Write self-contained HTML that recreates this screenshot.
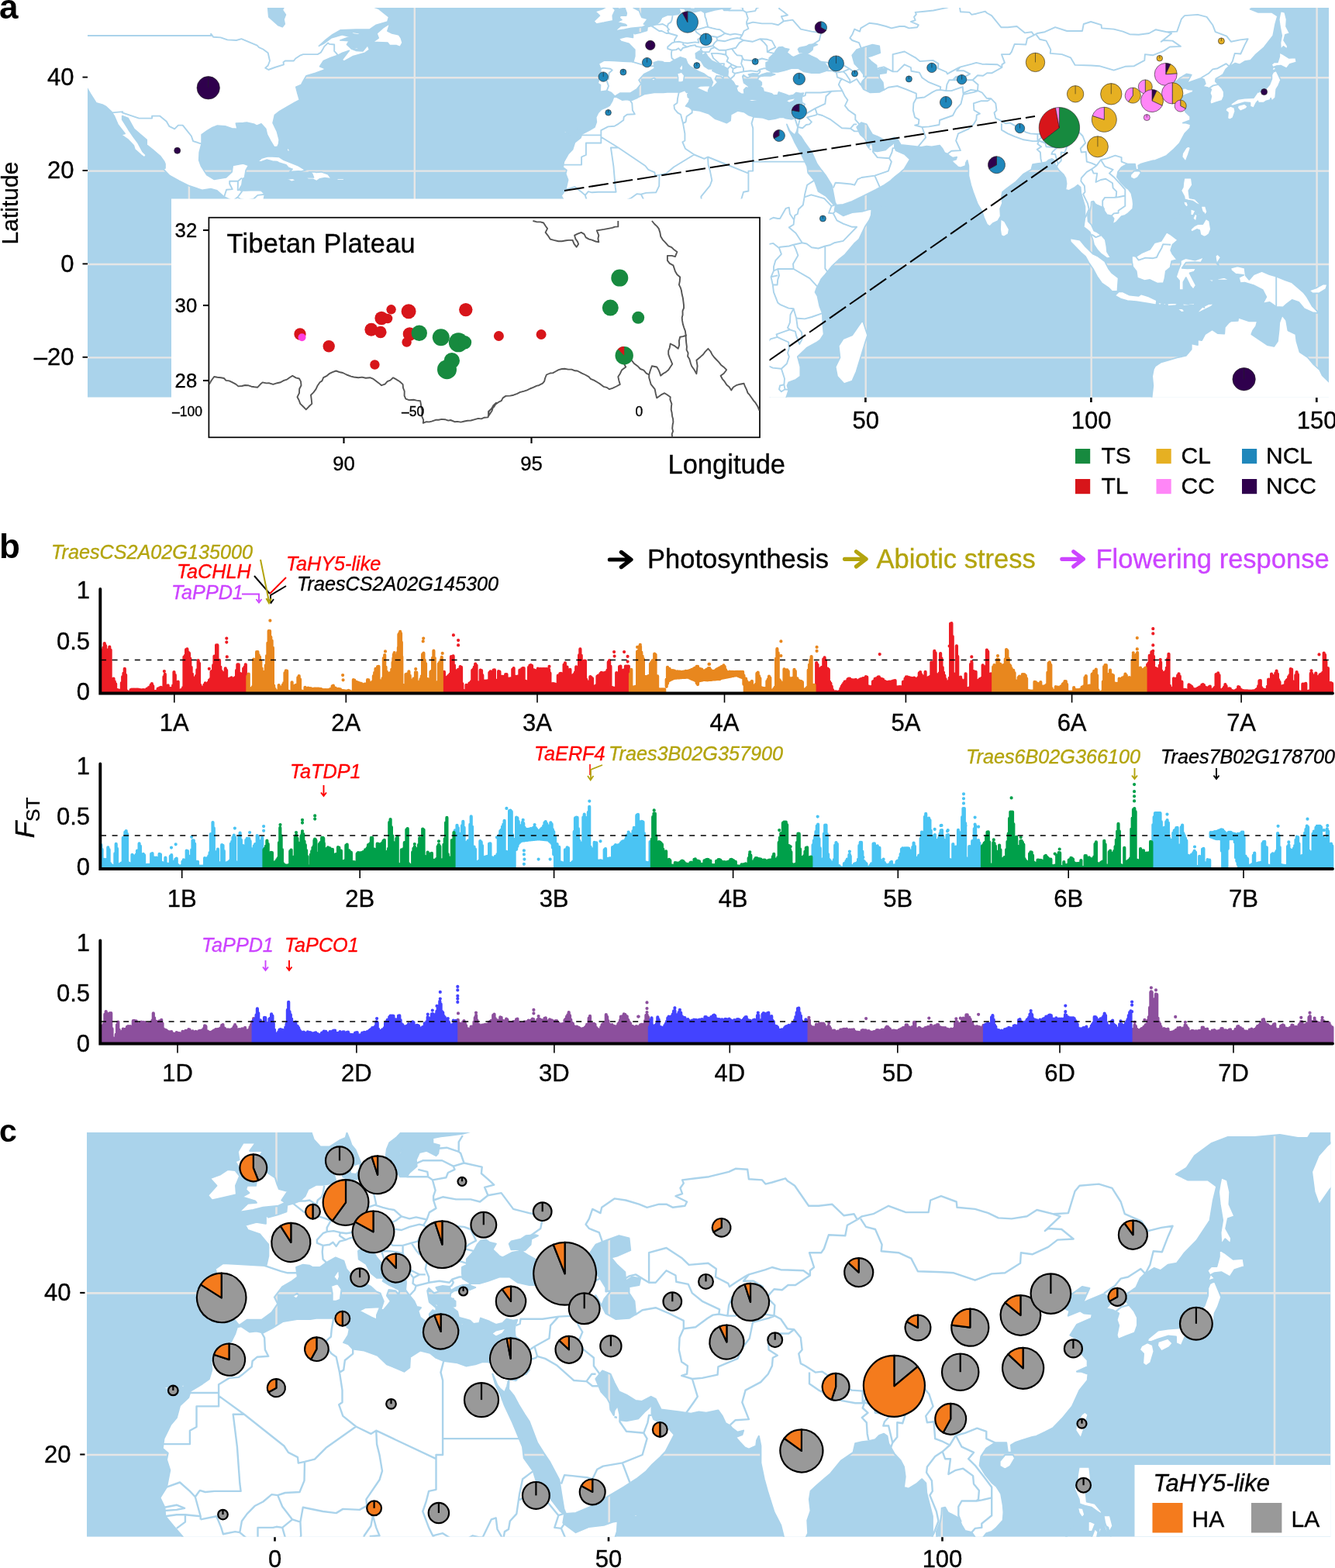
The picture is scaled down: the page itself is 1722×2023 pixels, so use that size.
<!DOCTYPE html>
<html lang="en"><head><meta charset="utf-8"><title>Figure</title>
<style>html,body{margin:0;padding:0;background:#fff}svg{display:block}</style></head>
<body>
<svg width="1722" height="2023" viewBox="0 0 1722 2023" font-family="'Liberation Sans', sans-serif">
<rect width="1722" height="2023" fill="#fff"/>
<clipPath id="ca"><rect x="113.0" y="10.0" width="1601.0" height="502.70000000000005"/></clipPath>
<g clip-path="url(#ca)">
<rect x="113.0" y="10.0" width="1601.0" height="502.70000000000005" fill="#aad3eb"/>
<path d="M113.0,100.2H1714.0M113.0,220.6H1714.0M113.0,341H1714.0M113.0,461.4H1714.0M243.9,10.0V512.7M534.8,10.0V512.7M825.8,10.0V512.7M1116.7,10.0V512.7M1407.7,10.0V512.7M1698.6,10.0V512.7" stroke="#e6e6e6" stroke-width="2.4" fill="none"/>
<path d="M854.8,-50.3 854.8,-32.2 854.8,-26.2 856,-20.2 858.3,-14.2 864.2,-8.8 872.3,-8.8 881,-13.6 886.3,-15.4 887.4,-19 889.8,-14.2 891.5,-10 895,-6.4 899.1,2.1 900.8,6.3 901.4,7.5 908.4,7.5 909.5,4.5 918.3,3.3 921.2,0.3 922.3,-7 924.7,-11.8 931.1,-16 935.7,-20.2 926.4,-24.4 925.8,-32.2 949.7,-32.2 950.3,-26.2 949.7,-23.8 956.7,-20.2 959.6,-19.6 971.2,-21.4 982.9,-23.2 991.6,-23.2 995.7,-20.2 988.7,-18.5 977,-17.2 969.5,-16.6 962.5,-15.4 962.5,-11.2 968.3,-10 967.2,-3.9 965.4,-2.1 957.3,-5.8 950.9,-4.5 947.9,0.9 948.5,5.7 942.1,10.5 939.8,13.5 934,13.5 932.2,11.1 921.8,12.9 909,16.5 904.3,13.5 896.2,15.3 889.8,15.9 883.9,13.5 883.4,11.1 881.6,6.9 885.1,2.7 889.2,1.5 885.7,-2.1 887.4,-6.4 881,-2.7 873.5,-0.9 872.9,6.9 875.8,10.5 877.5,15.9 875.2,18.3 866.5,19.5 860.7,19.5 853.7,22.5 850.8,28 846.1,31.6 840.3,33.4 835.1,34.6 834.5,39.4 826.9,41.8 818.8,43.6 816.4,41.8 816.4,48.4 808.3,47.2 798.4,49.6 800.7,53.2 811.2,56.3 814.1,59.3 818.8,64.1 818.8,72.5 817,79.1 815.3,79.7 803.6,79.1 792,78.5 779.2,77.9 772.2,82.1 774.5,88.2 775.1,94.2 771.1,107.4 774.5,109.8 774,118.3 782.7,117.1 788.5,119.5 793.2,124.3 800.1,120.1 812.9,120.1 821.7,114.6 826.9,108 824,103.2 831,95.4 838.6,91.8 844.4,88.2 843.8,85.2 843.2,80.9 849,79.1 854.8,79.7 857.2,80.9 864.2,80.9 868.8,77.9 877.5,73.7 884.5,76.1 886.8,82.1 890.3,85.8 897.3,90 901.4,92.4 908.4,95.4 913,99 916.5,100.2 919.4,106.2 917.1,112.2 919.4,112.8 922.3,109.8 925.8,106.2 922.3,102 924.1,97.8 929.9,98.4 932.8,101.4 933.4,97.8 924.7,94.2 918.9,91.2 920,88.8 913.6,88.8 908.4,85.2 904.3,78.5 897.9,74.9 897.3,68.9 902,65.9 906.1,66.5 904.9,70.1 907.2,70.7 910.1,68.3 913,73.1 918.3,78.5 927.6,82.7 933.4,85.8 938.6,88.8 939.2,92.4 938.6,97.8 942.1,102 946.2,106.2 948.5,110.4 952,111 949.7,113.4 951.4,118.3 956.1,121.3 960.2,121.3 959.6,115.9 962.5,112.8 965.4,114 965.4,111 959.6,106.8 959,104.4 957.8,98.4 959,96.6 963.7,100.2 967.7,99 965.4,96 971.2,94.8 977,95.4 978.2,98.4 982.9,96 988.7,94.2 994.5,93.9 995.1,92.7 988.7,89.4 988.1,85.2 988.1,80.9 992.2,79.1 992.2,74.9 998.6,68.9 1001.5,64.1 1004.4,61.1 1009,60.5 1012,62.3 1017.8,63.5 1014.9,67.7 1020.7,72.5 1023.6,73.7 1031.7,70.1 1038.7,68.9 1038.1,67.4 1031.2,67.7 1029.4,63.5 1031.2,61.7 1039.9,59.9 1044,57.5 1052.1,56.9 1054.4,57.5 1048.6,59.9 1048,64.1 1043.4,68 1039.9,68.9 1045.7,71.9 1053.3,75.5 1056.8,78.5 1064.3,82.1 1068.4,87.6 1067.8,90.6 1056.8,94.2 1046.9,94.2 1037,92.4 1030,88.2 1020.7,88.2 1010.8,91.2 1003.2,93 995.7,93 994.8,94.5 999.7,96 994.5,97.8 985.8,97.8 981.1,98.4 978.2,100.2 977.6,103.2 982.3,106.2 982.3,109.8 978.8,110.4 984,114 985.2,118.3 990.4,119.5 995.1,120.7 998,123.1 1003.2,122.5 1004.4,118.9 1012,121.3 1017.8,123.7 1023.6,122.5 1027.1,119.5 1032.9,120.7 1036.4,120.1 1034.7,124.3 1034.1,127.3 1034.7,133.3 1032.3,136.9 1030,141.7 1028.3,147.8 1025.3,152.6 1021.3,153.8 1013.7,152.6 1010.8,151.4 1005.6,151.4 999.7,153.2 991.6,154.4 984,152 972.4,150.8 965.4,148.4 960.2,144.7 951.4,142.9 942.7,147.8 942.1,155.6 937.5,158.6 927.6,155 922.3,153.2 914.2,146.6 902.6,142.9 892.7,141.7 888.6,138.1 884.5,136.9 888.6,131.5 889.8,126.7 887.4,125.5 886.8,121.9 890.3,118.3 885.7,119.5 883.4,116.5 877,118.9 871.1,118.9 860.7,118.9 855.4,119.5 843.8,119.5 831.6,121.3 822.3,126.1 814.1,129.7 808.3,128.5 802.5,129.1 794.9,124.9 791.4,125.5 789.7,130.3 786.2,136.3 781.5,138.7 775.7,141.1 771.6,145.4 768.7,151.4 769.3,157.4 767,164 761.2,167.6 750.7,173 748.9,177.9 741.4,183.9 738.5,192.9 733.2,198.3 727.4,208.6 726.2,215.8 730.9,219.4 729.7,224.2 732.6,232 729.7,244.7 723.9,252.5 728,259.7 728.6,266.4 735.6,273.6 746,283.8 748.9,289.8 762.9,303.1 780.9,314.5 802.5,309.1 813.5,312.7 824.6,307.9 832.7,304.3 845.5,302.5 860.7,315.1 866.5,314.5 875.2,313.9 882.2,317.5 882.8,327.2 880.4,338.6 876.4,345.2 881,353 894.4,369.9 897.3,377.1 902.6,394 904.3,415 896.2,432.5 894.4,445.1 898.5,455.4 910.1,478.9 913.6,501.1 921.8,513.2 926.4,524.6 932.8,545.1 942.1,550.5 974.7,545.7 988.1,539.7 1006.1,521 1014.3,512.6 1017.2,503.5 1015.4,497.5 1017.2,493.3 1026.5,489.7 1032.3,485.5 1032.3,473.4 1028.8,460.2 1040.5,448.8 1052.7,442.1 1057.9,438.5 1062.6,431.3 1061.4,419.3 1060.8,404.2 1057.3,395.2 1054.4,381.9 1051.5,377.1 1053.3,371.7 1056.8,365.1 1059.1,360.3 1064.3,354.2 1073.1,343.4 1081.8,335 1089.4,329 1102.2,313.9 1108,308.5 1115.5,292.8 1121.4,283.8 1123.7,277.8 1124.3,270 1119.6,270.6 1112,273 1099.2,274.2 1087.6,278.4 1078.9,273 1076.5,271.2 1077.7,265.1 1074.2,262.7 1065.5,253.1 1055.6,247.1 1050.4,232.6 1042.2,223 1041.1,214.6 1035.2,202.5 1032.3,196.5 1025.3,183.9 1022.4,177.3 1017.2,167.6 1014.9,160.4 1016,162.8 1018.9,168.8 1021.3,171.2 1025.3,174.2 1027.7,169.4 1029.1,163.4 1028.8,171.8 1033.5,176.7 1037.6,183.3 1042.8,190.5 1046.9,195.9 1053.9,211.6 1059.7,219.4 1064.9,226 1073.1,239.3 1075.4,251.9 1077.1,260.9 1078.9,264.5 1087.6,263.9 1099.2,259.7 1111.5,253.7 1129.5,244.7 1140.6,238.7 1148.7,233.2 1154.5,227.8 1161.5,222.4 1166.2,218.2 1173.7,205.6 1166.7,198.9 1155.7,194.1 1153.9,189.9 1153.9,182.7 1151.6,185.7 1147.5,188.7 1142.3,193.5 1131.8,195.3 1126,194.7 1126,190.5 1124.3,183.9 1121.4,187.5 1120.8,191.1 1117.9,186.9 1117.3,182.1 1115,178.5 1109.7,173.6 1105.1,164 1108.6,160.4 1110.9,158 1117.9,160.4 1121.4,167 1125.4,173.6 1131.8,176.1 1140,180.3 1145.2,180.9 1153.4,177.3 1157.4,179.1 1162.1,186.9 1178.4,188.7 1188.3,189.9 1195.3,188.7 1201.7,189.3 1212.1,187.5 1215.6,191.7 1218.5,197.1 1222.6,198.9 1224.4,200.7 1229,203.7 1234.2,202.5 1233.1,205.6 1227.3,207.4 1230.8,211 1235.4,215.2 1238.9,216.4 1245.3,214 1245.9,209.8 1247.6,206.8 1249.4,214 1249.4,226.6 1252.3,238.7 1255.2,247.7 1261,263.3 1266.8,273 1269.2,280.8 1273.2,289.8 1276.7,292.2 1280.8,288 1287.2,285 1290.7,279 1290.1,269.4 1293,262.1 1291.9,253.7 1293,247.7 1298.3,243.5 1304.7,238.7 1310.5,234.4 1319.8,224.8 1325,221.8 1330.3,218.8 1332,212.2 1337.8,211 1343.6,210.4 1349.5,209.2 1353,206.2 1357,204.9 1359.9,206.8 1361.1,212.2 1366.3,220 1371.6,224.8 1374.5,229.6 1375.6,236.9 1374.5,244.7 1378.6,245.9 1385.5,242.3 1390.2,238.7 1393.7,241.7 1394.3,248.9 1396.6,256.7 1399.5,266.4 1399.5,280.8 1397.8,292.8 1401.8,295.9 1405.9,299.5 1409.4,308.5 1411.1,315.7 1415.8,322.9 1420.5,327.8 1428,333.2 1432.7,332.6 1428,324.7 1427.4,318.1 1425.7,309.1 1421,303.7 1415.2,299.5 1411.1,297.7 1407.7,289.8 1403.6,285.6 1403,277.8 1406.5,270 1407.4,265.1 1407.7,260.3 1410.6,259.7 1412.9,263.3 1415.2,264.5 1422.2,267.6 1425.1,273 1428,277.2 1433.8,278.4 1436.7,282 1435,289.2 1439.7,286.8 1446.6,279 1451.3,277.8 1454.8,275.4 1461.2,269.4 1461.8,263.3 1461.2,257.9 1459.4,249.5 1455.4,244.1 1451.9,241.7 1446.1,235.7 1440.8,228.4 1442,221.8 1446.6,215.8 1454.2,211.6 1460.6,211.6 1464.1,211.6 1465.3,218.8 1468.7,218.8 1468.2,213.4 1471.7,211.6 1477.5,209.8 1486.8,207.4 1490.3,206.8 1497.8,203.7 1504.8,200.7 1513,193.5 1521.7,184.5 1528.1,172.4 1535.1,165.2 1535.7,160.4 1529.8,158.6 1525.8,158.6 1535.1,155 1535.1,150.2 1529.3,144.7 1525.8,134.5 1520,131.5 1525.8,123.7 1538.6,118.9 1539.2,115.9 1532.2,115.3 1528.7,113.4 1518.2,117.1 1519.4,113.4 1512.4,110.4 1511.2,106.2 1518.2,104.4 1521.7,100.8 1530.4,95.4 1536.8,96.6 1531,107.4 1535.7,105.6 1549.1,100.8 1553.1,102.6 1554.9,108 1551.4,111.6 1557.2,112.8 1562.4,115.3 1560.7,120.1 1562.4,124.3 1560.7,131.5 1561.9,134.5 1568.8,132.1 1576.4,129.7 1578.7,124.3 1578.7,118.3 1575.8,113.4 1567.7,105 1568.3,101.4 1573.5,98.4 1577.6,96 1581.1,89.4 1584.5,86.4 1593.3,81.5 1599.1,83.3 1605.5,79.1 1613.1,77.9 1620,70.1 1630.5,61.1 1642.2,46 1645.1,31 1648,20.7 1640.4,15.9 1625.9,15.9 1623,15.9 1612.5,11.7 1621.8,6.9 1628.8,-2.1 1643.3,-11.2 1657.9,-16 1681.1,-16 1703.3,-17.8 1719,-15.4 1727.7,-15.4 1737.6,-29.2 1756.8,-30.4 1777.2,-35.2 1780.1,-26.2 1765.5,-23.2 1745.2,-10 1737,-2.1 1731.2,9.9 1733.5,25 1737.6,34.6 1746.9,23.1 1756.8,12.9 1767.3,8.7 1769.6,2.7 1776,-7 1785.9,-20.2 1815,-50.3ZM792.6,40 805.4,38.2 814.1,36.4 827.5,35.2 833.9,32.8 830.4,31 835.6,24.3 828.1,22.5 826.3,18.9 824.6,14.1 817,9.9 814.1,4.5 807.1,3.9 814.1,-5.8 802.5,-5.8 807.7,-11.8 796.7,-11.8 792,-5.1 793.2,0.9 789.7,2.1 793.7,8.1 797.8,6.3 796.7,11.7 806,10.5 808.3,17.1 807.7,20.1 800.1,20.1 799,23.1 801.9,25.6 795.5,28.6 807.1,31.6 808.3,32.8 800.7,33.4 792.6,40ZM790.8,26.8 790.3,20.1 793.7,12.9 789.7,8.7 783.3,8.1 776.9,11.7 767.6,14.7 773.4,20.1 765.8,27.4 769.3,31 779.2,29.2 790.8,26.8ZM890.3,5.7 899.1,3.3 898.5,8.1 895.6,11.7 890.3,11.1 890.3,8.7 883.9,9.9 882.8,6.9 888,6.3ZM931.1,-2.1 936.3,-7.6 935.1,-3.9ZM875.8,88.2 880.4,82.1 881,88.2 879.3,91.8 875.8,88.2ZM873.5,94.8 879.3,93 882.8,97.2 881.6,105 878.1,106.2 874.6,106.2 874.6,100.2ZM897.9,113.4 903.1,111 916.5,110.4 913.6,116.5 913.6,120.1 909,118.3 897.9,113.4ZM962.5,128.5 968.3,127.9 978.8,129.1 978.2,130.3 969.5,130.9 962.5,128.5ZM1013.7,130.3 1017.8,127.9 1027.1,126.1 1023.6,130.3 1017.8,132.7 1013.7,130.3ZM839.7,102.6 843.8,100.5 845.5,102 843.2,104.4 839.7,102.6ZM960.8,106.8 968.9,112.2 966.6,108.6ZM986.9,123.1 989.8,121.9 988.7,124.9ZM976.5,105 980.5,104.4 979.4,106.2ZM1290.7,282.6 1295.9,285.6 1301.7,295.9 1300.6,301.9 1294.8,305.5 1291.3,303.7 1290.1,295.9 1290.7,282.6ZM1112.6,413.2 1119,432.5 1115.5,443.3 1110.9,458.4 1104.5,479.5 1099.2,491.5 1088.8,495.1 1080,485.5 1077.7,473.4 1083.5,461.4 1081.8,446.4 1087.6,437.3 1099.2,432.5 1105.1,424.1 1112.6,413.2ZM1136.5,265.1 1142.9,265.1 1140,267ZM1458.3,225.4 1462.9,220.6 1469.9,220.6 1471.7,223 1467.6,229 1462.9,231.4 1458.3,229ZM1532.8,188.7 1535.7,190.5 1532.8,199.5 1529.3,208.6 1524.6,202.5 1525.2,197.7 1529.8,190.5ZM1587.5,136.9 1592.1,138.7 1593.3,143.5 1590.4,152 1586.3,154.4 1583.4,152.6 1584,145.4 1580.5,142.3 1582.2,139.3ZM1596.8,136.3 1605.5,133.9 1609.6,137.5 1606.7,140.5 1599.7,143.5 1596.2,139.3ZM1587.5,136.3 1588,133.9 1596.8,127.9 1605.5,126.7 1617.1,126.1 1621.2,120.1 1624.7,115.3 1623,118.9 1631.7,115.9 1637.5,109.2 1640.4,102 1640.4,96.6 1642.2,93 1646.2,91.2 1649.1,97.2 1652,103.2 1649.1,110.4 1646.2,115.3 1645.6,121.3 1645.1,126.1 1640.4,130.3 1639.2,126.7 1638.1,129.1 1633.4,130.3 1629.9,132.7 1623,132.7 1622.4,130.3 1620,133.3 1617.1,139.3 1612.5,137.5 1612.5,132.7 1605.5,132.1 1596.8,134.5 1590.9,136.3 1587.5,136.3ZM1640.4,91.2 1642.2,87 1639.8,83.3 1643.3,80.3 1648,80.3 1650.3,73.1 1650.3,67.7 1655,70.1 1662.5,74.9 1671.3,74.3 1672.4,80.3 1663.7,82.7 1659.6,88.2 1652,84.5 1646.2,85.2 1643.3,86.4 1646.8,89.4 1640.4,91.2ZM1652,14.1 1657.3,15.9 1659.6,25 1659,34 1663.7,43 1657.9,44.8 1656.1,52 1660.8,59.3 1660.2,63.5 1655.5,59.9 1652,64.1 1651.5,55.1 1653.2,46 1650.9,34 1649.7,25 1650.9,18.9 1652,14.1ZM1527.5,229.6 1536.8,229.6 1538,238.7 1533.3,245.9 1534.5,255.5 1541.5,256.7 1547.3,262.7 1547.9,265.1 1543.2,262.7 1538.6,259.7 1532.8,258.5 1528.1,257.3 1527.5,253.7 1523.4,245.9 1525.8,241.7 1526.4,235.7ZM1526.4,259.7 1531,260.3 1532.8,265.1 1530.4,267.6 1527.5,263.9ZM1507.7,290.4 1515.3,283.2 1521.1,276 1522.3,272.4 1519.4,277.8 1512.4,286.8ZM1535.7,269.4 1542.1,271.8 1539.2,277.8 1535.7,277.8ZM1541.5,275.4 1544.4,277.8 1542.7,285.6 1538.6,282ZM1545.6,273.6 1547.3,276 1543.8,283.8ZM1549.1,265.8 1554.9,265.8 1557.2,273.6 1553.1,279.6 1552,275.4 1550.2,271.2ZM1549.1,272.4 1553.1,274.8 1554.3,280.2 1552,280.2ZM1555.5,282 1560.1,285 1561.9,295.9 1559.5,301.9 1555.5,304.9 1553.1,305.5 1548.5,303.1 1547.3,297.1 1543.8,295.9 1536.8,299.5 1535.7,295.9 1540.3,291.6 1545,289.2 1551.4,289.2 1555.5,282ZM1460,330.2 1465.8,330.8 1473.4,325.9 1483.3,321.7 1489.1,313.3 1497.8,310.9 1504.8,299.5 1510.6,303.1 1519.4,309.7 1512.4,315.7 1510.1,322.9 1512.4,327.8 1518.2,335 1511.2,336.8 1509.5,345.2 1503.7,350 1502.5,359.1 1500.8,365.1 1493.2,365.7 1483.3,360.9 1476.3,362.1 1467,358.5 1465.8,350 1461.2,344 1460,336.2ZM1380.3,307.3 1393.1,309.7 1400.1,318.1 1410,327.8 1416.4,330.8 1425.1,337.4 1429.8,346.4 1433.8,351.8 1442.6,358.5 1442,366.9 1441.4,375.9 1434.4,375.9 1429.8,371.1 1421,365.1 1415.2,356.7 1410,347 1404.7,339.2 1400.1,330.8 1394.3,325.9 1387.3,318.7 1380.9,312.1ZM1437.9,381.3 1443.1,376.5 1448.4,376.5 1457.1,380.7 1468.7,381.9 1471.7,379.5 1481.6,382.5 1492,387.4 1491.4,393.4 1481.6,391.6 1465.8,389.2 1454.2,388 1445.5,385.5 1437.9,381.3ZM1492,389.8 1499,391 1496.1,394ZM1500.2,391 1504.8,391.6 1501.9,394.6ZM1505.4,391.6 1513.6,391 1518.8,391.6 1517,394 1506.6,395.2ZM1523.4,391.6 1532.8,392.2 1541.5,391 1540.3,393.4 1526.9,394.6ZM1518.2,398.2 1525.2,398.2 1528.7,401.8 1524,403ZM1544.4,403 1550.2,396.4 1558.9,392.2 1566.5,391.6 1561.9,395.8 1553.1,400 1547.3,403ZM1522.9,336.2 1529.3,333.2 1541.5,335.6 1553.1,331.4 1549.1,338.6 1541.5,338 1529.8,338.6 1524.6,345.8 1531.6,346.4 1543.2,345.8 1540.3,350.6 1534.5,352.4 1538.6,360.3 1542.7,368.1 1539.2,373.5 1535.1,368.7 1529.8,357.9 1526.4,363.9 1526.4,374.1 1521.1,374.1 1521.1,362.1 1517,357.3 1520,348.2 1522.9,341ZM1567.7,330.2 1570.6,327.8 1574.7,332 1570.6,338.6 1572.9,344.6 1569.4,339.8 1568.3,335ZM1570.6,359.7 1579.3,357.9 1586.9,361.5 1579.3,361.5 1570.6,361.5ZM1559.5,360.3 1565.9,360.9 1563.6,363.9 1559.5,362.1ZM1587.5,345.8 1596.2,343.4 1605.5,345.8 1606.7,355.4 1611.3,360.9 1617.1,354.2 1627.6,350 1637.5,354.2 1646.2,356.7 1657.9,361.5 1666.6,364.5 1674.2,371.1 1681.1,377.1 1685.8,383.1 1692.8,395.2 1701.5,404.2 1692.8,403 1682.3,398.2 1675.3,389.8 1666.6,386.8 1659.6,392.2 1655,396.4 1646.2,395.8 1637.5,389.8 1628.8,391.6 1633.4,383.1 1628.8,374.1 1617.1,368.1 1605.5,364.5 1599.7,365.1 1597.9,357.9 1604.3,354.8 1593.9,353.6 1588,348.8ZM1688.7,374.7 1698.6,371.1 1707.3,366.3 1712,366.9 1710.2,372.9 1701.5,378.3 1692.8,378.3ZM1487.4,497.5 1486.2,485.5 1488,476.4 1490.3,472.2 1497.8,467.4 1506.6,465 1518.2,461.4 1529.8,459 1536.8,450.6 1536.8,443.3 1545,445.1 1545,438.5 1550.2,439.1 1554.3,431.3 1563.6,425.3 1570.6,430.1 1579.3,430.7 1579.9,422.3 1585.1,416.2 1588,414.4 1596.8,413.8 1597.3,409.6 1611.3,414.4 1621.8,414.4 1620,421.1 1616,426.5 1614.2,431.3 1623,437.3 1634.6,445.1 1643.3,447 1648,440.3 1649.7,425.3 1650.3,416.2 1653.8,406.6 1659,413.2 1661.4,426.5 1671.3,431.3 1672.4,440.3 1676.5,454.2 1687,461.4 1694.5,470.4 1702.1,477.1 1705.6,484.3 1716.1,494.5 1717.8,506.5 1719.5,515.6 1719.5,533.6 1483.3,533.6ZM11.1,-20.2 51.8,3.9 69.3,12.9 80.9,34 98.4,46 100.1,49.6 104.2,62.9 101.9,82.1 103,97.8 110,110.4 112.9,114.6 116.4,120.7 124,132.7 132.1,135.1 136.8,137.5 143.8,144.1 147.3,149.6 151.9,160.4 161.2,172.4 156,173.6 165.3,180.3 172.3,187.5 174,192.9 182.2,200.1 186.2,203.1 188.6,200.1 183.9,195.3 178.1,184.5 172.3,176.7 165.3,166.4 157.7,154.4 157.7,149.6 165.3,152.6 172.9,166.4 180.4,173 189.2,180.3 189.2,186.9 197.3,193.5 206.6,201.3 211.8,208.6 213,211.6 213,217 210.7,218.2 218.8,226.6 231,233.2 244.4,239.9 260.7,245.3 271.8,243.5 279.9,245.9 288.7,253.7 296.2,257.3 307.9,260.9 315.4,262.7 319.5,268.8 325.3,274.8 338.1,274.8 339.9,265.8 340.4,256.7 341.6,250.7 337,245.9 331.1,245.3 316.6,245.9 310.8,245.9 308.4,244.7 311.9,238.7 313.1,230.2 315.4,229.6 317.2,219.4 320.7,213.4 313.7,211 300.3,213.4 299.1,221.8 291.6,229 276.4,231.4 266.5,225.4 259.6,214.6 256.7,206.8 257.2,196.5 260.1,185.1 260.1,173.6 267.1,168.8 274.1,164.6 279.9,162.2 290.4,162.8 299.1,165.8 306.1,166.4 304.4,159.2 313.7,158.6 318.3,158 328.2,160.4 331.1,162.2 337,159.8 342.8,166.4 344.5,173.6 348.6,181.5 353.8,189.9 357.9,189.3 359.6,185.7 360.2,180.3 357.3,169.4 352.1,158.6 354.4,148.4 360.8,143.5 371.9,136.9 380.6,132.1 386.4,129.1 383.5,118.9 381.8,112.2 388.7,109.2 389.9,106.8 395.1,97.8 406.8,94.2 418.4,90 418.4,88.2 412.6,85.8 417.3,78.5 427.1,74.3 435.9,71.3 441.7,68.3 450.4,65.3 441.1,77.3 444,79.1 455.7,72.5 470.8,68.3 476.6,64.1 474.3,58.1 467.9,65.9 459.2,65.3 453.3,62.9 447.5,57.5 450.4,52.6 438.8,52 451.6,47.2 441.7,44.8 427.1,49 417.3,56.3 411.4,59.3 416.1,55.1 420.2,51.4 428.9,44.8 439.4,38.8 459.2,38.2 476.6,38.2 485.3,32.2 499.9,28 501.6,21.9 494.1,15.9 488.2,11.1 479.5,8.1 473.7,3.9 470.8,-20.2ZM480.7,54.4 488.2,49 485.9,43 494.1,35.8 502.8,30.4 499.9,40 505.7,43 514.4,44.8 517.3,49 519.1,55.1 516.2,60.5 511.5,58.7 502.8,58.7 499.9,55.1 480.7,54.4ZM450.4,40.6 462.1,42.4 466.7,45.4 456.2,44.2ZM451,59.9 459.2,61.7 465,61.7 460.3,64.1 453.3,61.7ZM331.7,209.2 337,204.3 342.8,202.5 346.3,201.6 351.5,201.9 360.2,202.5 366,206.2 374.8,209.8 385.3,214 392.2,218.2 394.6,219.4 388.2,221.2 384.7,220.9 373.6,221.5 377.1,218.2 371.9,216.4 369,212.8 360.8,210.4 357.3,208.6 351.5,208 343.9,206.2 337.5,208.6 331.7,209.2ZM392.8,229 398.1,231.4 403.9,231.4 408.5,233.8 412.6,230.8 419,229.6 427.7,230.8 423.1,224.8 414.3,221.8 407.9,222.4 405.6,221.8 398.6,221.8 402.7,224.2 404.5,229 392.8,229ZM370.1,230.8 377.7,230.2 382.3,232.6 376.5,234.4 370.1,231.4ZM434.7,230.2 444,230.2 443.4,232.6 434.7,232.6ZM370.7,189.9 373.6,193.5 372.4,197.1 370.1,193.5ZM727.4,170 732.1,169.4 729.7,172.4ZM733.8,171.8 736.1,171.8 735.6,173.6ZM742.5,168.8 745.4,168.2 744.3,171.8ZM745.4,165.2 747.8,165.2 747.2,167ZM1113.8,61.1 1105.1,64.1 1099.2,71.3 1102.2,82.1 1108,88.2 1113.8,96 1113.8,99 1118.4,98.4 1112.6,104.4 1110.3,109.2 1113.8,115.3 1122.5,119.5 1134.2,118.9 1140,115.9 1138.8,106.2 1134.2,100.2 1134.2,95.4 1142.9,94.2 1144,89.4 1137.1,88.2 1131.2,91.2 1130.7,84.5 1123.7,79.1 1118.4,73.7 1123.7,72.5 1135.3,68.3 1134.2,59.3 1125.4,57.5ZM345.1,3.9 346.8,21.9 354.4,28.6 359.1,32.8 364.3,34.6 367.2,31 366,25 368.4,18.9 364.3,12.9 369,3.9Z" fill="#fff" stroke="#aad3eb" stroke-width="1.7" stroke-linejoin="round" fill-rule="evenodd"/>
<path d="M108.3,46 272.1,46 272.1,43.6 275.3,47.8 284.6,48.4 293.3,51.4 304.9,52 311.4,50.2 331.7,58.7 334,61.1 339.3,63.5 345.7,68.3 348,78.5 345.7,84.5 342.2,87.6 346.3,90 354.4,87 366,83.3 365.5,80.3 367.8,78.5 378.9,78.5 381.2,75.5 387.6,71.3 391.1,70.1 409.7,70.1 413.8,67.7 416.7,62.9 418.4,59.9 423.1,55.4 424.8,56.9 431.2,57.5 431.2,65.9 433.5,68.3 435.9,71.3M144.3,145.4 158.3,144.1 157.7,145.4 179.3,152.6 196.1,152.6 196.1,149.6 206,149.6 214.8,156.8 218.2,162.8 225.2,166.4 229.9,161.6 235.7,161.6 240.9,168.2 246.8,175.5 249.1,182.1 258.4,185.1 260.1,185.1M289.2,253.7 292.1,244.7 299.7,244.1 296.2,237.2 296.2,233.8 307,233.8 311.9,229.6M307,233.8 306.7,245.3 308.4,245.3M312.5,246.5 306.7,254.3 301.5,258.2M306.1,254.3 310.8,257.3 315.4,257.9 314.8,260.9M317.8,262.7 321.2,257.9 327.1,256.7 332.3,251.9 341.6,250.7M812.9,129.7 815.3,133.3 815.9,142.3 818.8,147.2 808.9,147.8 804.8,150.8 804.2,155 796.7,160.4 792.6,162.8 784.4,163.4 775.3,168.2 775.3,176.7 775.3,184.5 755.9,184.5 755.9,199.8 750.1,202.5 750.1,212.6 727.1,212.6M775.3,174.4 748.9,174.4M775.3,176.7 797.6,190.5 832.4,214 836.2,218.8 844.4,222.4 845,226.7 850.5,225.7 859.2,223.9 869.1,215.5 895.4,199.5M797.6,190.5 787.9,190.5 791.4,214.6 793.7,241.7 794.6,247.7 771.6,247.7 763.5,248.3 758.8,247.1 754.8,251.9M729.7,244.7 741.4,241.1 750.1,247.7 754.8,251.9 759.4,266.4 759.4,268.8M728.6,266.4 738.5,265.1 746,265.1 759.4,266.4M728,259.7 738.5,257.9 745.4,260.3 738.5,261.5 728,262.1M738.5,275.4 746,270.6 746,265.1M759.4,268.8 773.4,266.4 777.5,274.8 779.2,279.6 789.7,277.8 793.7,278.4 795.5,270 800.1,264.5 807.1,258.5 814.1,255.5 821.7,250.1 826.9,250.7 833.3,248.9 846.1,248.3 850.2,239.9 850.5,225.7M793.7,278.4 799.6,282.6 809.5,283.2 809.5,274.8 822.8,274.8 825.8,274.2 831,274.8 839.7,268.8 831,259.1 826.9,250.7M831,274.8 835.1,286.8M839.7,268.8 846.7,270.6 849,259.7 866.5,262.7 878.1,263.9 883.9,260.9 898.5,261.5 904.9,258.5 907.8,262.1 910.1,265.8 908.4,273.6 902.6,280.8 900.2,288.6M846.7,270.6 847.3,280.8 841.5,292.8M910.1,265.8 913,274.8 915.9,280.8 907.2,281.4M904.9,258.5 904.3,253.7 915.9,239.3 918.3,232.6 915.9,220.6 913.6,212.8 913,202.5M895.4,199.5 908.4,204.9 913,202.5 965.4,223.6 965.4,246.5 959,247.7 956.7,255.5 953.8,262.7 959,274.8 962.5,280.8M965.4,223.6 965.4,220.6 971.2,220.6 971.2,208.6 971.2,165.2 969.5,159.2 972.1,150.5M971.2,208.6 1008.5,208.6 1040.5,208.6M892.7,141.7 892.7,145.4 885.7,150.2 884.5,157.4 881,159.2 883.4,172.4 883.4,181.5 880.4,183.3 883.9,191.7 895.4,199.5M875.8,118.9 874,127.3 873.5,132.7 869.4,135.7 870,140.5 874,145.4 878.1,147.8 881,159.2M1050.4,232.6 1041.1,238.7 1038.1,250.7 1037.6,254.3 1035.8,264.5 1030,270 1028.8,276 1025.3,277.8 1024.2,283.8 1023.6,289.8 1017.8,293.4 1026.5,300.7 1034.7,313.3 1023.6,315.7 1017.8,317.5 1006.1,318.7 1005,319.9 1007.9,327.8 1000.3,336.2 998,344 998,349.4 994.5,357.3 996.8,367.5 998,377.1 1003.2,390.4 1006.1,392.8 1017.2,397.6 1023.6,398.2 1019.5,406 1018.9,416.2 1016,422.9 1018.9,425.3 1001.5,431.3 1002.6,434.9 993.9,437.3 982.9,448.8 973,448.2M1037.6,254.3 1046.3,251.3 1052.7,253.1 1063.2,256.1 1072.5,265.8 1076.5,264.5M1072.5,265.8 1069,274.8 1074.8,275.4 1077.7,271.8M1074.8,275.4 1079.5,284.4 1087.6,288.6 1099.2,292.8 1105.1,292.8 1087.6,310.9 1076,313.3 1070.1,316.3 1064.3,317.5 1055.6,320.5 1046.9,319.3 1040.5,314.5 1034.7,313.3M1064.3,317.5 1064.3,341 1064.3,346.4 1067.8,351.2M1053.9,369.3 1044.5,359.1 1023.6,347 1023,340.4 1026.5,334.4 1029.4,329.6 1026.5,321.7 1023.6,315.7M1023.6,347 1003.2,347 998,349.4M1003.2,347 1005,355.4 1003.2,360.9 1002.6,367.5 996.8,367.5M994.5,357.3 1003.2,355.4M1060.8,404.2 1046.9,409 1038.1,411.4 1029.4,410.8 1027.1,410.2 1028.8,422.3 1034.1,428.9 1034.7,437.3 1031.2,443.9 1027.1,433.1 1025.9,427.7 1018.9,425.3M1023.6,398.2 1027.1,410.2M1002.6,434.9 1007.9,437.3 1017.2,441.5 1017.8,449.4 1016,455.4 1017.8,460.2 1014.9,469.2 1007.9,475.8 1012,488.5 1011.4,496.3 1012.5,502.3 1017.2,502.9M1007.9,475.8 996.8,474.6 988.7,471 986.9,464.4 978.2,459.6 973,448.2M1011.4,496.3 1006.1,497.5 1005,502.3 1007.9,505.3 1012.5,502.3M992.8,513.2 996.8,518 991,522.8 982.9,519.2 992.8,513.2M962.5,280.8 968.3,288 972.4,295.9 980,304.9 985.2,310.9 991,315.1 997.4,313.9 1005,319.9M962.5,280.8 971.2,279 980,283.8 988.7,285 997.4,280.8 1003.2,282 1006.1,282 1013.7,268.8 1017.8,267.6 1018.9,276 1024.2,283.8M774.5,88.8 778,87.6 787.3,88.8 789.7,90.6 785.6,94.2 785,102 782.1,102.6 785,111 782.7,117.1M815.3,79.7 829.8,83.9 835.6,85.2 843.8,85.2M869.4,77.3 866.5,74.9 865.9,69.5 866.5,64.7 861.2,62.9 861.2,60.5 866.5,55.7 870,54.4 870,51.4 873.5,46 863,43 859.5,43 853.7,40 850.2,40 840.3,33.4M845.5,31.6 850.8,31.6 854.8,31 860.1,34 860.7,35.2 861.8,31 865.3,28.6 866.5,26.2 867.6,20.1M860.7,35.2 863,38.2 861.2,39.4 863,43M875.8,10.5 883.4,11.1M909,16.5 909.5,21.9 910.7,24.3 911.3,27.4 913,34 911.9,34.6 901.4,37.6 896.2,38.2 898.5,41.8 906.1,47.2 900.2,50.8 901.4,55.1 896.7,54.4 886.8,55.7 881.6,55.1 875.8,53.8 870,54.4M866.5,64.7 872.3,64.1 875.2,62.3 878.1,65.3 881,61.7 886.3,60.5 889.8,59.3 896.7,58.1 897.9,59.9 905.5,61.1 903.7,64.1 906.1,66.5M881.6,55.1 881,57.5 886.3,60.5M905.5,61.1 913,60.5 918.9,59.3 919.4,58.7 921.8,55.1 925.3,52 924.1,47.8 913,46 906.1,47.2M911.9,34.6 918.9,36.4 924.1,37.6 928.7,38.2 935.1,43 942.1,44.8 947.9,43.6 957.3,45.4 959.6,40 965.4,37 963.1,31 963.1,28 964.8,23.7 962.5,16.5 962.5,15.9M935.1,43 930.5,46 924.7,48.4 924.1,47.8M925.3,52 935.1,53.2 942.1,50.8 950.9,49 954.3,49.6 957.3,45.4M939.8,13.5 958.4,13.5 962.5,15.9 974.1,14.1 975.9,10.5 981.7,8.1 980.5,5.7 989.8,3.3 1005.6,6.3 1005,11.1 1010.8,15.3 1016,19.5 1007.9,21.3 1010.8,27.4M958.4,13.5 957.8,9.9 949.7,8.1M948.2,3.5 953.8,1.5 970.6,1.5 980.5,5.7M989.8,3.3 986.9,-3.9 985.2,-5.1 985.2,-12.4 988.7,-17.2M967.2,-7.6 974.7,-8.2 985.2,-5.1M963.1,31 971.2,28.6 982.9,30.4 995.7,30.4 1003.8,32.2 1010.8,27.4 1022.4,25.6 1032.9,37.6 1046.9,40.6 1059.1,42.4 1056.8,52 1048,57.5M954.3,49.6 959,52 970.6,53.8 980.5,50.2 989.8,50.8 995.7,52.6 1000.3,61.1 993.9,64.1 989.8,67.1 998.6,68.9M980.5,50.2 985.8,55.1 989.3,59.3 989.8,67.1M959,52 953.8,55.1 949.1,61.7 943.9,62.9 936.3,64.7 935.1,64.7 927.6,64.7 921.8,61.1 919.4,58.7M943.9,62.9 947.9,68.3 950.9,71.3 956.7,71.9 957.8,74.9 959.6,77.3 974.1,78.5 982.9,75.5 992.2,77.9M957.8,74.9 956.1,82.1 959,88.2 959,92.4 968.3,91.2 977,92.4 979.4,90 985.8,88.2 988.7,88.2M979.4,90 980.5,92.4 978.8,94.8 977,95.4M942.1,102 946.8,97.8 947.9,94.8 959,92.4M938.6,88.8 942.1,85.2 945.6,88.8 945,93 947.9,94.8M942.1,85.2 943.9,83.3 937.5,79.1 939.2,74.9 936.3,70.7 936.3,64.7M933.4,85.8 934,82.1 928.2,82.1 920,74.9 917.7,68.9 924.7,68.9 930.5,69.5 936.3,70.7M904.9,67.1 914.8,67.1 917.1,62.9 921.8,61.1M945.6,88.8 950.9,86.4 956.1,86.4M943.9,83.3 950.9,86.4M1035.2,124.3 1038.7,123.1 1039.3,119.5 1046.9,119.5 1058.5,119.5 1072.5,117.7 1086.4,117.1 1081.8,109.2 1084.1,103.8 1086.4,102 1080,99.6 1078.9,93.6 1073.1,91.2 1067.2,91.2M1058.5,79.7 1070.1,80.9 1080.6,84.5 1087.6,83.9 1095.8,88.8 1101,92.4 1108.6,89.4M1078.9,93.6 1087.6,92.4 1095.8,88.8M1087.6,92.4 1091.1,95.4 1093.4,99 1096.3,103.2 1096.3,106.8M1086.4,102 1096.3,106.8 1105.1,102 1110.3,109.8M1139.4,116.5 1145.8,112.8 1157.4,111 1169.1,115.3 1181.9,120.7 1181.9,126.7 1178.4,133.3 1177.8,142.3 1180.1,151.4 1185.4,154.4 1184.8,160.4 1180.1,161.6 1189.4,164 1194.1,177.3 1191.2,180.9 1184.2,189.3M1086.4,117.1 1089.9,124.3 1093.4,129.1 1089.9,136.3 1094.6,142.3 1103.3,148.4 1103.3,154.4 1108.6,160.4M1072.5,117.7 1065.5,124.3 1064.3,133.9 1051.5,139.9 1053.9,147.2 1060.8,149 1070.7,153.8 1085.9,165.2 1095.8,165.8 1096.9,165.8 1101.6,160.4 1105.1,160.4M1096.9,165.8 1102.2,169.4 1107.4,169.4M1051.5,139.9 1039.9,146.6 1033.5,144.1 1032.9,141.1 1035.2,139.3 1038.1,134.5 1034.7,132.7M1032.9,141.1 1030,141.7M1033.5,144.1 1032.3,151.4 1029.4,163.4M1025.3,152.6 1028.8,163.4M1029.4,164 1035.2,165.2 1039.9,161 1044,160.4 1046.9,157.4 1041.1,151.4 1052.7,148.4 1053.9,147.2M1074.8,242.3 1077.7,235.7 1084.7,236.3 1097.5,237.5 1102.2,238.7 1106.2,231.4 1111.5,229 1128.3,226.6 1145.8,220.6 1149.9,208.6 1147,204.3 1131.8,203.1 1126,195.9 1126,194.7M1128.3,226.6 1134.7,241.1M1147,204.3 1150.5,196.5 1151.6,191.1 1153.9,191.1M1121.4,192.3 1123.7,192.9M1110.9,62.3 1108,55.1 1099.2,52 1096.3,49 1099.2,44.8 1102.2,37.6 1109.1,40.6 1110.3,36.4 1121.4,29.8 1131.2,31 1142.9,34 1149.9,36.4 1160.3,34 1166.7,34 1172.6,36.4 1183,35.2 1184.8,32.2 1174.9,28 1180.7,26.2 1179,21.9 1181.9,18.3 1180.7,15.9 1192.3,14.7 1204,13.5 1221.4,9.9 1227.3,7.5 1237.7,8.1 1238.9,15.3 1250.5,15.9 1253.4,18.9 1259.3,17.7 1270.9,14.7 1272.6,16.5 1279.1,20.1 1291.3,35.2 1300,35.2 1311.6,34 1322.1,42.4 1330.8,41.2 1333.7,45.4M1333.7,45.4 1325,49.6 1323.3,57.5 1308.7,56.9 1304.7,67.1 1302.3,70.1 1291.9,70.1 1295.9,80.9 1292.4,83.3 1292.4,87 1279.6,94.2 1273.2,94.2 1268,97.8 1261,97.2 1254.6,103.2 1261.6,109.2 1261,116.5 1261.6,117.1 1266.8,119.5 1272.6,126.7 1278.5,127.3 1284.3,133.3 1285.5,142.3 1282.5,145.4 1284.3,152.6 1288.4,154.4 1297.1,159.2 1302.9,158.6 1314.5,165.2 1323.3,170.6 1329.1,172.4 1338.4,173 1342.5,172.4 1348.3,171.2 1355.3,172.4 1361.1,174.2 1369.8,169.4 1378.6,165.2 1385.5,164.6 1391.9,170.6 1396.6,175.5 1400.1,184.5 1393.7,191.7 1394.8,196.5 1400.7,195.9 1401.8,208.6 1407.7,210.4 1414.6,213.4 1419.9,206.2 1428,204.3 1438.5,200.7 1446.6,203.1 1446.6,208.6 1454.2,211.6M1261.6,117.1 1256.4,118.9 1242.4,121.9 1239.5,133.9 1233.1,141.1 1229,149 1212.1,155 1211.5,161 1198.2,163.4 1189.4,164M1261.6,117.1 1252.3,115.9 1242.4,120.1 1241.8,112.2 1234.2,114.6 1227.3,117.1 1220.3,117.1 1212.7,115.9 1207.5,116.5 1202.8,118.9 1192.3,125.5 1181.9,126.7M1212.7,115.9 1213.3,112.2 1198.2,106.2 1189.4,100.2 1185.9,93.6 1175.5,91.8 1174.9,87 1166.7,83.3 1157.4,92.4 1151.6,92.4 1151.6,70.1 1166.7,66.5 1180.7,74.3 1186.5,79.1 1203.4,77.9 1210.4,82.1 1209.8,88.2 1220.9,93 1222,95.4 1227.3,92.4 1236,87.6 1238.9,86.4 1253.4,82.7 1259.3,80.9 1266.8,82.7 1286.6,83.3 1292.4,87M1151.6,92.4 1140,86.4 1134.2,87.6 1130.7,89.4M1238.9,86.4 1234.2,91.2 1243,91.2 1251.1,95.4 1244.7,99 1236,98.4 1229,103.2 1236,103.2 1254.6,103.2M1220.3,117.1 1221.4,109.2 1224.4,103.2 1229,103.2 1233.1,99 1236,98.4M1333.7,45.4 1337.8,43 1347.7,41.2 1361.1,35.2 1376.2,40 1396,40 1397.8,31 1407.1,28 1420.5,32.2 1421,36.4 1436.7,37.6 1448.4,40.6 1457.1,44.2 1468.7,44.8 1482.1,43 1490.9,38.2 1504.8,41.2M1336.7,44.8 1341.3,50.8 1349.5,52.6 1355.3,64.1 1354.7,68.9 1369.8,70.1 1380.9,74.3 1386.7,83.9 1407.7,84.5 1418.1,85.2 1436.7,90.6 1451.3,85.8 1462.9,85.2 1476.3,77.9 1476.9,70.1 1486.8,71.3 1500.8,65.9 1508.9,60.5 1522.9,59.9 1512.4,52.6 1500.8,52 1497.8,53.8 1511.2,43 1504.8,41.2 1518.2,40.6 1524,24.3 1528.1,20.1 1545,18.9 1556.6,21.9 1564.2,32.2 1567.7,41.2 1582.2,46.6 1588,53.8 1599.7,51.4 1609.6,50.2 1605.5,58.1 1600.3,69.5 1592.7,68.9 1589.8,79.1 1585.7,85.8 1581.6,82.1 1570.6,88.2 1564.2,89.4 1558.9,94.8 1549.6,100.2M1559.5,114 1564.8,110.4 1572.9,108.6M1291.9,159.2 1291.9,167.6 1300,172.4 1308.7,176.1 1320.4,180.3 1332,182.1 1338.4,182.1 1338.4,173M1343.1,177.3 1348.3,180.3 1355.3,179.7 1361.1,179.1 1361.1,174.2M1342.5,172.4 1343.1,177.3 1338.4,182.1M1391.9,170.6 1384.4,176.7 1379.7,180.9 1376.2,189.3 1373.3,197.1 1368.7,196.5 1368.7,207.4 1364.6,211.6 1362.8,215.8M1364.6,211.6 1361.1,198.9 1356.4,198.9 1357.6,195.9 1363.4,190.5 1349.5,189.3 1348.3,184.5 1340.1,181.5 1338.4,185.7 1343.1,189.3 1337.8,192.9 1341.9,196.5 1342.5,204.9 1343.6,209.8M1222.6,198.3 1227.3,194.7 1238.9,194.1 1233.1,181.5 1236,172.4 1249.4,166.4 1255.8,160.4 1259.3,154.4 1259.8,148.4 1263.9,146.6 1256.4,142.3 1255.8,133.3 1265.1,130.3 1273.8,130.3 1278.5,127.3M1414.6,213.4 1408.2,218.2 1401.8,221.8 1394.8,229.6 1394.3,233.8 1398.9,239.9 1399.5,247.7 1397.2,250.7 1403,262.7 1404.7,270 1400.7,279 1399.5,280.8M1408.2,218.2 1410.6,223.6 1415.2,223.6 1413.5,235 1419.9,232 1426.3,230.8 1435,236.3 1435.6,242.3 1440.2,247.1 1439.7,253.7 1437.9,254.9 1425.1,254.9 1422.2,259.1 1422.2,265.8 1424.5,270.6M1437.9,254.9 1442.6,254.3 1451.3,252.5 1451.3,244.7 1446.1,238.7 1436.7,228.4 1430.9,223.6 1435.6,218.8 1425.1,214.6 1419.9,206.2M1451.3,252.5 1451.3,265.8 1442.6,271.8 1442.6,274.8 1436.7,275.4 1433.8,278.4M1408.2,302.5 1413.5,306.1 1419.9,303.7M1463.5,329 1468.7,335.6 1477.5,332.6 1487.4,333.2 1492,332 1494.9,325.9 1498.4,319.9 1500.2,315.1 1510.1,315.7M1646.2,356.7 1646.2,395.8M1547.3,397.6 1552.5,395.2 1553.7,397.6" fill="none" stroke="#aad3eb" stroke-width="1.9" stroke-linejoin="round"/>
</g>
<path d="M728,246L1335,150M992,465L1378,196" stroke="#000" stroke-width="2" stroke-dasharray="25.7,6" fill="none"/>
<path d="M886.8,28.5L886.80,14.80A13.7,13.7 0 1 1 880.20,16.49Z" fill="#1f87bb" stroke="#222" stroke-width="0.6" stroke-linejoin="round"/><path d="M886.8,28.5L880.20,16.49A13.7,13.7 0 0 1 886.80,14.80Z" fill="#2f004d" stroke="#222" stroke-width="0.6" stroke-linejoin="round"/>
<circle cx="910.5" cy="50.7" r="7.7" fill="#1f87bb" stroke="#222" stroke-width="0.6"/><path d="M910.5,50.7v-7.7" stroke="#222" stroke-width="0.6" fill="none"/>
<circle cx="838.8" cy="58.4" r="6.2" fill="#2f004d" stroke="#222" stroke-width="0.6"/><path d="M838.8,58.4v-6.2" stroke="#222" stroke-width="0.6" fill="none"/>
<circle cx="834.6" cy="80.6" r="6.2" fill="#1f87bb" stroke="#222" stroke-width="0.6"/><path d="M834.6,80.6v-6.2" stroke="#222" stroke-width="0.6" fill="none"/>
<circle cx="803.9" cy="93.1" r="4" fill="#1f87bb" stroke="#222" stroke-width="0.6"/><path d="M803.9,93.1v-4" stroke="#222" stroke-width="0.6" fill="none"/>
<circle cx="778.2" cy="99.1" r="6.2" fill="#1f87bb" stroke="#222" stroke-width="0.6"/><path d="M778.2,99.1v-6.2" stroke="#222" stroke-width="0.6" fill="none"/>
<circle cx="898.8" cy="84.6" r="4" fill="#1f87bb" stroke="#222" stroke-width="0.6"/><path d="M898.8,84.6v-4" stroke="#222" stroke-width="0.6" fill="none"/>
<circle cx="974.2" cy="79.4" r="4" fill="#1f87bb" stroke="#222" stroke-width="0.6"/><path d="M974.2,79.4v-4" stroke="#222" stroke-width="0.6" fill="none"/>
<circle cx="784.6" cy="145.3" r="3.8" fill="#1f87bb" stroke="#222" stroke-width="0.6"/><path d="M784.6,145.3v-3.8" stroke="#222" stroke-width="0.6" fill="none"/>
<path d="M1058.8,35.5L1058.80,27.80A7.7,7.7 0 0 1 1065.55,39.21Z" fill="#1f87bb" stroke="#222" stroke-width="0.6" stroke-linejoin="round"/><path d="M1058.8,35.5L1065.55,39.21A7.7,7.7 0 1 1 1058.80,27.80Z" fill="#2f004d" stroke="#222" stroke-width="0.6" stroke-linejoin="round"/>
<circle cx="1078.5" cy="81.9" r="10" fill="#1f87bb" stroke="#222" stroke-width="0.6"/><path d="M1078.5,81.9v-10" stroke="#222" stroke-width="0.6" fill="none"/>
<circle cx="1030.8" cy="101.9" r="7.7" fill="#1f87bb" stroke="#222" stroke-width="0.6"/><path d="M1030.8,101.9v-7.7" stroke="#222" stroke-width="0.6" fill="none"/>
<circle cx="1102.5" cy="94.9" r="4" fill="#1f87bb" stroke="#222" stroke-width="0.6"/><path d="M1102.5,94.9v-4" stroke="#222" stroke-width="0.6" fill="none"/>
<path d="M1030.8,144L1030.80,134.30A9.7,9.7 0 1 1 1021.27,142.18Z" fill="#1f87bb" stroke="#222" stroke-width="0.6" stroke-linejoin="round"/><path d="M1030.8,144L1021.27,142.18A9.7,9.7 0 0 1 1030.80,134.30Z" fill="#2f004d" stroke="#222" stroke-width="0.6" stroke-linejoin="round"/>
<path d="M1004.9,175L1004.90,167.50A7.5,7.5 0 1 1 998.33,178.61Z" fill="#1f87bb" stroke="#222" stroke-width="0.6" stroke-linejoin="round"/><path d="M1004.9,175L998.33,178.61A7.5,7.5 0 0 1 1004.90,167.50Z" fill="#2f004d" stroke="#222" stroke-width="0.6" stroke-linejoin="round"/>
<circle cx="1172.4" cy="101.9" r="4" fill="#1f87bb" stroke="#222" stroke-width="0.6"/><path d="M1172.4,101.9v-4" stroke="#222" stroke-width="0.6" fill="none"/>
<circle cx="1201.9" cy="87.4" r="6.2" fill="#1f87bb" stroke="#222" stroke-width="0.6"/><path d="M1201.9,87.4v-6.2" stroke="#222" stroke-width="0.6" fill="none"/>
<circle cx="1240.6" cy="102.6" r="6.2" fill="#1f87bb" stroke="#222" stroke-width="0.6"/><path d="M1240.6,102.6v-6.2" stroke="#222" stroke-width="0.6" fill="none"/>
<circle cx="1220.1" cy="132.1" r="7.7" fill="#1f87bb" stroke="#222" stroke-width="0.6"/><path d="M1220.1,132.1v-7.7" stroke="#222" stroke-width="0.6" fill="none"/>
<circle cx="1315.5" cy="165.5" r="6.2" fill="#1f87bb" stroke="#222" stroke-width="0.6"/><path d="M1315.5,165.5v-6.2" stroke="#222" stroke-width="0.6" fill="none"/>
<path d="M1285.5,212.7L1285.50,201.70A11,11 0 1 1 1275.86,218.00Z" fill="#1f87bb" stroke="#222" stroke-width="0.6" stroke-linejoin="round"/><path d="M1285.5,212.7L1275.86,218.00A11,11 0 0 1 1285.50,201.70Z" fill="#2f004d" stroke="#222" stroke-width="0.6" stroke-linejoin="round"/>
<circle cx="1335.5" cy="80.4" r="12.2" fill="#e6b022" stroke="#222" stroke-width="0.6"/><path d="M1335.5,80.4v-12.2" stroke="#222" stroke-width="0.6" fill="none"/>
<circle cx="1387.1" cy="121.3" r="10.7" fill="#e6b022" stroke="#222" stroke-width="0.6"/><path d="M1387.1,121.3v-10.7" stroke="#222" stroke-width="0.6" fill="none"/>
<circle cx="1433.3" cy="121.3" r="13.7" fill="#e6b022" stroke="#222" stroke-width="0.6"/><path d="M1433.3,121.3v-13.7" stroke="#222" stroke-width="0.6" fill="none"/>
<path d="M1424.3,154.3L1424.30,138.30A16,16 0 1 1 1409.08,149.36Z" fill="#e6b022" stroke="#222" stroke-width="0.6" stroke-linejoin="round"/><path d="M1424.3,154.3L1409.08,149.36A16,16 0 0 1 1424.30,138.30Z" fill="#ff86f7" stroke="#222" stroke-width="0.6" stroke-linejoin="round"/>
<circle cx="1415.9" cy="189.3" r="13.5" fill="#e6b022" stroke="#222" stroke-width="0.6"/><path d="M1415.9,189.3v-13.5" stroke="#222" stroke-width="0.6" fill="none"/>
<circle cx="1495.8" cy="75.2" r="3.8" fill="#e6b022" stroke="#222" stroke-width="0.6"/><path d="M1495.8,75.2v-3.8" stroke="#222" stroke-width="0.6" fill="none"/>
<path d="M1477.3,111.9L1477.30,102.90A9,9 0 0 1 1477.30,120.90Z" fill="#e6b022" stroke="#222" stroke-width="0.6" stroke-linejoin="round"/><path d="M1477.3,111.9L1477.30,120.90A9,9 0 0 1 1477.30,102.90Z" fill="#ff86f7" stroke="#222" stroke-width="0.6" stroke-linejoin="round"/>
<path d="M1461.3,123.1L1461.30,113.10A10,10 0 1 1 1455.42,131.19Z" fill="#e6b022" stroke="#222" stroke-width="0.6" stroke-linejoin="round"/><path d="M1461.3,123.1L1455.42,131.19A10,10 0 0 1 1461.30,113.10Z" fill="#ff86f7" stroke="#222" stroke-width="0.6" stroke-linejoin="round"/>
<path d="M1503.7,95.9L1503.70,81.40A14.5,14.5 0 0 1 1509.87,82.78Z" fill="#2f004d" stroke="#222" stroke-width="0.6" stroke-linejoin="round"/><path d="M1503.7,95.9L1509.87,82.78A14.5,14.5 0 0 1 1518.17,94.99Z" fill="#e6b022" stroke="#222" stroke-width="0.6" stroke-linejoin="round"/><path d="M1503.7,95.9L1518.17,94.99A14.5,14.5 0 1 1 1503.70,81.40Z" fill="#ff86f7" stroke="#222" stroke-width="0.6" stroke-linejoin="round"/>
<path d="M1512.2,120.3L1512.20,106.60A13.7,13.7 0 0 1 1512.20,134.00Z" fill="#e6b022" stroke="#222" stroke-width="0.6" stroke-linejoin="round"/><path d="M1512.2,120.3L1512.20,134.00A13.7,13.7 0 0 1 1512.20,106.60Z" fill="#ff86f7" stroke="#222" stroke-width="0.6" stroke-linejoin="round"/>
<path d="M1486,130.1L1486.00,115.60A14.5,14.5 0 0 1 1492.17,116.98Z" fill="#2f004d" stroke="#222" stroke-width="0.6" stroke-linejoin="round"/><path d="M1486,130.1L1492.17,116.98A14.5,14.5 0 0 1 1499.12,136.27Z" fill="#e6b022" stroke="#222" stroke-width="0.6" stroke-linejoin="round"/><path d="M1486,130.1L1499.12,136.27A14.5,14.5 0 1 1 1486.00,115.60Z" fill="#ff86f7" stroke="#222" stroke-width="0.6" stroke-linejoin="round"/>
<path d="M1522.7,136.6L1522.70,129.10A7.5,7.5 0 0 1 1529.27,140.21Z" fill="#e6b022" stroke="#222" stroke-width="0.6" stroke-linejoin="round"/><path d="M1522.7,136.6L1529.27,140.21A7.5,7.5 0 1 1 1522.70,129.10Z" fill="#ff86f7" stroke="#222" stroke-width="0.6" stroke-linejoin="round"/>
<circle cx="1479.3" cy="151.6" r="4" fill="#ff86f7" stroke="#222" stroke-width="0.6"/><path d="M1479.3,151.6v-4" stroke="#222" stroke-width="0.6" fill="none"/>
<path d="M1366.4,164.8L1366.40,138.60A26.2,26.2 0 1 1 1345.70,180.86Z" fill="#178a3f" stroke="#222" stroke-width="0.6" stroke-linejoin="round"/><path d="M1366.4,164.8L1345.70,180.86A26.2,26.2 0 0 1 1361.49,139.06Z" fill="#d7151a" stroke="#222" stroke-width="0.6" stroke-linejoin="round"/><path d="M1366.4,164.8L1361.49,139.06A26.2,26.2 0 0 1 1366.40,138.60Z" fill="#ff86f7" stroke="#222" stroke-width="0.6" stroke-linejoin="round"/>
<circle cx="1575.4" cy="52.9" r="4" fill="#e6b022" stroke="#222" stroke-width="0.6"/><path d="M1575.4,52.9v-4" stroke="#222" stroke-width="0.6" fill="none"/>
<circle cx="1630.6" cy="118.6" r="4" fill="#2f004d" stroke="#222" stroke-width="0.6"/><path d="M1630.6,118.6v-4" stroke="#222" stroke-width="0.6" fill="none"/>
<circle cx="268.7" cy="113.3" r="14.7" fill="#2f004d" stroke="#222" stroke-width="0.6"/><path d="M268.7,113.3v-14.7" stroke="#222" stroke-width="0.6" fill="none"/>
<circle cx="228.7" cy="194.3" r="4" fill="#2f004d" stroke="#222" stroke-width="0.6"/><path d="M228.7,194.3v-4" stroke="#222" stroke-width="0.6" fill="none"/>
<circle cx="1061.4" cy="282" r="4" fill="#1f87bb" stroke="#222" stroke-width="0.6"/><path d="M1061.4,282v-4" stroke="#222" stroke-width="0.6" fill="none"/>
<circle cx="1604.6" cy="489.2" r="14.7" fill="#2f004d" stroke="#222" stroke-width="0.6"/><path d="M1604.6,489.2v-14.7" stroke="#222" stroke-width="0.6" fill="none"/>
<path d="M106.5,99.6h6.5" stroke="#000" stroke-width="1.9"/>
<text x="95.5" y="109.7" font-size="31" text-anchor="end" fill="#000" stroke="#000" stroke-width="0.35">40</text>
<path d="M106.5,220h6.5" stroke="#000" stroke-width="1.9"/>
<text x="95.5" y="230.1" font-size="31" text-anchor="end" fill="#000" stroke="#000" stroke-width="0.35">20</text>
<path d="M106.5,340.4h6.5" stroke="#000" stroke-width="1.9"/>
<text x="95.5" y="350.5" font-size="31" text-anchor="end" fill="#000" stroke="#000" stroke-width="0.35">0</text>
<path d="M106.5,460.8h6.5" stroke="#000" stroke-width="1.9"/>
<text x="95.5" y="470.9" font-size="31" text-anchor="end" fill="#000" stroke="#000" stroke-width="0.35">–20</text>
<path d="M1116.4,513v6" stroke="#000" stroke-width="2.6"/>
<text x="1116.7" y="553" font-size="31" text-anchor="middle" fill="#000" stroke="#000" stroke-width="0.35">50</text>
<path d="M1407.4,513v6" stroke="#000" stroke-width="2.6"/>
<text x="1407.7" y="553" font-size="31" text-anchor="middle" fill="#000" stroke="#000" stroke-width="0.35">100</text>
<path d="M1698.3,513v6" stroke="#000" stroke-width="2.6"/>
<text x="1698.6" y="553" font-size="31" text-anchor="middle" fill="#000" stroke="#000" stroke-width="0.35">150</text>
<text transform="translate(23,262) rotate(-90)" font-size="30" text-anchor="middle" stroke="#000" stroke-width="0.35">Latitude</text>
<rect x="221" y="256.5" width="771.5" height="320" fill="#fff"/>
<rect x="269.4" y="280.7" width="710.6" height="283.6" fill="#fff" stroke="#000" stroke-width="1.7"/>
<clipPath id="ci"><rect x="269.4" y="280.7" width="710.6" height="283.6"/></clipPath>
<g clip-path="url(#ci)" fill="none" stroke="#555" stroke-width="1.9" stroke-linejoin="round">
<path d="M269.9,495.9 272.6,491.0 276.2,486.0 280.3,486.8 284.9,487.2 288.9,488.0 291.5,490.9 295.7,491.4 299.9,493.4 304.5,495.9 307.4,498.4 312.1,498.0 316.0,497.0 319.9,497.2 324.3,498.7 328.2,499.3 332.3,499.7 335.8,495.8 338.6,493.4 343.6,494.4 347.4,494.3 352.3,495.9 357.6,494.2 361.9,493.3 366.1,490.9 370.2,489.6 373.4,487.3 377.3,484.7 381.6,487.4 386.0,488.5 388.0,492.1 388.5,497.2 386.2,501.7 386.0,507.1 383.5,512.2 385.6,516.2 387.3,520.9 391.0,524.5 394.8,528.4 398.2,524.8 402.3,520.9 401.8,516.0 401.0,509.7 404.3,506.3 407.5,502.2 409.8,497.2 412.6,493.3 415.4,491.4 417.2,487.2 421.7,484.8 424.7,482.2 429.5,479.8 433.5,478.5 438.6,480.3 442.2,481.0 447.2,483.5 452.8,485.6 456.5,486.5 462.2,487.2 467.0,486.6 471.8,487.7 477.2,487.2 481.6,488.9 484.9,491.4 488.8,494.4 492.1,497.2 496.6,495.6 499.6,492.2 503.4,490.6 507.1,487.2 510.9,489.4 515.6,492.2 519.6,495.9 520.0,500.5 521.7,504.7 521.6,510.6 523.4,514.7 527.7,516.1 533.4,515.7 537.3,516.6 542.1,517.2 542.9,521.4 543.3,525.6 544.5,529.5 544.1,534.0 544.3,537.3 546.2,541.8 545.8,545.9 549.9,544.2 553.6,544.4 556.8,543.6 561.9,541.8 565.8,541.7 569.6,540.9 574.0,541.2 578.2,542.6 581.2,542.0 586.5,544.2 589.9,543.9 594.5,544.6 599.1,543.5 603.0,542.7 607.4,542.5 611.6,541.3 616.9,539.9 620.9,540.4 624.8,538.7 629.5,538.4 630.7,530.9 634.4,526.7 636.3,523.3 640.0,519.7 638.3,522.4 635.6,526.4 634.6,530.0 632.6,533.1 630.0,537.1 630.0,530.9 632.9,528.3 637.1,525.1 639.1,521.7 642.9,518.9 646.6,517.2 648.7,513.4 652.4,510.9 658.0,510.6 662.4,509.7 667.3,507.8 670.5,506.2 676.1,504.6 679.9,503.4 683.6,501.5 687.7,499.8 692.6,497.6 695.0,497.2 699.9,494.7 702.2,491.8 703.1,488.0 704.9,483.5 709.6,481.5 713.3,481.1 717.1,479.0 720.5,477.2 724.8,476.0 728.3,475.7 733.0,476.6 737.4,476.6 741.6,478.3 744.8,478.5 750.6,481.7 754.8,483.5 759.5,486.1 761.9,488.9 766.2,490.6 771.1,493.5 774.8,495.9 778.4,498.8 782.5,499.8 786.0,502.2 790.1,500.8 795.1,498.5 799.8,495.9 798.2,490.4 797.3,486.0 799.8,482.2 802.2,477.2 807.2,473.5 805.2,469.7M814.7,464.7 817.9,469.0 823.0,472.8 826.0,476.0 830.3,477.6 833.7,481.6 837.2,483.5 837.2,487.2 838.5,491.8 839.7,495.9 844.7,502.2 845.8,507.8 847.2,513.4 852.7,509.4 857.2,507.2 860.1,509.0 864.7,512.2 864.4,515.6 866.4,521.1 865.9,524.7 865.7,528.7 866.6,532.3 867.1,536.9 868.1,540.4 868.4,544.6 867.6,548.3 867.2,552.7 868.1,556.4 866.7,560.0 867.2,564.6M837.2,483.5 838.8,478.0 840.9,472.2 847.2,473.5 849.4,477.0 851.1,481.2 852.2,484.7 855.4,482.0 858.8,480.1 862.2,477.2 864.5,473.8 867.2,469.7 865.4,465.1 863.9,461.8 862.2,457.2 862.2,452.5 863.7,448.8 864.7,443.5 870.4,446.4 874.7,449.8 876.2,445.3 875.9,439.7 877.2,434.8 880.8,434.1 885.9,432.3M840.9,285.0 844.2,289.0 847.3,291.9 849.7,294.9 851.4,300.1 852.2,304.9 854.8,309.3 858.0,312.6 862.2,317.4 866.4,319.1 868.9,321.7 873.4,324.9 870.9,331.1 866.6,329.9 860.9,329.9 860.9,336.1 863.8,339.9 868.4,342.4 870.9,349.9 873.4,354.2 877.2,357.4 876.8,363.0 875.9,367.4 878.0,371.7 878.9,374.8 879.7,379.8 880.8,384.2 881.3,387.9 882.0,393.7 882.1,397.3 880.5,401.2 880.6,406.2 879.7,409.8 880.0,413.4 880.9,418.3 882.1,422.3 883.9,427.1 884.6,432.3 884.8,437.1 885.2,442.1 885.9,447.3 885.6,451.4 887.6,455.4 887.1,459.7 889.3,463.3 890.8,468.5 892.1,472.2 895.6,477.2 898.4,482.2 899.0,477.5 899.6,472.2 898.4,464.7 903.5,460.4 907.1,457.2 909.5,453.9 913.4,449.8 916.6,453.5 918.4,457.2 921.2,461.0 923.6,463.5 927.1,467.2 929.9,470.7 933.4,473.4 937.1,477.2 933.7,481.8 929.6,484.7 931.7,488.8 934.6,492.2 937.3,496.6 940.6,499.3 943.3,503.4 945.9,499.5 949.6,497.2 954.5,495.7 959.6,494.7 960.8,498.2 963.0,502.7 964.5,506.8 967.0,509.7 969.5,513.2 972.0,516.9 974.5,519.7 977.6,524.8 979.5,529.7M687.4,285.0 691.9,286.2 697.2,286.4 701.1,287.5 704.0,292.0 706.1,294.9 703.6,299.9 706.7,303.8 709.9,308.7 714.4,309.9 720.2,311.2 724.8,311.2 730.1,310.3 733.4,309.9 738.6,309.9 740.5,314.7 743.6,318.7 746.1,314.9 745.0,311.9 742.3,308.1 741.1,303.7 745.1,301.7 749.8,299.9 753.6,302.1 755.7,306.4 759.8,308.7 763.6,309.7 768.3,311.5 772.3,312.4 771.4,307.8 772.3,303.7 769.8,297.4 774.7,296.6 779.3,295.9 784.8,294.9 789.8,293.9 793.2,292.6 797.3,292.4 797.3,285.0"/>
</g>
<circle cx="387" cy="431" r="7.7" fill="#d7151a"/>
<circle cx="389.5" cy="435.3" r="5" fill="#ff3fe0"/>
<circle cx="424.2" cy="446.8" r="7.7" fill="#d7151a"/>
<circle cx="483.4" cy="470.5" r="6.2" fill="#d7151a"/>
<circle cx="478.9" cy="425.3" r="8.5" fill="#d7151a"/>
<circle cx="490.9" cy="428.5" r="7.7" fill="#d7151a"/>
<circle cx="492.1" cy="410.5" r="8.7" fill="#d7151a"/>
<circle cx="500.1" cy="411" r="6.2" fill="#d7151a"/>
<circle cx="504.6" cy="399.3" r="6.2" fill="#d7151a"/>
<circle cx="527.1" cy="401.8" r="9.5" fill="#d7151a"/>
<circle cx="528.4" cy="431" r="8.7" fill="#d7151a"/>
<circle cx="524.6" cy="441.5" r="6.2" fill="#d7151a"/>
<circle cx="540.8" cy="429.8" r="10.2" fill="#178a3f"/>
<circle cx="568.8" cy="435.3" r="11" fill="#178a3f"/>
<circle cx="591.3" cy="441.8" r="12.5" fill="#178a3f"/>
<circle cx="599.5" cy="441.8" r="8.7" fill="#178a3f"/>
<circle cx="582.8" cy="465.2" r="10.2" fill="#178a3f"/>
<circle cx="576.5" cy="476.7" r="12.5" fill="#178a3f"/>
<circle cx="600.8" cy="399.6" r="8.7" fill="#d7151a"/>
<circle cx="643.4" cy="433.5" r="6.5" fill="#d7151a"/>
<circle cx="698.1" cy="431.5" r="6.5" fill="#d7151a"/>
<circle cx="799.3" cy="358.6" r="11" fill="#178a3f"/>
<circle cx="787.3" cy="397.1" r="10.5" fill="#178a3f"/>
<circle cx="823.2" cy="409.8" r="8" fill="#178a3f"/>
<circle cx="805.2" cy="458.7" r="11.7" fill="#178a3f"/>
<path d="M805.2,458.7L796.9,450.4A11.7,11.7 0 0 1 805.2,447Z" fill="#d7151a"/>
<path d="M262,297h7" stroke="#000" stroke-width="2.1"/>
<text x="254.2" y="305.5" font-size="25.7" text-anchor="end" fill="#000" stroke="#000" stroke-width="0.35">32</text>
<path d="M262,394h7" stroke="#000" stroke-width="2.1"/>
<text x="254.2" y="402.5" font-size="25.7" text-anchor="end" fill="#000" stroke="#000" stroke-width="0.35">30</text>
<path d="M262,491h7" stroke="#000" stroke-width="2.1"/>
<text x="254.2" y="499.5" font-size="25.7" text-anchor="end" fill="#000" stroke="#000" stroke-width="0.35">28</text>
<path d="M443.5,565v7" stroke="#000" stroke-width="2.1"/>
<text x="443.5" y="606.5" font-size="25.7" text-anchor="middle" fill="#000" stroke="#000" stroke-width="0.35">90</text>
<path d="M685.5,565v7" stroke="#000" stroke-width="2.1"/>
<text x="685.5" y="606.5" font-size="25.7" text-anchor="middle" fill="#000" stroke="#000" stroke-width="0.35">95</text>
<text x="292.5" y="326" font-size="34.2" text-anchor="start" fill="#000" stroke="#000" stroke-width="0.35" letter-spacing="0.35">Tibetan Plateau</text>
<text x="222" y="537" font-size="17.5" text-anchor="start" fill="#000" stroke="#000" stroke-width="0.35">–100</text>
<text x="518" y="537" font-size="17.5" text-anchor="start" fill="#000" stroke="#000" stroke-width="0.35">–50</text>
<text x="819.5" y="537" font-size="17.5" text-anchor="start" fill="#000" stroke="#000" stroke-width="0.35">0</text>
<text x="861.5" y="611" font-size="34.5" text-anchor="start" fill="#000" stroke="#000" stroke-width="0.35">Longitude</text>
<rect x="1387" y="579" width="19.2" height="19.2" fill="#178a3f"/>
<text x="1420.5" y="598" font-size="30" text-anchor="start" fill="#000" stroke="#000" stroke-width="0.35">TS</text>
<rect x="1387" y="618" width="19.2" height="19.2" fill="#d7151a"/>
<text x="1420.5" y="637" font-size="30" text-anchor="start" fill="#000" stroke="#000" stroke-width="0.35">TL</text>
<rect x="1491.5" y="579" width="19.2" height="19.2" fill="#e6b022"/>
<text x="1523.5" y="598" font-size="30" text-anchor="start" fill="#000" stroke="#000" stroke-width="0.35">CL</text>
<rect x="1491.5" y="618" width="19.2" height="19.2" fill="#ff86f7"/>
<text x="1523.5" y="637" font-size="30" text-anchor="start" fill="#000" stroke="#000" stroke-width="0.35">CC</text>
<rect x="1602" y="579" width="19.2" height="19.2" fill="#1f87bb"/>
<text x="1633" y="598" font-size="30" text-anchor="start" fill="#000" stroke="#000" stroke-width="0.35">NCL</text>
<rect x="1602" y="618" width="19.2" height="19.2" fill="#2f004d"/>
<text x="1633" y="637" font-size="30" text-anchor="start" fill="#000" stroke="#000" stroke-width="0.35">NCC</text>
<text x="-1" y="23.5" font-size="44" text-anchor="start" fill="#000" stroke="#000" stroke-width="0" font-weight="bold">a</text>
<path d="M130.9,844.5V893M132.2,838.4V893M133.5,835.5V893M134.8,830V893M136.1,833.2V893M137.4,841.4V893M138.7,885.6V893M140,838.2V893M141.3,834.7V893M142.6,838.6V893M143.9,885.6V893M145.2,888.8V893M146.5,875.6V893M147.8,879.4V893M149.1,882.3V893M150.4,890.2V893M151.7,890.2V893M153,890.6V893M154.3,890.8V893M155.6,890.8V893M156.9,881V893M158.2,873V893M159.5,868.6V893M160.8,862.8V893M162.1,870.8V893M163.4,891.3V893M164.7,892.5V893M166,892.9V893M167.3,893V893M168.6,890V893M169.9,889.7V893M171.2,889.7V893M172.5,889.5V893M173.8,889.7V893M175.1,889.6V893M176.4,889.7V893M177.7,889.6V893M179,889.8V893M180.3,890V893M181.6,890.3V893M182.9,890.3V893M184.2,890.2V893M185.5,890.1V893M186.8,890.5V893M188.1,890V893M189.4,888.9V893M190.7,888.3V893M192,887.2V893M193.3,886.4V893M194.6,883.9V893M195.9,882.2V893M197.2,885V893M198.5,892.3V893M199.8,892.2V893M201.1,891.9V893M202.4,891.6V893M203.7,888.5V893M205,888.1V893M206.3,887.3V893M207.6,886.8V893M208.9,893V893M210.2,892.4V893M211.5,873.2V893M212.8,869.8V893M214.1,891.8V893M215.4,884.9V893M216.7,884.3V893M218,888.3V893M219.3,888.2V893M220.6,888V893M221.9,887.9V893M223.2,884.3V893M224.5,867.1V893M225.8,870.9V893M227.1,881.8V893M228.4,881.2V893M229.7,879.5V893M231,891.4V893M232.3,890.8V893M233.6,890V893M234.9,889.4V893M236.2,887V893M237.5,847.6V893M238.8,845.8V893M240.1,838.2V893M241.4,837.4V893M242.7,841.3V893M244,842.9V893M245.3,849.6V893M246.6,860.8V893M247.9,869.7V893M249.2,876.1V893M250.5,877.4V893M251.8,874.2V893M253.1,871.8V893M254.4,864V893M255.7,852.2V893M257,855.8V893M258.3,883.9V893M259.6,886.4V893M260.9,888.9V893M262.2,891.1V893M263.5,883.5V893M264.8,881.4V893M266.1,885.7V893M267.4,884.7V893M268.7,880.6V893M270,877.6V893M271.3,876.2V893M272.6,866.5V893M273.9,865.7V893M275.2,858.2V893M276.5,846.6V893M277.8,871.6V893M279.1,832.3V893M280.4,832.4V893M281.7,872.8V893M283,851.8V893M284.3,860.6V893M285.6,865.8V893M286.9,867.7V893M288.2,870.3V893M289.5,884.5V893M290.8,862.4V893M292.1,864.8V893M293.4,886V893M294.7,876.1V893M296,875.5V893M297.3,875.2V893M298.6,874.4V893M299.9,878.9V893M301.2,876.2V893M302.5,874.9V893M303.8,873.9V893M305.1,864.9V893M306.4,857.4V893M307.7,857.4V893M309,868.7V893M310.3,870.2V893M311.6,869.7V893M312.9,870.7V893M314.2,862.6V893M315.5,860.7V893M316.8,857.4V893M571.6,871.6V893M572.9,866.9V893M574.2,878.8V893M575.5,876.3V893M576.8,873.6V893M578.1,872.4V893M579.4,871.1V893M580.7,869.7V893M582,847.2V893M583.3,848.8V893M584.6,846.4V893M585.9,858.3V893M587.2,864.8V893M588.5,867.2V893M589.8,869.1V893M591.1,863.8V893M592.4,864.1V893M593.7,860.1V893M595,860.9V893M596.3,882.1V893M597.6,890.7V893M598.9,891.5V893M600.2,891.6V893M601.5,883.8V893M602.8,885.8V893M604.1,883.8V893M605.4,881.6V893M606.7,880.8V893M608,879.1V893M609.3,864.8V893M610.6,863.4V893M611.9,860.5V893M613.2,856.5V893M614.5,858.3V893M615.8,879.9V893M617.1,882V893M618.4,882V893M619.7,864.6V893M621,865V893M622.3,871.2V893M623.6,878.9V893M624.9,878.6V893M626.2,878.5V893M627.5,878.6V893M628.8,878.8V893M630.1,877.8V893M631.4,867.8V893M632.7,866.4V893M634,878.7V893M635.3,878.9V893M636.6,864.6V893M637.9,864.4V893M639.2,878.1V893M640.5,877.8V893M641.8,878.7V893M643.1,866.2V893M644.4,866.6V893M645.7,873.6V893M647,872.8V893M648.3,872.8V893M649.6,873V893M650.9,872.5V893M652.2,870V893M653.5,870V893M654.8,875.4V893M656.1,875.7V893M657.4,875.5V893M658.7,875.4V893M660,875.5V893M661.3,863.5V893M662.6,862.2V893M663.9,873.6V893M665.2,872.9V893M666.5,873.6V893M667.8,872.7V893M669.1,873.7V893M670.4,864.7V893M671.7,866.1V893M673,863.2V893M674.3,862.1V893M675.6,862V893M676.9,879.4V893M678.2,878.9V893M679.5,879.6V893M680.8,879.3V893M682.1,860.8V893M683.4,858.7V893M684.7,858.2V893M686,858.8V893M687.3,864.7V893M688.6,864.3V893M689.9,864.9V893M691.2,873.6V893M692.5,874.9V893M693.8,862.7V893M695.1,863.2V893M696.4,863.2V893M697.7,863.2V893M699,863.2V893M700.3,863.2V893M701.6,863.2V893M702.9,863.2V893M704.2,863.2V893M705.5,863.2V893M706.8,863.2V893M708.1,863.8V893M709.4,868.4V893M710.7,882V893M712,882.4V893M713.3,882.2V893M714.6,882.3V893M715.9,882.7V893M717.2,883.1V893M718.5,883.1V893M719.8,871.7V893M721.1,871.4V893M722.4,869V893M723.7,868.8V893M725,881.7V893M726.3,880V893M727.6,857.5V893M728.9,855.3V893M730.2,877.3V893M731.5,860.7V893M732.8,865.9V893M734.1,865.7V893M735.4,863.9V893M736.7,872.4V893M738,871.6V893M739.3,871V893M740.6,869.9V893M741.9,867.4V893M743.2,860.4V893M744.5,881.2V893M745.8,880.4V893M747.1,845.2V893M748.4,837.4V893M749.7,845.5V893M751,857.8V893M752.3,854.7V893M753.6,852.7V893M754.9,852.7V893M756.2,876.7V893M757.5,879V893M758.8,881.7V893M760.1,882.5V893M761.4,873.1V893M762.7,874.1V893M764,875.3V893M765.3,886V893M766.6,885.6V893M767.9,885.2V893M769.2,884.1V893M770.5,872.5V893M771.8,871.5V893M773.1,871.3V893M774.4,869.2V893M775.7,867.8V893M777,870.4V893M778.3,868.3V893M779.6,868.4V893M780.9,867.5V893M782.2,867V893M783.5,864.7V893M784.8,854.2V893M786.1,852.1V893M787.4,859.7V893M788.7,886.7V893M790,887V893M791.3,887.6V893M792.6,887.9V893M793.9,888.3V893M795.2,868.1V893M796.5,868.6V893M797.8,869.4V893M799.1,860V893M800.4,859.5V893M801.7,866.2V893M803,866.8V893M804.3,864.6V893M805.6,865.1V893M806.9,859.5V893M808.2,859.5V893M809.5,859.5V893M810.8,859.5V893M1053.2,855.1V893M1054.5,857.5V893M1055.8,864V893M1057.1,863.3V893M1058.4,862.4V893M1059.7,861.2V893M1061,873.2V893M1062.3,850.3V893M1063.6,848.4V893M1064.9,852.3V893M1066.2,876.3V893M1067.5,862.7V893M1068.8,863.9V893M1070.1,879.7V893M1071.4,881.5V893M1072.7,885.7V893M1074,890V893M1075.3,892.2V893M1076.6,893V893M1077.9,892.4V893M1079.2,892.6V893M1080.5,892.9V893M1081.8,893V893M1083.1,891.5V893M1084.4,888.4V893M1085.7,885.7V893M1087,883.6V893M1088.3,881.7V893M1089.6,879.7V893M1090.9,879.4V893M1092.2,878.9V893M1093.5,876.3V893M1094.8,875.7V893M1096.1,875.7V893M1097.4,877.1V893M1098.7,877V893M1100,877.6V893M1101.3,877.3V893M1102.6,877.3V893M1103.9,876.8V893M1105.2,880.2V893M1106.5,878.5V893M1107.8,877.7V893M1109.1,876.5V893M1110.4,876V893M1111.7,876.2V893M1113,875.2V893M1114.3,875.4V893M1115.6,874.6V893M1116.9,873.2V893M1118.2,873.7V893M1119.5,885.3V893M1120.8,885.5V893M1122.1,886.1V893M1123.4,886.1V893M1124.7,886.4V893M1126,879.3V893M1127.3,878.5V893M1128.6,875.9V893M1129.9,875.4V893M1131.2,875.6V893M1132.5,873.6V893M1133.8,873.3V893M1135.1,875V893M1136.4,876.5V893M1137.7,876.2V893M1139,876.5V893M1140.3,879.1V893M1141.6,879.1V893M1142.9,879.8V893M1144.2,880.2V893M1145.5,880V893M1146.8,879.7V893M1148.1,879.6V893M1149.4,879.9V893M1150.7,879V893M1152,878.6V893M1153.3,878.3V893M1154.6,878V893M1155.9,886.4V893M1157.2,886.3V893M1158.5,886.6V893M1159.8,886V893M1161.1,886V893M1162.4,886.3V893M1163.7,886.1V893M1165,879.5V893M1166.3,879.1V893M1167.6,875.3V893M1168.9,873.4V893M1170.2,873.3V893M1171.5,875V893M1172.8,874V893M1174.1,874.7V893M1175.4,874.8V893M1176.7,875.4V893M1178,874.8V893M1179.3,874.6V893M1180.6,877V893M1181.9,875.9V893M1183.2,875.4V893M1184.5,874.2V893M1185.8,868.3V893M1187.1,867V893M1188.4,870.3V893M1189.7,881.8V893M1191,883.3V893M1192.3,872.1V893M1193.6,866.9V893M1194.9,877.9V893M1196.2,875.4V893M1197.5,874V893M1198.8,873.5V893M1200.1,872.7V893M1201.4,854.6V893M1202.7,858.4V893M1204,854.2V893M1205.3,839.9V893M1206.6,842.4V893M1207.9,869.8V893M1209.2,873.2V893M1210.5,872.5V893M1211.8,868.4V893M1213.1,843.1V893M1214.4,849.3V893M1215.7,861.1V893M1217,867.7V893M1218.3,871.6V893M1219.6,876V893M1220.9,887.5V893M1222.2,885.8V893M1223.5,878.9V893M1224.8,874.7V893M1226.1,804.5V893M1227.4,804.2V893M1228.7,821.1V893M1230,869.2V893M1231.3,874.6V893M1232.6,876.2V893M1233.9,833.3V893M1235.2,846.9V893M1236.5,883V893M1237.8,884.9V893M1239.1,873.5V893M1240.4,877.2V893M1241.7,880.1V893M1243,883.2V893M1244.3,877.3V893M1245.6,869.3V893M1246.9,888V893M1248.2,888V893M1249.5,888V893M1250.8,887V893M1252.1,856.9V893M1253.4,854.8V893M1254.7,866.2V893M1256,866.2V893M1257.3,868.1V893M1258.6,866.8V893M1259.9,878.2V893M1261.2,878.2V893M1262.5,877.5V893M1263.8,876.1V893M1265.1,875.9V893M1266.4,874.5V893M1267.7,858.3V893M1269,862.7V893M1270.3,860.3V893M1271.6,872.6V893M1272.9,838.5V893M1274.2,840.7V893M1275.5,874.9V893M1276.8,877.1V893M1278.1,869.3V893M1279.4,884.8V893M1480.2,857.3V893M1481.5,855.6V893M1482.8,845.8V893M1484.1,871.1V893M1485.4,841.2V893M1486.7,840.8V893M1488,846.8V893M1489.3,875.3V893M1490.6,862V893M1491.9,862.8V893M1493.2,866.8V893M1494.5,867.6V893M1495.8,858.6V893M1497.1,854.4V893M1498.4,865.7V893M1499.7,869.3V893M1501,868V893M1502.3,868V893M1503.6,866.1V893M1504.9,861.5V893M1506.2,850V893M1507.5,843.8V893M1508.8,884.6V893M1510.1,887.3V893M1511.4,888.3V893M1512.7,889.3V893M1514,875.3V893M1515.3,877.2V893M1516.6,876V893M1517.9,875.1V893M1519.2,871.4V893M1520.5,869.4V893M1521.8,872.5V893M1523.1,888.7V893M1524.4,879.7V893M1525.7,889.8V893M1527,889.8V893M1528.3,889.9V893M1529.6,890.1V893M1530.9,890.7V893M1532.2,890.8V893M1533.5,883.4V893M1534.8,884.1V893M1536.1,885.2V893M1537.4,886.2V893M1538.7,888.4V893M1540,889.1V893M1541.3,889.7V893M1542.6,889.2V893M1543.9,888.6V893M1545.2,887.9V893M1546.5,887.1V893M1547.8,886.4V893M1549.1,885.9V893M1550.4,883.5V893M1551.7,883.2V893M1553,884.1V893M1554.3,886.5V893M1555.6,887.2V893M1556.9,888.1V893M1558.2,887.5V893M1559.5,886.4V893M1560.8,885.7V893M1562.1,891.2V893M1563.4,890.3V893M1564.7,889.4V893M1566,888.2V893M1567.3,886.5V893M1568.6,870.1V893M1569.9,870.8V893M1571.2,868.4V893M1572.5,871V893M1573.8,889.6V893M1575.1,891.1V893M1576.4,893V893M1577.7,888.5V893M1579,886.7V893M1580.3,884.6V893M1581.6,885.2V893M1582.9,892V893M1584.2,892.3V893M1585.5,888.3V893M1586.8,888.7V893M1588.1,891V893M1589.4,891.2V893M1590.7,891.6V893M1592,891.8V893M1593.3,891.2V893M1594.6,890.4V893M1595.9,889.7V893M1597.2,886.2V893M1598.5,886.5V893M1599.8,889.1V893M1601.1,890.2V893M1602.4,891.1V893M1603.7,891.1V893M1605,891.3V893M1606.3,891.3V893M1607.6,891.4V893M1608.9,891.4V893M1610.2,891.5V893M1611.5,891.5V893M1612.8,891.5V893M1614.1,891.5V893M1615.4,891.5V893M1616.7,891.4V893M1618,891.4V893M1619.3,890.7V893M1620.6,889.5V893M1621.9,888.5V893M1623.2,885.2V893M1624.5,878.3V893M1625.8,878.1V893M1627.1,887.1V893M1628.4,889.6V893M1629.7,889.4V893M1631,890.3V893M1632.3,890.2V893M1633.6,890.2V893M1634.9,885.6V893M1636.2,876.5V893M1637.5,876.8V893M1638.8,887.4V893M1640.1,869.6V893M1641.4,871.5V893M1642.7,888.8V893M1644,888V893M1645.3,868.7V893M1646.6,865.7V893M1647.9,869.6V893M1649.2,877.2V893M1650.5,879.9V893M1651.8,885V893M1653.1,885.6V893M1654.4,885V893M1655.7,884.6V893M1657,884V893M1658.3,879.5V893M1659.6,877.9V893M1660.9,876.6V893M1662.2,873.1V893M1663.5,871V893M1664.8,863V893M1666.1,863.5V893M1667.4,879V893M1668.7,880.4V893M1670,879.7V893M1671.3,871.2V893M1672.6,867.1V893M1673.9,870.2V893M1675.2,891.8V893M1676.5,892.5V893M1677.8,892.5V893M1679.1,892.5V893M1680.4,882.7V893M1681.7,883.2V893M1683,882.4V893M1684.3,881.9V893M1685.6,892.4V893M1686.9,892.1V893M1688.2,891.5V893M1689.5,891.2V893M1690.8,868.9V893M1692.1,868.8V893M1693.4,873.1V893M1694.7,871.8V893M1696,871.1V893M1697.3,868.5V893M1698.6,877.8V893M1699.9,875.8V893M1701.2,872.5V893M1702.5,870.6V893M1703.8,869.8V893M1705.1,869V893M1706.4,867.6V893M1707.7,842.6V893M1709,844.8V893M1710.3,853.2V893M1711.6,862.5V893M1712.9,862.2V893M1714.2,880.9V893M1715.5,881.2V893M1716.8,881V893M1718.1,881.9V893M292.3,823.6h0M292.3,828.6h0M292.8,847.4h0M269.8,862.8h0M211.9,866.1h0M211.9,874.8h0M584.9,819.4h0M591.1,826.1h0M591.1,832.4h0M708.5,859.9h0M792.1,841.1h0M792.6,846.6h0M805.1,841.1h0M809.6,846.9h0M809.6,853.6h0M1134.7,844.1h0M1224.6,833.6h0M1253.3,847.4h0M1253.3,853.6h0M1487.3,811.2h0M1487.3,817.4h0M1487.3,832.4h0M1487.3,839.9h0M1496.7,851.1h0M1497.2,859.9h0M1701.5,844.4h0M1691.5,865.3h0M1580.4,883.1h0" fill="none" stroke="#ed1c24" stroke-width="4.2" stroke-linecap="round"/>
<path d="M319.4,872.3V893M320.7,869.6V893M322,888.5V893M323.3,888.4V893M324.6,887.9V893M325.9,886.2V893M327.2,850.5V893M328.5,874V893M329.8,875.1V893M331.1,841.1V893M332.4,841.1V893M333.7,845.1V893M335,847.6V893M336.3,852.9V893M337.6,862.3V893M338.9,866.7V893M340.2,868.6V893M341.5,866.5V893M342.8,858.3V893M344.1,846V893M345.4,829.7V893M346.7,814.1V893M348,814.1V893M349.3,821.9V893M350.6,826.5V893M351.9,835.7V893M353.2,884.7V893M354.5,888.8V893M355.8,890.9V893M357.1,892.4V893M358.4,892.7V893M359.7,884.1V893M361,888.8V893M362.3,888.8V893M363.6,886.1V893M364.9,883.7V893M366.2,881.2V893M367.5,868.1V893M368.8,865.3V893M370.1,865.7V893M371.4,891.3V893M372.7,891.8V893M374,892.7V893M375.3,892.9V893M376.6,880.3V893M377.9,885.9V893M379.2,885.3V893M380.5,884.6V893M381.8,883.8V893M383.1,883.4V893M384.4,874V893M385.7,872.1V893M387,876.3V893M388.3,891.1V893M389.6,891.6V893M390.9,892V893M392.2,892.1V893M393.5,886.8V893M394.8,888.1V893M396.1,888.1V893M397.4,887.7V893M398.7,888.1V893M400,888V893M401.3,888.3V893M402.6,888.8V893M403.9,889.1V893M405.2,888.5V893M406.5,888.7V893M407.8,888.7V893M409.1,888.7V893M410.4,888.7V893M411.7,888.9V893M413,888.9V893M414.3,889V893M415.6,889.8V893M416.9,890V893M418.2,890V893M419.5,890V893M420.8,890V893M422.1,890.3V893M423.4,890.2V893M424.7,890.1V893M426,889.2V893M427.3,889.8V893M428.6,885.4V893M429.9,884.6V893M431.2,889.3V893M432.5,887.5V893M433.8,888.6V893M435.1,889.2V893M436.4,888.9V893M437.7,889.2V893M439,889.3V893M440.3,890.9V893M441.6,891.2V893M442.9,891.1V893M444.2,891.4V893M445.5,891.6V893M446.8,891.7V893M448.1,891.9V893M449.4,890.8V893M450.7,891.4V893M452,892V893M453.3,892.5V893M454.6,892.4V893M455.9,877V893M457.2,877.5V893M458.5,880.1V893M459.8,879.8V893M461.1,880.4V893M462.4,880.9V893M463.7,881.5V893M465,881.6V893M466.3,882.2V893M467.6,883.1V893M468.9,883V893M470.2,882.7V893M471.5,882.8V893M472.8,882V893M474.1,877.2V893M475.4,877.4V893M476.7,880.5V893M478,880.8V893M479.3,881.7V893M480.6,879.3V893M481.9,872.2V893M483.2,867.8V893M484.5,862.9V893M485.8,864.8V893M487.1,860.2V893M488.4,859.8V893M489.7,877.8V893M491,880.5V893M492.3,880.9V893M493.6,875V893M494.9,849V893M496.2,845.1V893M497.5,860.5V893M498.8,866.5V893M500.1,871.6V893M501.4,869.9V893M502.7,869.5V893M504,867.9V893M505.3,863.6V893M506.6,854.7V893M507.9,844.4V893M509.2,844.5V893M510.5,888.2V893M511.8,888.7V893M513.1,841.6V893M514.4,818.5V893M515.7,817V893M517,817V893M518.3,847.2V893M519.6,883.5V893M520.9,884.6V893M522.2,885.6V893M523.5,870.1V893M524.8,869.7V893M526.1,870.4V893M527.4,866.4V893M528.7,871.7V893M500.9,868.9V893M502.2,868.7V893M503.5,870.1V893M504.8,867.6V893M506.1,863.1V893M507.4,849.1V893M508.7,842.2V893M510,847.9V893M511.3,882.1V893M512.6,883.2V893M513.9,835.4V893M515.2,817V893M516.5,817V893M517.8,828.6V893M519.1,886.7V893M520.4,888.1V893M521.7,890V893M523,890.8V893M524.3,882.5V893M525.6,888.8V893M526.9,888.9V893M528.2,888.3V893M529.5,887.6V893M530.8,886.5V893M532.1,877.6V893M533.4,875.5V893M534.7,875V893M536,867.3V893M537.3,867.7V893M538.6,882.6V893M539.9,882.6V893M541.2,879.4V893M542.5,876.2V893M543.8,872.4V893M545.1,844.2V893M546.4,842.6V893M547.7,851.7V893M549,856.1V893M550.3,876.6V893M551.6,876V893M552.9,877.3V893M554.2,879.1V893M555.5,866.8V893M556.8,865.5V893M558.1,848.7V893M559.4,839.7V893M560.7,849V893M562,881V893M563.3,881V893M564.6,879.8V893M565.9,856.4V893M567.2,854.5V893M568.5,851.7V893M569.8,847.9V893M813,869.4V893M814.3,863.9V893M815.6,887.9V893M816.9,886.6V893M818.2,886.3V893M819.5,885.9V893M820.8,885.9V893M822.1,840.6V893M823.4,839.7V893M824.7,834.1V893M826,834V893M827.3,841.7V893M828.6,846.6V893M829.9,850.2V893M831.2,872.5V893M832.5,873.4V893M833.8,873.2V893M835.1,873.3V893M836.4,872.2V893M837.7,872.4V893M839,856.3V893M840.3,854.3V893M841.6,852.4V893M842.9,851.7V893M844.2,843.7V893M845.5,844.6V893M846.8,887.4V893M848.1,872.3V893M849.4,889.4V893M850.7,889.4V893M852,889.4V893M853.3,889.4V893M854.6,889.4V893M855.9,889.4V893M857.2,889.4V893M859.7,876.5V885.8M861,860.8V881.8M862.3,862.9V878.4M863.6,862.9V877.8M864.9,864.6V877.1M866.2,865V876.5M867.5,865V875.8M868.8,865.3V875.2M870.1,865.6V874.8M871.4,866.5V874.7M872.7,866.6V874.6M874,866.4V874.5M875.3,866.9V874.4M876.6,866.6V874.3M877.9,866.9V874.2M879.2,867V874.1M880.5,866.8V874M881.8,866.5V873.9M883.1,866.9V873.9M884.4,865.9V873.8M885.7,866.1V873.7M887,865.9V873.6M888.3,865.6V874.1M889.6,865.1V874.7M890.9,864.8V875.3M892.2,863.9V875.9M893.5,863.8V876.5M894.8,862.8V877M896.1,861.8V877.6M897.4,861.7V878.2M898.7,859.9V881.3M900,859.8V883.1M901.3,863.1V878.4M902.6,862.8V878.2M903.9,863.4V877.9M905.2,863.7V877.6M906.5,865.3V877.3M907.8,866V877M909.1,866.7V876.7M910.4,866.4V876.4M911.7,866.5V876.1M913,866.9V876.1M914.3,866.4V876.1M915.6,866.3V876.1M916.9,866.6V876.1M918.2,866.7V876.1M919.5,866.7V876.1M920.8,865.9V876.1M922.1,866.6V876.1M923.4,864.5V876.1M924.7,864.4V876.1M926,864.4V876.1M927.3,864.4V876.1M928.6,864.4V876.1M900.9,867V876.2M902.2,866.7V876.3M903.5,866.4V876.4M904.8,866.1V876.5M906.1,865.1V876.7M907.4,865.7V876.8M908.7,865.3V876.9M910,865.1V877.1M911.3,863.9V877.2M912.6,863.3V877.3M913.9,862.2V877.2M915.2,862.1V877M916.5,864.2V876.9M917.8,865.4V876.8M919.1,866.5V876.7M920.4,866.7V876.5M921.7,866.2V876.4M923,865.2V876.3M924.3,863.6V876.1M925.6,863V875.9M926.9,862.4V875.7M928.2,861.5V875.4M929.5,861.2V875.2M930.8,860.1V874.9M932.1,859.9V874.6M933.4,858.4V874.4M934.7,860.2V874.1M936,864V873.9M937.3,866.4V873.6M938.6,867.1V873.3M939.9,867V873.1M941.2,866.5V872.8M942.5,867.1V872.6M943.8,866.8V872.3M945.1,866.9V872M946.4,867.2V871.8M947.7,867.2V871.5M949,866.9V871.3M950.3,866.9V871.2M951.6,866.9V871.8M952.9,866.9V872.3M954.2,866.9V872.9M955.5,866.9V873.5M956.8,866.9V874M958.1,866.9V874.6M959.4,871.3V882.8M960.8,876.5V893M962.1,875.7V893M963.4,879.1V893M964.7,881.1V893M966,881.4V893M967.3,880.8V893M968.6,880.4V893M969.9,878.9V893M971.2,885V893M972.5,884.9V893M973.8,884V893M975.1,882.5V893M976.4,868.9V893M977.7,867.6V893M979,872V893M980.3,875V893M981.6,886.8V893M982.9,887.5V893M984.2,887.8V893M985.5,888.2V893M986.8,888V893M988.1,887.7V893M989.4,878.9V893M990.7,876.4V893M992,872.5V893M993.3,874.4V893M994.6,890.8V893M995.9,891.5V893M997.2,890.1V893M998.5,888.3V893M999.8,886.6V893M1001.1,849.5V893M1002.4,837.2V893M1003.7,842.4V893M1005,876.8V893M1006.3,878.3V893M1007.6,880.3V893M1008.9,882V893M1010.2,882.5V893M1011.5,863.3V893M1012.8,864.4V893M1014.1,864.4V893M1015.4,864.4V893M1016.7,866.1V893M1018,874.3V893M1019.3,878V893M1020.6,877.8V893M1021.9,874.8V893M1023.2,884.6V893M1024.5,863.9V893M1025.8,865.9V893M1027.1,885.5V893M1028.4,875.4V893M1029.7,877.5V893M1031,878.7V893M1032.3,878.9V893M1033.6,879V893M1034.9,880V893M1036.2,890V893M1037.5,889.8V893M1038.8,889.1V893M1040.1,888.2V893M1041.4,886.7V893M1042.7,864.7V893M1044,857.6V893M1045.3,851.7V893M1046.6,847V893M1047.9,883.8V893M1049.2,883.9V893M1050.5,883.8V893M1281.2,860.4V893M1282.5,858V893M1283.8,861.5V893M1285.1,858.4V893M1286.4,850.7V893M1287.7,850.8V893M1289,860.1V893M1290.3,856.9V893M1291.6,876.5V893M1292.9,877V893M1294.2,877V893M1295.5,873.7V893M1296.8,854.6V893M1298.1,838V893M1299.4,840.7V893M1300.7,853V893M1302,885.7V893M1303.3,886.4V893M1304.6,887.3V893M1305.9,888.3V893M1307.2,864.8V893M1308.5,868V893M1309.8,878.2V893M1311.1,883.8V893M1312.4,880.1V893M1313.7,876.8V893M1315,874.5V893M1316.3,888.6V893M1317.6,888.6V893M1318.9,870V893M1320.2,870.1V893M1321.5,888.4V893M1322.8,889V893M1324.1,875.9V893M1325.4,890.9V893M1326.7,891.2V893M1328,891.3V893M1329.3,891.5V893M1292.9,858.6V893M1294.2,858.4V893M1295.5,857.5V893M1296.8,850.4V893M1298.1,841.8V893M1299.4,839.4V893M1300.7,849.6V893M1302,857.6V893M1303.3,859V893M1304.6,862.3V893M1305.9,865.7V893M1307.2,866.1V893M1308.5,868.2V893M1309.8,879.1V893M1311.1,883.8V893M1312.4,881V893M1313.7,874V893M1315,872.6V893M1316.3,879.6V893M1317.6,881V893M1318.9,880.5V893M1320.2,879V893M1321.5,870.4V893M1322.8,871.7V893M1324.1,875.4V893M1325.4,891.7V893M1326.7,891.8V893M1328,891.7V893M1329.3,891.8V893M1330.6,891.7V893M1331.9,891.5V893M1333.2,891.6V893M1334.5,879.8V893M1335.8,880.1V893M1337.1,881.3V893M1338.4,882.1V893M1339.7,882.4V893M1341,882.4V893M1342.3,880V893M1343.6,885.8V893M1344.9,885.7V893M1346.2,885.7V893M1347.5,885.4V893M1348.8,884.5V893M1350.1,883.3V893M1351.4,867.7V893M1352.7,855.7V893M1354,855.7V893M1355.3,857.8V893M1356.6,888.1V893M1357.9,890.5V893M1359.2,890.9V893M1360.5,891.1V893M1361.8,886.1V893M1363.1,886.7V893M1364.4,886.7V893M1365.7,887.1V893M1367,887.3V893M1368.3,885.6V893M1369.6,884.9V893M1370.9,882.6V893M1372.2,881.3V893M1373.5,879.2V893M1374.8,879.1V893M1376.1,882.9V893M1377.4,892.1V893M1378.7,892.6V893M1380,892.6V893M1381.3,892.6V893M1382.6,892.7V893M1383.9,892.5V893M1385.2,887.1V893M1386.5,890V893M1387.8,890V893M1389.1,890.2V893M1390.4,890.1V893M1391.7,890.3V893M1393,889.7V893M1394.3,889.4V893M1395.6,886.6V893M1396.9,886.2V893M1398.2,885.2V893M1399.5,874V893M1400.8,872V893M1402.1,885.4V893M1403.4,885.3V893M1404.7,884.7V893M1406,884.7V893M1407.3,884.7V893M1408.6,869.9V893M1409.9,868.8V893M1411.2,865.9V893M1412.5,867V893M1413.8,863.6V893M1415.1,871.3V893M1416.4,890.3V893M1417.7,893V893M1419,893V893M1420.3,893V893M1421.6,892V893M1422.9,879.3V893M1424.2,860V893M1425.5,858.2V893M1426.8,858.2V893M1428.1,881.8V893M1429.4,884.1V893M1430.7,869.7V893M1432,864.5V893M1433.3,870.7V893M1434.6,870.5V893M1435.9,871.3V893M1437.2,881V893M1438.5,881.6V893M1439.8,882V893M1441.1,881.9V893M1442.4,882V893M1443.7,875.5V893M1445,876.1V893M1446.3,875.8V893M1447.6,874.6V893M1448.9,874.3V893M1450.2,873V893M1451.5,869.6V893M1452.8,871.4V893M1454.1,875.2V893M1455.4,877.2V893M1456.7,874V893M1458,883.2V893M1459.3,880.3V893M1460.6,852.8V893M1461.9,844.8V893M1463.2,875.2V893M1464.5,854.2V893M1465.8,844.4V893M1467.1,842V893M1468.4,870.4V893M1469.7,874.6V893M1471,861.6V893M1472.3,863.8V893M1473.6,864V893M1474.9,864.3V893M1476.2,862.8V893M1477.5,861.5V893M348.4,800.7h0M442.1,871.1h0M442.6,877.3h0M497,840.4h0M516.2,814.9h0M516.2,822.4h0M516.2,828.6h0M546.2,823.6h0M545.7,827.4h0M536.2,863.1h0M570.7,842.9h0M825.8,831.9h0M822.1,834.9h0M914.5,856.9h0M915,856.9h0M1007.4,827.4h0M1007.4,846.1h0M1053.6,834.9h0M1053.6,839.9h0M1287,846.1h0M1466.8,823.1h0M1466.8,837.4h0M1461.8,842.4h0M1353.9,854.4h0M1353.9,859.9h0M1354.4,867.3h0M1414.3,874.8h0M1414.8,881.1h0" fill="none" stroke="#e8871e" stroke-width="4.2" stroke-linecap="round"/>
<path d="M130,851.5H1720" stroke="#000" stroke-width="1.6" stroke-dasharray="7,7.6" fill="none"/>
<path d="M129.3,760V894.5H1719" stroke="#000" stroke-width="3.9" fill="none" stroke-linecap="round" stroke-linejoin="miter"/>
<path d="M130.2,1090V1119.5M131.5,1095.8V1119.5M132.8,1108.5V1119.5M134.1,1108.9V1119.5M135.4,1109.3V1119.5M136.7,1109.2V1119.5M138,1109.7V1119.5M139.3,1093.4V1119.5M140.6,1096.2V1119.5M141.9,1113.8V1119.5M143.2,1115.6V1119.5M144.5,1116.6V1119.5M145.8,1117.1V1119.5M147.1,1117.8V1119.5M148.4,1101.2V1119.5M149.7,1088.9V1119.5M151,1094.9V1119.5M152.3,1117.5V1119.5M153.6,1116.3V1119.5M154.9,1114.9V1119.5M156.2,1113.8V1119.5M157.5,1113.2V1119.5M158.8,1080.9V1119.5M160.1,1080.4V1119.5M161.4,1073.6V1119.5M162.7,1072V1119.5M164,1075.8V1119.5M165.3,1113.2V1119.5M166.6,1113.9V1119.5M167.9,1115.5V1119.5M169.2,1116.6V1119.5M170.5,1102.8V1119.5M171.8,1104.1V1119.5M173.1,1104.7V1119.5M174.4,1106.3V1119.5M175.7,1102.7V1119.5M177,1097.7V1119.5M178.3,1114.8V1119.5M179.6,1088.4V1119.5M180.9,1091.7V1119.5M182.2,1115.8V1119.5M183.5,1116.7V1119.5M184.8,1101.8V1119.5M186.1,1103.4V1119.5M187.4,1116.4V1119.5M188.7,1116.2V1119.5M190,1115.9V1119.5M191.3,1115.9V1119.5M192.6,1115.8V1119.5M193.9,1115.8V1119.5M195.2,1101.7V1119.5M196.5,1101V1119.5M197.8,1107.4V1119.5M199.1,1106.7V1119.5M200.4,1107V1119.5M201.7,1106.6V1119.5M203,1107.4V1119.5M204.3,1107V1119.5M205.6,1101.8V1119.5M206.9,1102.3V1119.5M208.2,1112.9V1119.5M209.5,1113.1V1119.5M210.8,1113.5V1119.5M212.1,1113.6V1119.5M213.4,1106.7V1119.5M214.7,1114V1119.5M216,1115.2V1119.5M217.3,1116V1119.5M218.6,1114.3V1119.5M219.9,1104.7V1119.5M221.2,1103.2V1119.5M222.5,1115.1V1119.5M223.8,1113.7V1119.5M225.1,1111.4V1119.5M226.4,1108.5V1119.5M227.7,1107.7V1119.5M229,1115.7V1119.5M230.3,1116.9V1119.5M231.6,1117.7V1119.5M232.9,1117.6V1119.5M234.2,1116.6V1119.5M235.5,1111.6V1119.5M236.8,1109.4V1119.5M238.1,1115.7V1119.5M239.4,1114.5V1119.5M240.7,1097.5V1119.5M242,1098V1119.5M243.3,1114.1V1119.5M244.6,1104.8V1119.5M245.9,1109.5V1119.5M247.2,1096.4V1119.5M248.5,1084.4V1119.5M249.8,1084.4V1119.5M251.1,1088.5V1119.5M252.4,1119.1V1119.5M253.7,1111.9V1119.5M255,1111.8V1119.5M256.3,1117.7V1119.5M257.6,1117.5V1119.5M258.9,1117.7V1119.5M260.2,1117.5V1119.5M261.5,1117.6V1119.5M262.8,1117.2V1119.5M264.1,1107.1V1119.5M265.4,1111V1119.5M266.7,1109.6V1119.5M268,1106.6V1119.5M269.3,1104.4V1119.5M270.6,1100V1119.5M271.9,1076V1119.5M273.2,1109.3V1119.5M274.5,1061.1V1119.5M275.8,1068.4V1119.5M277.1,1111.6V1119.5M278.4,1114.3V1119.5M279.7,1098.8V1119.5M281,1095.7V1119.5M282.3,1113.7V1119.5M283.6,1113.4V1119.5M284.9,1113.3V1119.5M286.2,1090V1119.5M287.5,1090.8V1119.5M288.8,1097.9V1119.5M290.1,1114.1V1119.5M291.4,1114.2V1119.5M292.7,1113.2V1119.5M294,1112.5V1119.5M295.3,1111.8V1119.5M296.6,1110.3V1119.5M297.9,1088.6V1119.5M299.2,1085.9V1119.5M300.5,1080.4V1119.5M301.8,1077.5V1119.5M303.1,1080.3V1119.5M304.4,1112.1V1119.5M305.7,1113.6V1119.5M307,1112.3V1119.5M308.3,1079.5V1119.5M309.6,1074.6V1119.5M310.9,1083.7V1119.5M312.2,1093V1119.5M313.5,1091.2V1119.5M314.8,1092.7V1119.5M316.1,1091.7V1119.5M317.4,1083.8V1119.5M318.7,1081.9V1119.5M320,1081.9V1119.5M321.3,1081.9V1119.5M322.6,1085.2V1119.5M323.9,1094.9V1119.5M325.2,1098.2V1119.5M326.5,1095.8V1119.5M327.8,1091.4V1119.5M329.1,1089V1119.5M330.4,1112.1V1119.5M331.7,1078.1V1119.5M333,1079.5V1119.5M334.3,1112.5V1119.5M335.6,1113.1V1119.5M336.9,1084.7V1119.5M338.2,1080.5V1119.5M586.9,1071.4V1119.5M588.2,1071.3V1119.5M589.5,1064.8V1119.5M590.8,1068V1119.5M592.1,1075.3V1119.5M593.4,1079V1119.5M594.7,1108.5V1119.5M596,1065.2V1119.5M597.3,1059.9V1119.5M598.6,1067.7V1119.5M599.9,1109V1119.5M601.2,1111.2V1119.5M602.5,1086.4V1119.5M603.8,1084.5V1119.5M605.1,1096.6V1119.5M606.4,1063.7V1119.5M607.7,1053.4V1119.5M609,1066.5V1119.5M610.3,1100.2V1119.5M611.6,1092.7V1119.5M612.9,1095.6V1119.5M614.2,1111.9V1119.5M615.5,1112.2V1119.5M616.8,1111.5V1119.5M618.1,1110.6V1119.5M619.4,1085.1V1119.5M620.7,1086.4V1119.5M622,1091.1V1119.5M623.3,1107.1V1119.5M624.6,1106.6V1119.5M625.9,1105.5V1119.5M627.2,1105.3V1119.5M628.5,1104.9V1119.5M629.8,1104.6V1119.5M631.1,1088.5V1119.5M632.4,1088.3V1119.5M633.7,1106.2V1119.5M635,1106.4V1119.5M636.3,1107.3V1119.5M637.6,1107.3V1119.5M638.9,1104.9V1119.5M640.2,1104.5V1119.5M641.5,1102.1V1119.5M642.8,1079.8V1119.5M644.1,1077.3V1119.5M645.4,1072.1V1119.5M646.7,1070.6V1119.5M648,1066.5V1119.5M649.3,1063.6V1119.5M650.6,1058.8V1119.5M651.9,1100.1V1119.5M653.2,1098.9V1119.5M654.5,1099.8V1119.5M655.8,1100V1119.5M657.1,1046.1V1119.5M658.4,1045.7V1119.5M659.7,1047V1119.5M661,1077V1119.5M662.3,1082.6V1119.5M663.6,1085.1V1119.5M666.1,1054.7V1095.8M667.4,1055.3V1091.8M668.7,1059.9V1088.3M670,1065.2V1087M671.3,1065.3V1085.7M672.6,1065V1084.8M673.9,1060.9V1084.6M675.2,1062V1084.4M676.5,1067.6V1084.3M677.8,1069.3V1084.1M679.1,1070.5V1084M680.4,1070V1083.8M681.7,1069.9V1083.6M683,1070.6V1083.5M684.3,1069V1083.4M685.6,1069V1083.2M686.9,1069V1083.1M688.2,1067.7V1083M689.5,1067V1082.8M690.8,1068.1V1082.7M692.1,1069.9V1082.6M693.4,1071.7V1082.4M694.7,1072.7V1082.3M696,1071.7V1082.5M697.3,1070.3V1082.6M698.6,1069V1082.7M699.9,1068V1082.8M701.2,1065.5V1083M702.5,1061.3V1083.1M703.8,1060V1083.2M705.1,1062.5V1083.4M706.4,1065V1083.5M707.7,1066V1084.1M709,1065.8V1085.4M710.3,1061.3V1086.7M711.6,1063.2V1088M712.9,1070.2V1093.6M714.2,1073V1102.3M716,1079.7V1119.5M717.3,1088.8V1119.5M718.6,1089.1V1119.5M719.9,1092.8V1119.5M721.2,1092.9V1119.5M722.5,1112.7V1119.5M723.8,1112.7V1119.5M725.1,1113.2V1119.5M726.4,1113.5V1119.5M727.7,1113.1V1119.5M729,1096.3V1119.5M730.3,1099.2V1119.5M731.6,1093.3V1119.5M732.9,1094V1119.5M734.2,1113.7V1119.5M735.5,1114.1V1119.5M736.8,1113.8V1119.5M738.1,1112.7V1119.5M739.4,1111.3V1119.5M740.7,1072.9V1119.5M742,1055.4V1119.5M743.3,1054.5V1119.5M744.6,1054.9V1119.5M745.9,1069.2V1119.5M747.2,1084.6V1119.5M748.5,1087.2V1119.5M749.8,1091.8V1119.5M751.1,1107.4V1119.5M752.4,1054.3V1119.5M753.7,1050.7V1119.5M755,1054.5V1119.5M756.3,1069.3V1119.5M757.6,1067.8V1119.5M758.9,1047.9V1119.5M760.2,1040.8V1119.5M761.5,1092.6V1119.5M762.8,1094.8V1119.5M764.1,1099.6V1119.5M765.4,1104V1119.5M766.7,1086.8V1119.5M768,1087.7V1119.5M769.3,1087.4V1119.5M770.6,1110V1119.5M771.9,1110.5V1119.5M773.2,1110.5V1119.5M774.5,1110.4V1119.5M775.8,1110.5V1119.5M777.1,1111.4V1119.5M778.4,1111.1V1119.5M779.7,1096.4V1119.5M781,1095.2V1119.5M782.3,1107.9V1119.5M783.6,1107.8V1119.5M784.9,1107.8V1119.5M786.2,1107.4V1119.5M787.5,1107.4V1119.5M788.8,1107.9V1119.5M790.1,1093.2V1119.5M791.4,1093.1V1119.5M792.7,1091.5V1119.5M794,1090.1V1119.5M795.3,1090.6V1119.5M796.6,1090.6V1119.5M797.9,1090.3V1119.5M799.2,1089.6V1119.5M800.5,1089V1119.5M801.8,1089.9V1119.5M803.1,1112.8V1119.5M804.4,1112V1119.5M805.7,1111.7V1119.5M807,1111.6V1119.5M808.3,1078.1V1119.5M809.6,1077.1V1119.5M810.9,1081.6V1119.5M812.2,1083.8V1119.5M813.5,1083.4V1119.5M814.8,1083.5V1119.5M816.1,1110.8V1119.5M817.4,1108.9V1119.5M818.7,1107.3V1119.5M820,1106.6V1119.5M821.3,1052.2V1119.5M822.6,1051.2V1119.5M823.9,1110.8V1119.5M825.2,1111.4V1119.5M826.5,1111.6V1119.5M827.8,1059.9V1119.5M829.1,1068.4V1119.5M800.9,1087.7V1119.5M802.2,1086.2V1119.5M803.5,1085.4V1119.5M804.8,1085.8V1119.5M806.1,1084.3V1119.5M807.4,1082.4V1119.5M808.7,1092.7V1119.5M810,1076.9V1119.5M811.3,1075.7V1119.5M812.6,1076.2V1119.5M813.9,1091.6V1119.5M815.2,1077.4V1119.5M816.5,1072.1V1119.5M817.8,1067.8V1119.5M819.1,1101.1V1119.5M820.4,1099.4V1119.5M821.7,1051.6V1119.5M823,1050.9V1119.5M824.3,1059.9V1119.5M825.6,1102.2V1119.5M826.9,1061.6V1119.5M828.2,1060.7V1119.5M829.5,1060.7V1119.5M830.8,1075V1119.5M832.1,1112.1V1119.5M833.4,1112.7V1119.5M834.7,1113.4V1119.5M836,1113V1119.5M837.3,1113V1119.5M838.6,1086V1119.5M1048.6,1090.1V1119.5M1049.9,1084.4V1119.5M1051.2,1079.7V1119.5M1052.5,1072.9V1119.5M1053.8,1065.5V1119.5M1055.1,1063.6V1119.5M1056.4,1082V1119.5M1057.7,1094.2V1119.5M1059,1111.7V1119.5M1060.3,1109.4V1119.5M1061.6,1108V1119.5M1062.9,1075.7V1119.5M1064.2,1064.5V1119.5M1065.5,1064.5V1119.5M1066.8,1076.2V1119.5M1068.1,1102.1V1119.5M1069.4,1108.9V1119.5M1070.7,1110.4V1119.5M1072,1116.8V1119.5M1073.3,1114.4V1119.5M1074.6,1112V1119.5M1075.9,1109V1119.5M1077.2,1090.6V1119.5M1078.5,1087V1119.5M1079.8,1088.8V1119.5M1081.1,1116.6V1119.5M1082.4,1117V1119.5M1083.7,1118.6V1119.5M1085,1119.5V1119.5M1086.3,1119.5V1119.5M1087.6,1119.5V1119.5M1088.9,1114.2V1119.5M1090.2,1113.4V1119.5M1091.5,1110.9V1119.5M1092.8,1108.7V1119.5M1094.1,1109.1V1119.5M1095.4,1102.9V1119.5M1096.7,1104.6V1119.5M1098,1116.7V1119.5M1099.3,1118.4V1119.5M1100.6,1118.6V1119.5M1101.9,1114.8V1119.5M1103.2,1114.2V1119.5M1104.5,1116.5V1119.5M1105.8,1112.9V1119.5M1107.1,1108.5V1119.5M1108.4,1090.9V1119.5M1109.7,1086.9V1119.5M1111,1086.9V1119.5M1112.3,1098.7V1119.5M1113.6,1110.3V1119.5M1114.9,1111.7V1119.5M1116.2,1113.4V1119.5M1117.5,1114.4V1119.5M1118.8,1119.3V1119.5M1120.1,1118.8V1119.5M1121.4,1118.4V1119.5M1122.7,1116.3V1119.5M1124,1114.4V1119.5M1125.3,1114.3V1119.5M1126.6,1088.5V1119.5M1127.9,1088.4V1119.5M1129.2,1092.2V1119.5M1130.5,1091.8V1119.5M1131.8,1091.4V1119.5M1133.1,1093.3V1119.5M1134.4,1093.8V1119.5M1135.7,1109.7V1119.5M1137,1111.9V1119.5M1138.3,1111.9V1119.5M1139.6,1111.9V1119.5M1140.9,1113.2V1119.5M1142.2,1115.2V1119.5M1143.5,1116.3V1119.5M1144.8,1117.3V1119.5M1146.1,1115.7V1119.5M1147.4,1115.6V1119.5M1148.7,1112.8V1119.5M1150,1111.9V1119.5M1151.3,1116.5V1119.5M1152.6,1116.5V1119.5M1153.9,1116.4V1119.5M1155.2,1116.5V1119.5M1156.5,1111.9V1119.5M1157.8,1110.6V1119.5M1159.1,1110.1V1119.5M1160.4,1106.5V1119.5M1161.7,1101.9V1119.5M1163,1095.6V1119.5M1164.3,1094.4V1119.5M1165.6,1107.4V1119.5M1166.9,1094.4V1119.5M1168.2,1094.4V1119.5M1169.5,1094.4V1119.5M1170.8,1094.4V1119.5M1172.1,1094.5V1119.5M1173.4,1097.1V1119.5M1174.7,1101.9V1119.5M1176,1102.8V1119.5M1177.3,1092.9V1119.5M1178.6,1087.6V1119.5M1179.9,1091.8V1119.5M1181.2,1107.9V1119.5M1182.5,1107.6V1119.5M1183.8,1106.4V1119.5M1185.1,1103.9V1119.5M1186.4,1103.2V1119.5M1187.7,1081.6V1119.5M1189,1073.6V1119.5M1190.3,1098.2V1119.5M1191.6,1097.2V1119.5M1192.9,1053.8V1119.5M1194.2,1049.9V1119.5M1195.5,1094.7V1119.5M1196.8,1095.2V1119.5M1198.1,1055.6V1119.5M1199.4,1058V1119.5M1200.7,1071.7V1119.5M1202,1084.7V1119.5M1203.3,1081.2V1119.5M1204.6,1078.5V1119.5M1205.9,1077.1V1119.5M1207.2,1104.3V1119.5M1208.5,1105.7V1119.5M1209.8,1083.5V1119.5M1211.1,1080.9V1119.5M1212.4,1078.2V1119.5M1213.7,1071.4V1119.5M1215,1071.1V1119.5M1216.3,1079.8V1119.5M1217.6,1083.6V1119.5M1218.9,1085.7V1119.5M1220.2,1107.2V1119.5M1221.5,1077.6V1119.5M1222.8,1079.4V1119.5M1224.1,1108.6V1119.5M1225.4,1109.2V1119.5M1226.7,1109.5V1119.5M1228,1109.2V1119.5M1229.3,1089V1119.5M1200.9,1085.9V1119.5M1202.2,1090.8V1119.5M1203.5,1102.2V1119.5M1204.8,1102.8V1119.5M1206.1,1103.1V1119.5M1207.4,1102.6V1119.5M1208.7,1084.5V1119.5M1210,1086.8V1119.5M1211.3,1085.2V1119.5M1212.6,1075.4V1119.5M1213.9,1074V1119.5M1215.2,1096.8V1119.5M1216.5,1098.9V1119.5M1217.8,1101.2V1119.5M1219.1,1101.4V1119.5M1220.4,1085.5V1119.5M1221.7,1078.4V1119.5M1223,1077.1V1119.5M1224.3,1109.3V1119.5M1225.6,1110.4V1119.5M1226.9,1111V1119.5M1228.2,1111.1V1119.5M1229.5,1093.3V1119.5M1230.8,1093.4V1119.5M1232.1,1092.8V1119.5M1233.4,1092.6V1119.5M1234.7,1097.3V1119.5M1236,1070.9V1119.5M1237.3,1073.9V1119.5M1238.6,1099.4V1119.5M1239.9,1097.7V1119.5M1241.2,1054.1V1119.5M1242.5,1043V1119.5M1243.8,1043V1119.5M1245.1,1062V1119.5M1246.4,1107V1119.5M1247.7,1110.2V1119.5M1249,1111.3V1119.5M1250.3,1092V1119.5M1251.6,1092.3V1119.5M1252.9,1092.5V1119.5M1254.2,1085.2V1119.5M1255.5,1106.3V1119.5M1256.8,1069V1119.5M1258.1,1065.3V1119.5M1259.4,1102V1119.5M1260.7,1104V1119.5M1262,1084V1119.5M1263.3,1087.5V1119.5M1264.6,1104.5V1119.5M1487.4,1064.1V1119.5M1488.7,1054.1V1119.5M1490,1049.1V1119.5M1491.3,1049.1V1119.5M1492.6,1049.1V1119.5M1493.9,1049.1V1119.5M1495.2,1049.1V1119.5M1496.5,1049.1V1119.5M1497.8,1060.2V1119.5M1499.1,1098.6V1119.5M1500.4,1095.9V1119.5M1501.7,1067.9V1119.5M1503,1075.3V1119.5M1504.3,1060.2V1119.5M1505.6,1058.2V1119.5M1506.9,1061.5V1119.5M1508.2,1081.2V1119.5M1509.5,1084V1119.5M1510.8,1084.4V1119.5M1512.1,1083.5V1119.5M1513.4,1074.6V1119.5M1514.7,1071.6V1119.5M1516,1070.6V1119.5M1517.3,1068V1119.5M1518.6,1067.8V1119.5M1519.9,1090.3V1119.5M1521.2,1090.5V1119.5M1522.5,1090.4V1119.5M1523.8,1067.2V1119.5M1525.1,1064.7V1119.5M1526.4,1075.2V1119.5M1527.7,1078.1V1119.5M1529,1081.6V1119.5M1530.3,1084.7V1119.5M1531.6,1103.5V1119.5M1532.9,1103.9V1119.5M1534.2,1106.2V1119.5M1535.5,1109V1119.5M1536.8,1102.8V1119.5M1538.1,1102.2V1119.5M1539.4,1100.1V1119.5M1540.7,1097.8V1119.5M1542,1099.5V1119.5M1543.3,1117.6V1119.5M1544.6,1118V1119.5M1545.9,1118.4V1119.5M1547.2,1104.8V1119.5M1548.5,1114.9V1119.5M1549.8,1113.9V1119.5M1551.1,1095.7V1119.5M1552.4,1094.9V1119.5M1553.7,1112.9V1119.5M1555,1113.9V1119.5M1556.3,1115.9V1119.5M1557.6,1109.1V1119.5M1558.9,1109.7V1119.5M1560.2,1109.7V1119.5M1561.6,1074.2V1079.4M1562.9,1074V1080M1564.2,1074.1V1080.5M1565.5,1073.8V1081M1566.8,1073V1081.5M1568.1,1073.1V1082M1569.4,1072.8V1082.1M1570.7,1072.5V1082.1M1572,1071.7V1082.1M1573.3,1071.8V1082.1M1574.6,1070.5V1082.1M1575.9,1070.3V1097.7M1577.2,1070.8V1118.5M1578.5,1072.6V1118.5M1579.8,1073.9V1118.5M1581.1,1076.5V1118.5M1582.4,1076.9V1118.5M1583.7,1075V1095M1585,1073.9V1082.1M1586.3,1073.8V1082.1M1587.6,1073.8V1082.1M1588.9,1075.1V1082.1M1590.2,1075.4V1082.1M1591.5,1076V1082.1M1592.8,1075.8V1086.5M1594.1,1077.8V1106.6M1595.4,1077.3V1110.9M1596.7,1075.8V1115.2M1598,1077V1118.5M1599.3,1075.7V1118.5M1600.6,1077.5V1118.5M1601.9,1073.6V1118.5M1603.2,1073.7V1118.5M1604.5,1080.2V1118.5M1606.5,1104.5V1119.5M1607.8,1106.8V1119.5M1609.1,1108V1119.5M1610.4,1116.4V1119.5M1611.7,1116.9V1119.5M1613,1116.6V1119.5M1614.3,1115.5V1119.5M1615.6,1114.8V1119.5M1616.9,1103.6V1119.5M1618.2,1100.6V1119.5M1619.5,1114.7V1119.5M1620.8,1114.3V1119.5M1622.1,1113.9V1119.5M1623.4,1113.4V1119.5M1624.7,1113.5V1119.5M1626,1112.8V1119.5M1627.3,1112.8V1119.5M1628.6,1088.1V1119.5M1629.9,1086V1119.5M1631.2,1085.8V1119.5M1632.5,1093.1V1119.5M1633.8,1093.3V1119.5M1635.1,1116.2V1119.5M1636.4,1116.5V1119.5M1637.7,1117.1V1119.5M1639,1117.8V1119.5M1640.3,1102.5V1119.5M1641.6,1101.4V1119.5M1642.9,1106.6V1119.5M1644.2,1103.7V1119.5M1645.5,1100V1119.5M1646.8,1097.8V1119.5M1648.1,1075V1119.5M1649.4,1077.9V1119.5M1650.7,1093V1119.5M1652,1116.3V1119.5M1653.3,1116.2V1119.5M1654.6,1116.7V1119.5M1655.9,1116.7V1119.5M1657.2,1117.1V1119.5M1658.5,1116.9V1119.5M1659.8,1116.7V1119.5M1661.1,1092V1119.5M1662.4,1090.2V1119.5M1663.7,1095.6V1119.5M1665,1097.8V1119.5M1666.3,1097.1V1119.5M1667.6,1097V1119.5M1668.9,1094.5V1119.5M1670.2,1091V1119.5M1671.5,1083.6V1119.5M1672.8,1079.7V1119.5M1674.1,1080.2V1119.5M1675.4,1088.4V1119.5M1676.7,1105.4V1119.5M1678,1105.6V1119.5M1679.3,1104.2V1119.5M1680.6,1103.5V1119.5M1681.9,1079.2V1119.5M1683.2,1074.6V1119.5M1684.5,1069.9V1119.5M1685.8,1065.7V1119.5M1687.1,1067.1V1119.5M1688.4,1097.5V1119.5M1689.7,1099.8V1119.5M1691,1099.6V1119.5M1692.3,1098.9V1119.5M1693.6,1075.5V1119.5M1694.9,1072.7V1119.5M1696.2,1077.9V1119.5M1697.5,1067.7V1119.5M1698.8,1065.8V1119.5M1700.1,1065.8V1119.5M1701.4,1065.8V1119.5M1702.7,1065.8V1119.5M1704,1067.1V1119.5M1705.3,1079.4V1119.5M1706.6,1079.8V1119.5M1707.9,1081.5V1119.5M1709.2,1095.6V1119.5M1710.5,1094.4V1119.5M1711.8,1069.3V1119.5M1713.1,1072.4V1119.5M1714.4,1099.1V1119.5M1715.7,1101.6V1119.5M1717,1088.7V1119.5M1718.3,1091.4V1119.5M221,1093.6h0M226.7,1089.3h0M247.2,1079.8h0M302.9,1068.6h0M322.1,1074.1h0M340.1,1066.1h0M340.1,1071.8h0M653.4,1042.9h0M674.7,1057.9h0M689.6,1064.1h0M760.3,1033.6h0M810.7,1073.6h0M640.9,1080.3h0M774.5,1085.3h0M675.9,1097.3h0M675.9,1102.3h0M676.4,1108.6h0M675.9,1114.8h0M694.6,1108.6h0M709.6,1108.6h0M1054.7,1053.6h0M1110.1,1102.3h0M1113.4,1106.1h0M1095.9,1098.6h0M1095.9,1102.3h0M1139.6,1108.6h0M1205.7,1069.9h0M1214.5,1064.9h0M1222,1072.3h0M1243,1024.3h0M1243,1030.3h0M1243,1036.4h0M1243,1053.1h0M1243,1063.7h0M1213.6,1065.2h0M1222.7,1071.2h0M1245.5,1065.2h0M1257.6,1054.6h0M1257.6,1063.7h0M1262.1,1066.7h0M1505.5,1050.6h0M1541,1092.5h0M1648.6,1065.8h0M1662.3,1086.4h0M1686.5,1056.7h0M1707.7,1071.2h0M1712.3,1065.2h0M1577.4,1113.7h0" fill="none" stroke="#4ac4f3" stroke-width="4.2" stroke-linecap="round"/>
<path d="M340.5,1096.2V1119.5M341.8,1094.6V1119.5M343.1,1091.6V1119.5M344.4,1084.7V1119.5M345.7,1088.9V1119.5M347,1106.6V1119.5M348.3,1109.4V1119.5M349.6,1099.8V1119.5M350.9,1100V1119.5M352.2,1113.2V1119.5M353.5,1112.7V1119.5M354.8,1112.2V1119.5M356.1,1111.2V1119.5M357.4,1109.1V1119.5M358.7,1107.1V1119.5M360,1087.1V1119.5M361.3,1067.9V1119.5M362.6,1078.2V1119.5M363.9,1096.1V1119.5M365.2,1114.2V1119.5M366.5,1115.6V1119.5M367.8,1116.3V1119.5M369.1,1116.6V1119.5M370.4,1116.5V1119.5M371.7,1116.8V1119.5M373,1115.5V1119.5M374.3,1098.2V1119.5M375.6,1096.7V1119.5M376.9,1107.4V1119.5M378.2,1106.2V1119.5M379.5,1105.4V1119.5M380.8,1080.3V1119.5M382.1,1077.1V1119.5M383.4,1081.5V1119.5M384.7,1087.4V1119.5M386,1115.1V1119.5M387.3,1114.4V1119.5M388.6,1078.2V1119.5M389.9,1074.4V1119.5M391.2,1076.1V1119.5M392.5,1085.4V1119.5M393.8,1090.1V1119.5M395.1,1097.2V1119.5M396.4,1105.1V1119.5M397.7,1117.2V1119.5M399,1118.2V1119.5M400.3,1117.8V1119.5M401.6,1116.7V1119.5M402.9,1105.6V1119.5M404.2,1111.4V1119.5M405.5,1084.1V1119.5M406.8,1083V1119.5M408.1,1107.4V1119.5M409.4,1108.1V1119.5M410.7,1108.2V1119.5M412,1088.9V1119.5M413.3,1087V1119.5M414.6,1086.4V1119.5M415.9,1082.1V1119.5M417.2,1081.6V1119.5M418.5,1113.7V1119.5M419.8,1114.4V1119.5M421.1,1115V1119.5M422.4,1114.7V1119.5M423.7,1094.5V1119.5M425,1095.2V1119.5M426.3,1096.8V1119.5M427.6,1096V1119.5M428.9,1095.9V1119.5M400.9,1102.7V1119.5M402.2,1098.2V1119.5M403.5,1093.5V1119.5M404.8,1091.5V1119.5M406.1,1082.5V1119.5M407.4,1084.3V1119.5M408.7,1102.3V1119.5M410,1101.8V1119.5M411.3,1100.3V1119.5M412.6,1100.7V1119.5M413.9,1099.1V1119.5M415.2,1080.8V1119.5M416.5,1080.8V1119.5M417.8,1087.9V1119.5M419.1,1097.3V1119.5M420.4,1096.9V1119.5M421.7,1094.8V1119.5M423,1093.4V1119.5M424.3,1095.2V1119.5M425.6,1094.4V1119.5M426.9,1102.8V1119.5M428.2,1102.8V1119.5M429.5,1103.4V1119.5M430.8,1102.5V1119.5M432.1,1102.9V1119.5M433.4,1102.1V1119.5M434.7,1102.2V1119.5M436,1093.2V1119.5M437.3,1093.6V1119.5M438.6,1097.4V1119.5M439.9,1097.7V1119.5M441.2,1110.8V1119.5M442.5,1111.5V1119.5M443.8,1110.8V1119.5M445.1,1110.1V1119.5M446.4,1090.7V1119.5M447.7,1089.7V1119.5M449,1097.2V1119.5M450.3,1097.4V1119.5M451.6,1099.1V1119.5M452.9,1099.9V1119.5M454.2,1112.1V1119.5M455.5,1112.1V1119.5M456.8,1112.2V1119.5M458.1,1112.7V1119.5M459.4,1112.5V1119.5M460.7,1101.4V1119.5M462,1100V1119.5M463.3,1101.1V1119.5M464.6,1100.4V1119.5M465.9,1100.8V1119.5M467.2,1099.8V1119.5M468.5,1099.1V1119.5M469.8,1098.6V1119.5M471.1,1096.4V1119.5M472.4,1095.8V1119.5M473.7,1094.1V1119.5M475,1090.1V1119.5M476.3,1089.3V1119.5M477.6,1088.2V1119.5M478.9,1080.9V1119.5M480.2,1080.9V1119.5M481.5,1095.7V1119.5M482.8,1095.6V1119.5M484.1,1096.6V1119.5M485.4,1096.4V1119.5M486.7,1088.5V1119.5M488,1088.8V1119.5M489.3,1089.5V1119.5M490.6,1090.2V1119.5M491.9,1088.6V1119.5M493.2,1087.4V1119.5M494.5,1084.9V1119.5M495.8,1083.9V1119.5M497.1,1102.3V1119.5M498.4,1101.4V1119.5M499.7,1098.7V1119.5M501,1094.9V1119.5M502.3,1060.9V1119.5M503.6,1057V1119.5M504.9,1067.2V1119.5M506.2,1078.3V1119.5M507.5,1086.8V1119.5M508.8,1116.2V1119.5M510.1,1115.5V1119.5M511.4,1081.7V1119.5M512.7,1079.4V1119.5M514,1114.7V1119.5M515.3,1115.7V1119.5M516.6,1116.2V1119.5M517.9,1096.4V1119.5M519.2,1097.2V1119.5M520.5,1095V1119.5M521.8,1087.2V1119.5M523.1,1113.2V1119.5M524.4,1070.4V1119.5M525.7,1069.1V1119.5M527,1114.1V1119.5M528.3,1115.6V1119.5M529.6,1116.7V1119.5M530.9,1117.3V1119.5M532.2,1099.4V1119.5M533.5,1094.6V1119.5M534.8,1092V1119.5M536.1,1094.5V1119.5M537.4,1114.5V1119.5M538.7,1114.8V1119.5M540,1089.9V1119.5M541.3,1081.1V1119.5M542.6,1103.5V1119.5M543.9,1102.6V1119.5M545.2,1069.5V1119.5M546.5,1070.6V1119.5M547.8,1104.7V1119.5M549.1,1107.8V1119.5M550.4,1109.5V1119.5M551.7,1099.6V1119.5M553,1102.3V1119.5M554.3,1102V1119.5M555.6,1101.4V1119.5M556.9,1100.9V1119.5M558.2,1110.7V1119.5M559.5,1109.9V1119.5M560.8,1109.8V1119.5M562.1,1109V1119.5M563.4,1107.8V1119.5M564.7,1092.1V1119.5M566,1089.5V1119.5M567.3,1091.9V1119.5M568.6,1111V1119.5M569.9,1111.6V1119.5M571.2,1108.8V1119.5M572.5,1089.7V1119.5M573.8,1082V1119.5M575.1,1061.3V1119.5M576.4,1054.9V1119.5M577.7,1102.1V1119.5M579,1106V1119.5M580.3,1108.7V1119.5M581.6,1109.3V1119.5M582.9,1084.1V1119.5M584.2,1108.5V1119.5M585.5,1074V1119.5M840.9,1082.6V1119.5M842.2,1053.9V1119.5M843.5,1049.5V1119.5M844.8,1049.5V1119.5M846.1,1078.2V1119.5M847.4,1108.7V1119.5M848.7,1108.3V1119.5M850,1086.1V1119.5M851.3,1086.5V1119.5M852.6,1087.9V1119.5M853.9,1089.4V1119.5M855.2,1095.7V1119.5M856.5,1102.7V1119.5M857.8,1099.6V1119.5M859.1,1098.4V1119.5M860.4,1114.6V1119.5M861.7,1115.4V1119.5M863,1108.9V1119.5M864.3,1110V1119.5M865.6,1116.4V1119.5M866.9,1116.7V1119.5M868.2,1116.8V1119.5M869.5,1117.2V1119.5M870.8,1113.1V1119.5M872.1,1113.4V1119.5M873.4,1113.5V1119.5M874.7,1114.1V1119.5M876,1113.4V1119.5M877.3,1112.7V1119.5M878.6,1111.3V1119.5M879.9,1110.7V1119.5M881.2,1111.1V1119.5M882.5,1112.7V1119.5M883.8,1114.2V1119.5M885.1,1114.7V1119.5M886.4,1114.9V1119.5M887.7,1115.3V1119.5M889,1115.1V1119.5M890.3,1113.1V1119.5M891.6,1112.6V1119.5M892.9,1118.2V1119.5M894.2,1117.7V1119.5M895.5,1108.8V1119.5M896.8,1108.3V1119.5M898.1,1117.1V1119.5M899.4,1110.7V1119.5M900.7,1110.9V1119.5M902,1111.4V1119.5M903.3,1114.8V1119.5M904.6,1114.8V1119.5M905.9,1114.8V1119.5M907.2,1114.5V1119.5M908.5,1110.4V1119.5M909.8,1110.1V1119.5M911.1,1109.2V1119.5M912.4,1108.9V1119.5M913.7,1109.2V1119.5M915,1114.7V1119.5M916.3,1110.5V1119.5M917.6,1115.9V1119.5M918.9,1116.2V1119.5M920.2,1116.2V1119.5M921.5,1116.2V1119.5M922.8,1115.9V1119.5M924.1,1110.9V1119.5M925.4,1110.4V1119.5M926.7,1109.1V1119.5M928,1109V1119.5M929.3,1109.8V1119.5M930.6,1111.3V1119.5M931.9,1112.1V1119.5M933.2,1112.3V1119.5M934.5,1112.1V1119.5M935.8,1112.5V1119.5M937.1,1112.3V1119.5M938.4,1112.2V1119.5M939.7,1111.6V1119.5M941,1111.9V1119.5M942.3,1109.2V1119.5M943.6,1108.9V1119.5M944.9,1109.5V1119.5M946.2,1110.4V1119.5M947.5,1111.6V1119.5M948.8,1111.9V1119.5M950.1,1117.4V1119.5M951.4,1117.4V1119.5M952.7,1117.6V1119.5M954,1117.6V1119.5M955.3,1118V1119.5M956.6,1115.4V1119.5M957.9,1115.4V1119.5M959.2,1115.9V1119.5M960.5,1114.8V1119.5M961.8,1114.3V1119.5M963.1,1115.7V1119.5M964.4,1115.3V1119.5M965.7,1107V1119.5M967,1101.9V1119.5M968.3,1103.4V1119.5M969.6,1112.8V1119.5M970.9,1113V1119.5M972.2,1111.1V1119.5M973.5,1108.9V1119.5M974.8,1107V1119.5M976.1,1107.1V1119.5M977.4,1108.1V1119.5M978.7,1108V1119.5M980,1108.3V1119.5M981.3,1108.5V1119.5M982.6,1109.9V1119.5M983.9,1109.8V1119.5M985.2,1109.6V1119.5M986.5,1109.6V1119.5M987.8,1111.1V1119.5M989.1,1110.5V1119.5M990.4,1110.8V1119.5M991.7,1109.8V1119.5M993,1109.7V1119.5M994.3,1109.9V1119.5M995.6,1109.2V1119.5M996.9,1105.2V1119.5M998.2,1101.8V1119.5M999.5,1112V1119.5M1000.8,1110V1119.5M1002.1,1108V1119.5M1003.4,1106V1119.5M1004.7,1086.9V1119.5M1006,1080.6V1119.5M1007.3,1075.1V1119.5M1008.6,1104V1119.5M1009.9,1061.9V1119.5M1011.2,1060.7V1119.5M1012.5,1060.7V1119.5M1013.8,1060.7V1119.5M1015.1,1064.1V1119.5M1016.4,1108.4V1119.5M1017.7,1091.1V1119.5M1019,1095.5V1119.5M1020.3,1099V1119.5M1021.6,1114.7V1119.5M1022.9,1115.5V1119.5M1024.2,1115.6V1119.5M1025.5,1115V1119.5M1026.8,1114.3V1119.5M1028.1,1086.8V1119.5M1029.4,1075.7V1119.5M1030.7,1075.7V1119.5M1032,1095.3V1119.5M1033.3,1105.6V1119.5M1034.6,1106.5V1119.5M1035.9,1107.1V1119.5M1037.2,1104V1119.5M1038.5,1098.5V1119.5M1039.8,1093.9V1119.5M1041.1,1093.4V1119.5M1042.4,1107.9V1119.5M1043.7,1107.8V1119.5M1045,1105.8V1119.5M1046.3,1105.6V1119.5M1267,1091.5V1119.5M1268.3,1090.2V1119.5M1269.6,1087.8V1119.5M1270.9,1086.7V1119.5M1272.2,1079V1119.5M1273.5,1073.5V1119.5M1274.8,1073.4V1119.5M1276.1,1086.3V1119.5M1277.4,1115.3V1119.5M1278.7,1115.6V1119.5M1280,1115.5V1119.5M1281.3,1087.2V1119.5M1282.6,1088.2V1119.5M1283.9,1091.5V1119.5M1285.2,1098.4V1119.5M1286.5,1099.8V1119.5M1287.8,1105.7V1119.5M1289.1,1090.5V1119.5M1290.4,1096.3V1119.5M1291.7,1112.1V1119.5M1293,1109.9V1119.5M1294.3,1107.5V1119.5M1295.6,1106.1V1119.5M1296.9,1106.6V1119.5M1298.2,1096.2V1119.5M1299.5,1085.8V1119.5M1300.8,1075.3V1119.5M1302.1,1055.9V1119.5M1303.4,1047.6V1119.5M1304.7,1047.6V1119.5M1306,1047.6V1119.5M1307.3,1063V1119.5M1308.6,1098.4V1119.5M1309.9,1099.6V1119.5M1311.2,1079.8V1119.5M1312.5,1091.5V1119.5M1313.8,1111.7V1119.5M1315.1,1110V1119.5M1316.4,1085.1V1119.5M1317.7,1084.9V1119.5M1319,1086.9V1119.5M1320.3,1089.6V1119.5M1321.6,1108.2V1119.5M1322.9,1110.3V1119.5M1324.2,1111.6V1119.5M1325.5,1112.9V1119.5M1326.8,1112.8V1119.5M1328.1,1101.4V1119.5M1329.4,1099.4V1119.5M1330.7,1099.5V1119.5M1332,1103.7V1119.5M1333.3,1112.4V1119.5M1334.6,1113.3V1119.5M1335.9,1114.1V1119.5M1337.2,1114.9V1119.5M1338.5,1109.7V1119.5M1339.8,1109.6V1119.5M1341.1,1110.4V1119.5M1342.4,1109.9V1119.5M1343.7,1110.3V1119.5M1345,1117.9V1119.5M1346.3,1117.4V1119.5M1347.6,1104.9V1119.5M1348.9,1103.9V1119.5M1350.2,1105.7V1119.5M1351.5,1106.8V1119.5M1352.8,1108.2V1119.5M1354.1,1109.1V1119.5M1355.4,1108.7V1119.5M1356.7,1117.4V1119.5M1358,1117V1119.5M1359.3,1117V1119.5M1360.6,1116.7V1119.5M1361.9,1116.5V1119.5M1363.2,1103.7V1119.5M1364.5,1104.1V1119.5M1365.8,1100.1V1119.5M1367.1,1100.4V1119.5M1368.4,1117.6V1119.5M1369.7,1118.6V1119.5M1371,1118.8V1119.5M1372.3,1112.2V1119.5M1373.6,1115.9V1119.5M1374.9,1116V1119.5M1376.2,1116.1V1119.5M1377.5,1115.4V1119.5M1378.8,1109.5V1119.5M1380.1,1108.9V1119.5M1381.4,1106.9V1119.5M1382.7,1107.3V1119.5M1384,1108.6V1119.5M1385.3,1112.9V1119.5M1386.6,1113.8V1119.5M1387.9,1114.5V1119.5M1389.2,1114.2V1119.5M1390.5,1114V1119.5M1391.8,1113.8V1119.5M1393.1,1113.8V1119.5M1394.4,1110.1V1119.5M1395.7,1119.3V1119.5M1397,1119V1119.5M1398.3,1118.6V1119.5M1399.6,1104.1V1119.5M1400.9,1104.1V1119.5M1402.2,1118.6V1119.5M1403.5,1118.8V1119.5M1404.8,1106.4V1119.5M1406.1,1107.6V1119.5M1407.4,1110.8V1119.5M1408.7,1109.2V1119.5M1410,1107.3V1119.5M1411.3,1105.4V1119.5M1412.6,1088.8V1119.5M1413.9,1086.4V1119.5M1415.2,1113.6V1119.5M1416.5,1115.3V1119.5M1417.8,1114.5V1119.5M1419.1,1113.9V1119.5M1420.4,1112.6V1119.5M1421.7,1111.8V1119.5M1423,1111.2V1119.5M1424.3,1084.8V1119.5M1425.6,1089.4V1119.5M1426.9,1116V1119.5M1428.2,1116.8V1119.5M1429.5,1116.5V1119.5M1430.8,1099.1V1119.5M1432.1,1097.7V1119.5M1433.4,1102.6V1119.5M1434.7,1100.8V1119.5M1436,1101.4V1119.5M1437.3,1097.9V1119.5M1438.6,1092.2V1119.5M1439.9,1083.5V1119.5M1441.2,1072.6V1119.5M1442.5,1062.9V1119.5M1443.8,1072.4V1119.5M1445.1,1115.7V1119.5M1446.4,1116.3V1119.5M1447.7,1116.8V1119.5M1449,1117.1V1119.5M1450.3,1093.8V1119.5M1451.6,1111.6V1119.5M1452.9,1111.8V1119.5M1454.2,1111.4V1119.5M1455.5,1110.4V1119.5M1456.8,1109.3V1119.5M1458.1,1107.4V1119.5M1459.4,1069.5V1119.5M1460.7,1055.5V1119.5M1462,1044.4V1119.5M1463.3,1043V1119.5M1464.6,1047.2V1119.5M1465.9,1109.7V1119.5M1467.2,1109.9V1119.5M1468.5,1112.5V1119.5M1469.8,1115.6V1119.5M1471.1,1095V1119.5M1472.4,1097.1V1119.5M1473.7,1097.6V1119.5M1475,1097.3V1119.5M1476.3,1101V1119.5M1477.6,1101.1V1119.5M1478.9,1100.5V1119.5M1480.2,1101.2V1119.5M1481.5,1100.4V1119.5M1482.8,1100.2V1119.5M1484.1,1085.9V1119.5M1485.4,1086.4V1119.5M382,1074.1h0M390,1057.9h0M390,1061.6h0M390,1072.3h0M406.2,1052.4h0M406.2,1056.6h0M361.5,1064.1h0M406.2,1052.4h0M406.2,1056.6h0M534.8,1089.1h0M566,1085.3h0M843.7,1045.4h0M843.7,1049.9h0M843.7,1054.9h0M843.7,1059.9h0M843.7,1066.1h0M843.7,1072.3h0M1005.2,1071.1h0M1019.7,1092.3h0M967.3,1099.3h0M1304.6,1029.4h0M1463.1,1012.1h0M1463.1,1021.2h0M1463.1,1027.3h0M1463.1,1033.4h0M1281.8,1083.4h0M1316.7,1080.3h0M1360.7,1101.6h0M1366.7,1095.5h0" fill="none" stroke="#00a04a" stroke-width="4.2" stroke-linecap="round"/>
<path d="M130,1078H1720" stroke="#000" stroke-width="1.6" stroke-dasharray="7,7.6" fill="none"/>
<path d="M129.3,985.5V1121H1719" stroke="#000" stroke-width="3.9" fill="none" stroke-linecap="round" stroke-linejoin="miter"/>
<path d="M130.2,1331.3V1345M131.5,1328V1345M132.8,1323.1V1345M134.1,1320.8V1345M135.4,1308.7V1345M136.7,1305V1345M138,1307.3V1345M139.3,1325.7V1345M140.6,1313.2V1345M141.9,1307V1345M143.2,1307V1345M144.5,1327.2V1345M145.8,1339V1345M147.1,1343.7V1345M148.4,1343.7V1345M149.7,1334.7V1345M151,1322V1345M152.3,1318.6V1345M153.6,1328.6V1345M154.9,1334.1V1345M156.2,1331.9V1345M157.5,1330.7V1345M158.8,1327.5V1345M160.1,1328V1345M161.4,1327.9V1345M162.7,1327.8V1345M164,1324.8V1345M165.3,1324.1V1345M166.6,1326.3V1345M167.9,1324.2V1345M169.2,1325.1V1345M170.5,1324.9V1345M171.8,1317.2V1345M173.1,1316.9V1345M174.4,1319V1345M175.7,1317.4V1345M177,1320.5V1345M178.3,1322.5V1345M179.6,1322V1345M180.9,1319.6V1345M182.2,1318.5V1345M183.5,1320.1V1345M184.8,1318.9V1345M186.1,1319.4V1345M187.4,1319.2V1345M188.7,1322.9V1345M190,1322.5V1345M191.3,1320.9V1345M192.6,1320.7V1345M193.9,1321.4V1345M195.2,1318.6V1345M196.5,1316.4V1345M197.8,1307.3V1345M199.1,1313.4V1345M200.4,1321.6V1345M201.7,1317.9V1345M203,1319.3V1345M204.3,1319V1345M205.6,1317.3V1345M206.9,1319V1345M208.2,1315.8V1345M209.5,1320.4V1345M210.8,1327.4V1345M212.1,1328.5V1345M213.4,1328.8V1345M214.7,1329.4V1345M216,1330.5V1345M217.3,1331.2V1345M218.6,1331.9V1345M219.9,1331.4V1345M221.2,1331.2V1345M222.5,1333.6V1345M223.8,1333.7V1345M225.1,1333.9V1345M226.4,1334.3V1345M227.7,1332.2V1345M229,1332.7V1345M230.3,1333.2V1345M231.6,1333V1345M232.9,1334V1345M234.2,1333.8V1345M235.5,1330.8V1345M236.8,1331.1V1345M238.1,1331.4V1345M239.4,1329.9V1345M240.7,1330V1345M242,1331.7V1345M243.3,1328.2V1345M244.6,1328.7V1345M245.9,1332.8V1345M247.2,1333V1345M248.5,1330.3V1345M249.8,1331.6V1345M251.1,1331.6V1345M252.4,1330.8V1345M253.7,1332.8V1345M255,1333V1345M256.3,1330.3V1345M257.6,1329.9V1345M258.9,1330V1345M260.2,1329.4V1345M261.5,1329.8V1345M262.8,1327.1V1345M264.1,1323.3V1345M265.4,1324.2V1345M266.7,1330.2V1345M268,1330.5V1345M269.3,1333.1V1345M270.6,1331.9V1345M271.9,1331.8V1345M273.2,1331.3V1345M274.5,1330.5V1345M275.8,1329.7V1345M277.1,1329.1V1345M278.4,1328.2V1345M279.7,1329.2V1345M281,1327.9V1345M282.3,1328.4V1345M283.6,1327.1V1345M284.9,1326.2V1345M286.2,1322.8V1345M287.5,1322.1V1345M288.8,1326.1V1345M290.1,1327.1V1345M291.4,1328.3V1345M292.7,1329.2V1345M294,1328.4V1345M295.3,1328.9V1345M296.6,1328.5V1345M297.9,1328.6V1345M299.2,1327.8V1345M300.5,1326.9V1345M301.8,1324.6V1345M303.1,1322.2V1345M304.4,1324.6V1345M305.7,1329V1345M307,1329V1345M308.3,1328.1V1345M309.6,1328.3V1345M310.9,1328.5V1345M312.2,1327.4V1345M313.5,1327.5V1345M314.8,1327.3V1345M316.1,1325.9V1345M317.4,1330V1345M318.7,1329.6V1345M320,1329.5V1345M321.3,1328.4V1345M322.6,1325.1V1345M323.9,1322.4V1345M325.2,1318.5V1345M590.7,1315.8V1345M592,1320.2V1345M593.3,1320.6V1345M594.6,1323.1V1345M595.9,1322.7V1345M597.2,1318.7V1345M598.5,1317V1345M599.8,1319.5V1345M601.1,1323V1345M602.4,1327.6V1345M603.7,1327.4V1345M605,1327.8V1345M606.3,1327.7V1345M607.6,1324.6V1345M608.9,1325.4V1345M610.2,1324V1345M611.5,1318.6V1345M612.8,1312.9V1345M614.1,1309.9V1345M615.4,1316.4V1345M616.7,1322V1345M618,1322.2V1345M619.3,1326.8V1345M620.6,1326.7V1345M621.9,1322.6V1345M623.2,1322.5V1345M624.5,1322.3V1345M625.8,1321.9V1345M627.1,1322.7V1345M628.4,1321.5V1345M629.7,1321.1V1345M631,1318.8V1345M632.3,1317.9V1345M633.6,1316.8V1345M634.9,1318.2V1345M636.2,1309.9V1345M637.5,1308.6V1345M638.8,1314.2V1345M640.1,1316.6V1345M641.4,1316.4V1345M642.7,1318.6V1345M644,1317.8V1345M645.3,1312.3V1345M646.6,1312.8V1345M647.9,1319.1V1345M649.2,1317.2V1345M650.5,1317.4V1345M651.8,1317.3V1345M653.1,1314.7V1345M654.4,1315.7V1345M655.7,1319.7V1345M657,1320.9V1345M658.3,1319.5V1345M659.6,1319.3V1345M660.9,1318.9V1345M662.2,1318.2V1345M663.5,1318.1V1345M664.8,1319.1V1345M666.1,1315V1345M667.4,1314.6V1345M668.7,1318.5V1345M670,1320.3V1345M671.3,1319.9V1345M672.6,1322.6V1345M673.9,1323V1345M675.2,1319.8V1345M676.5,1318.3V1345M677.8,1319V1345M679.1,1318.3V1345M680.4,1318.9V1345M681.7,1316.6V1345M683,1317.4V1345M684.3,1317.2V1345M685.6,1316.2V1345M686.9,1314.5V1345M688.2,1315.1V1345M689.5,1321.3V1345M690.8,1322.4V1345M692.1,1318.1V1345M693.4,1315.3V1345M694.7,1314.5V1345M696,1314.8V1345M697.3,1317.1V1345M698.6,1316.1V1345M699.9,1317V1345M701.2,1321V1345M702.5,1313.8V1345M703.8,1313.3V1345M705.1,1319.8V1345M706.4,1317.4V1345M707.7,1317.4V1345M709,1315.4V1345M710.3,1316.7V1345M711.6,1316.3V1345M712.9,1317V1345M714.2,1318V1345M715.5,1319.4V1345M716.8,1317.1V1345M718.1,1317V1345M719.4,1320.1V1345M720.7,1320.2V1345M722,1321.3V1345M723.3,1322V1345M724.6,1321.4V1345M725.9,1321.1V1345M727.2,1320.9V1345M728.5,1316V1345M729.8,1314.7V1345M731.1,1311.4V1345M732.4,1309.3V1345M733.7,1306V1345M735,1310.1V1345M736.3,1315.7V1345M737.6,1319.6V1345M738.9,1320.7V1345M740.2,1323.9V1345M741.5,1328.1V1345M742.8,1324.8V1345M744.1,1324.7V1345M745.4,1325.7V1345M746.7,1325.8V1345M748,1326.8V1345M749.3,1327.5V1345M750.6,1328.6V1345M751.9,1327.2V1345M753.2,1326.9V1345M754.5,1325.9V1345M755.8,1324.4V1345M757.1,1321.9V1345M758.4,1322.8V1345M759.7,1313.5V1345M761,1310.9V1345M762.3,1320.1V1345M763.6,1320.8V1345M764.9,1321.7V1345M766.2,1320.9V1345M767.5,1321.9V1345M768.8,1325.5V1345M770.1,1327.2V1345M771.4,1328V1345M772.7,1329V1345M774,1328.8V1345M775.3,1325V1345M776.6,1322.2V1345M777.9,1321V1345M779.2,1320V1345M780.5,1318.7V1345M781.8,1309.1V1345M783.1,1311.8V1345M784.4,1317V1345M785.7,1321.4V1345M787,1322V1345M788.3,1324.5V1345M789.6,1322.2V1345M790.9,1323.8V1345M792.2,1323.9V1345M793.5,1326.1V1345M794.8,1325.6V1345M796.1,1323.7V1345M797.4,1321V1345M798.7,1319.4V1345M800,1316.3V1345M801.3,1314.3V1345M802.6,1311.4V1345M803.9,1311.1V1345M805.2,1308.5V1345M806.5,1309.4V1345M807.8,1314.1V1345M809.1,1314.5V1345M810.4,1316.1V1345M811.7,1318.8V1345M813,1320.3V1345M814.3,1323.4V1345M815.6,1323.8V1345M816.9,1324.7V1345M818.2,1325V1345M819.5,1326V1345M820.8,1324.2V1345M822.1,1324.9V1345M823.4,1324.7V1345M824.7,1324.7V1345M826,1322.3V1345M827.3,1321.9V1345M828.6,1321.9V1345M800.9,1311.5V1345M802.2,1311.9V1345M803.5,1311.2V1345M804.8,1308.4V1345M806.1,1308.9V1345M807.4,1311.1V1345M808.7,1311.3V1345M810,1317.2V1345M811.3,1323.7V1345M812.6,1324.7V1345M813.9,1323.8V1345M815.2,1325.3V1345M816.5,1326.6V1345M817.8,1326.3V1345M819.1,1330.2V1345M820.4,1329.3V1345M821.7,1329.2V1345M823,1328.3V1345M824.3,1328.8V1345M825.6,1328.3V1345M826.9,1328.9V1345M828.2,1328.4V1345M829.5,1323.9V1345M830.8,1323.6V1345M832.1,1317V1345M833.4,1309.8V1345M834.7,1309.5V1345M836,1312.2V1345M1041.3,1320.2V1345M1042.6,1316V1345M1043.9,1316.4V1345M1045.2,1323.4V1345M1046.5,1324.9V1345M1047.8,1325.7V1345M1049.1,1325.3V1345M1050.4,1325.6V1345M1051.7,1325.8V1345M1053,1321.7V1345M1054.3,1322.5V1345M1055.6,1321.8V1345M1056.9,1320.7V1345M1058.2,1320.7V1345M1059.5,1320.7V1345M1060.8,1320.7V1345M1062.1,1320.7V1345M1063.4,1322V1345M1064.7,1325V1345M1066,1328.9V1345M1067.3,1329.1V1345M1068.6,1323.4V1345M1069.9,1324.5V1345M1071.2,1326.8V1345M1072.5,1331.8V1345M1073.8,1331.1V1345M1075.1,1329.6V1345M1076.4,1329.7V1345M1077.7,1333.6V1345M1079,1333.3V1345M1080.3,1330.6V1345M1081.6,1330.7V1345M1082.9,1330.8V1345M1084.2,1328.6V1345M1085.5,1328.7V1345M1086.8,1328.8V1345M1088.1,1327.9V1345M1089.4,1327.9V1345M1090.7,1328.1V1345M1092,1327.6V1345M1093.3,1329.4V1345M1094.6,1329.3V1345M1095.9,1328.7V1345M1097.2,1329.8V1345M1098.5,1328.5V1345M1099.8,1329.5V1345M1101.1,1328.3V1345M1102.4,1330.5V1345M1103.7,1331.7V1345M1105,1331.7V1345M1106.3,1331.9V1345M1107.6,1331.8V1345M1108.9,1332.4V1345M1110.2,1332.1V1345M1111.5,1329.7V1345M1112.8,1329.2V1345M1114.1,1329.4V1345M1115.4,1329.6V1345M1116.7,1329.4V1345M1118,1330.3V1345M1119.3,1330.5V1345M1120.6,1330V1345M1121.9,1331.4V1345M1123.2,1331.6V1345M1124.5,1332.1V1345M1125.8,1331.5V1345M1127.1,1331.1V1345M1128.4,1330.8V1345M1129.7,1331.1V1345M1131,1329.1V1345M1132.3,1329.2V1345M1133.6,1329.5V1345M1134.9,1329.6V1345M1136.2,1329.5V1345M1137.5,1328.7V1345M1138.8,1328.9V1345M1140.1,1330.8V1345M1141.4,1328.1V1345M1142.7,1326.2V1345M1144,1324.6V1345M1145.3,1325V1345M1146.6,1326.7V1345M1147.9,1327.6V1345M1149.2,1329.9V1345M1150.5,1330.1V1345M1151.8,1329.6V1345M1153.1,1329.5V1345M1154.4,1329.9V1345M1155.7,1330V1345M1157,1330.2V1345M1158.3,1330.3V1345M1159.6,1328.8V1345M1160.9,1328.4V1345M1162.2,1327.6V1345M1163.5,1327.1V1345M1164.8,1326.2V1345M1166.1,1325.8V1345M1167.4,1327V1345M1168.7,1322.4V1345M1170,1322.4V1345M1171.3,1324.9V1345M1172.6,1325.3V1345M1173.9,1330.2V1345M1175.2,1329.4V1345M1176.5,1325.1V1345M1177.8,1327.2V1345M1179.1,1318.9V1345M1180.4,1318.9V1345M1181.7,1326.8V1345M1183,1327.6V1345M1184.3,1328.3V1345M1185.6,1325.9V1345M1186.9,1326.7V1345M1188.2,1328.1V1345M1189.5,1328.1V1345M1190.8,1327.7V1345M1192.1,1327.7V1345M1193.4,1326.2V1345M1194.7,1325.8V1345M1196,1325.5V1345M1197.3,1324.9V1345M1198.6,1326.9V1345M1199.9,1326.9V1345M1201.2,1325.9V1345M1202.5,1326.2V1345M1203.8,1325.3V1345M1205.1,1323.9V1345M1206.4,1323.3V1345M1207.7,1324V1345M1209,1322V1345M1210.3,1322.2V1345M1211.6,1325V1345M1212.9,1325.4V1345M1214.2,1325.9V1345M1215.5,1326.9V1345M1216.8,1326.1V1345M1218.1,1327.2V1345M1219.4,1326.5V1345M1220.7,1327.6V1345M1222,1327.5V1345M1223.3,1328V1345M1224.6,1328.7V1345M1225.9,1330.7V1345M1227.2,1330.6V1345M1228.5,1331V1345M1200.9,1322.6V1345M1202.2,1328V1345M1203.5,1328.5V1345M1204.8,1327.4V1345M1206.1,1327.3V1345M1207.4,1325.5V1345M1208.7,1327.7V1345M1210,1327.3V1345M1211.3,1327.6V1345M1212.6,1326V1345M1213.9,1326.3V1345M1215.2,1326.7V1345M1216.5,1326.5V1345M1217.8,1326.9V1345M1219.1,1326.1V1345M1220.4,1327.9V1345M1221.7,1328.6V1345M1223,1328.9V1345M1224.3,1329.6V1345M1225.6,1328.5V1345M1226.9,1327.6V1345M1228.2,1329.1V1345M1229.5,1328.1V1345M1230.8,1326.8V1345M1232.1,1319.8V1345M1233.4,1317.9V1345M1234.7,1318.3V1345M1236,1320.9V1345M1237.3,1320.8V1345M1238.6,1321.4V1345M1239.9,1319.3V1345M1241.2,1315.3V1345M1242.5,1313.5V1345M1243.8,1315.1V1345M1245.1,1315.6V1345M1246.4,1309.4V1345M1247.7,1309.3V1345M1249,1313.3V1345M1250.3,1312.7V1345M1251.6,1315V1345M1252.9,1319.9V1345M1254.2,1319.6V1345M1255.5,1323.5V1345M1256.8,1325.4V1345M1258.1,1326.2V1345M1259.4,1324.4V1345M1260.7,1324.3V1345M1262,1325.2V1345M1263.3,1325.2V1345M1264.6,1326.1V1345M1265.9,1326.1V1345M1267.2,1325V1345M1268.5,1322.9V1345M1461,1328.2V1345M1462.3,1327.6V1345M1463.6,1322.6V1345M1464.9,1324V1345M1466.2,1327.5V1345M1467.5,1328.8V1345M1468.8,1329.6V1345M1470.1,1329.1V1345M1471.4,1328.2V1345M1472.7,1327.1V1345M1474,1327.1V1345M1475.3,1325.2V1345M1476.6,1324.1V1345M1477.9,1322.1V1345M1479.2,1321.7V1345M1480.5,1316.6V1345M1481.8,1312.2V1345M1483.1,1299.9V1345M1484.4,1280V1345M1485.7,1280V1345M1487,1292.5V1345M1488.3,1306V1345M1489.6,1288.9V1345M1490.9,1283V1345M1492.2,1283V1345M1493.5,1313.5V1345M1494.8,1318.6V1345M1496.1,1321.1V1345M1497.4,1324.3V1345M1498.7,1328V1345M1500,1328.7V1345M1501.3,1327.1V1345M1502.6,1327.5V1345M1503.9,1328.2V1345M1505.2,1328.5V1345M1506.5,1327.5V1345M1507.8,1331.4V1345M1509.1,1332.6V1345M1510.4,1332V1345M1511.7,1331.6V1345M1513,1331.6V1345M1514.3,1330.5V1345M1515.6,1330.4V1345M1516.9,1328.8V1345M1518.2,1328.3V1345M1519.5,1326.4V1345M1520.8,1326.4V1345M1522.1,1325.8V1345M1523.4,1328V1345M1524.7,1327.5V1345M1526,1326.7V1345M1527.3,1326.6V1345M1528.6,1322.6V1345M1529.9,1323.1V1345M1531.2,1325.6V1345M1532.5,1327.1V1345M1533.8,1330.9V1345M1535.1,1331.1V1345M1536.4,1330.7V1345M1537.7,1329.9V1345M1539,1330.1V1345M1540.3,1330.5V1345M1541.6,1330.5V1345M1542.9,1330.3V1345M1544.2,1330.7V1345M1545.5,1330.9V1345M1546.8,1329.9V1345M1548.1,1329.8V1345M1549.4,1329.3V1345M1550.7,1325.6V1345M1552,1325.6V1345M1553.3,1327.8V1345M1554.6,1328.1V1345M1555.9,1328V1345M1557.2,1327.7V1345M1558.5,1330.9V1345M1559.8,1331.1V1345M1561.1,1331.6V1345M1562.4,1331.8V1345M1563.7,1329.5V1345M1565,1329.7V1345M1566.3,1329V1345M1567.6,1330.1V1345M1568.9,1330.5V1345M1570.2,1330.7V1345M1571.5,1330.4V1345M1572.8,1329.9V1345M1574.1,1329.5V1345M1575.4,1327.1V1345M1576.7,1327V1345M1578,1329.2V1345M1579.3,1329.9V1345M1580.6,1329.4V1345M1581.9,1329.7V1345M1583.2,1330.2V1345M1584.5,1329.8V1345M1585.8,1328.6V1345M1587.1,1328.3V1345M1588.4,1331.7V1345M1589.7,1331.1V1345M1591,1331.3V1345M1592.3,1330.4V1345M1593.6,1327.9V1345M1594.9,1327.3V1345M1596.2,1324.3V1345M1597.5,1324.2V1345M1598.8,1326.3V1345M1600.1,1326.2V1345M1601.4,1327.7V1345M1602.7,1327.6V1345M1604,1330.8V1345M1605.3,1330.3V1345M1606.6,1331.6V1345M1607.9,1330.7V1345M1609.2,1331V1345M1610.5,1331V1345M1611.8,1328.6V1345M1613.1,1328.5V1345M1614.4,1327.6V1345M1615.7,1329.6V1345M1617,1329.2V1345M1618.3,1328V1345M1619.6,1327.9V1345M1620.9,1325.9V1345M1622.2,1323.8V1345M1623.5,1324V1345M1624.8,1322V1345M1626.1,1320V1345M1627.4,1320.1V1345M1628.7,1315.7V1345M1630,1315.1V1345M1631.3,1318.6V1345M1632.6,1321.2V1345M1633.9,1321.5V1345M1635.2,1322.1V1345M1636.5,1323.9V1345M1637.8,1324.2V1345M1639.1,1325V1345M1640.4,1324.9V1345M1641.7,1323.5V1345M1643,1321.7V1345M1644.3,1321.1V1345M1645.6,1327.2V1345M1646.9,1328.4V1345M1648.2,1328.7V1345M1649.5,1328.1V1345M1650.8,1328.4V1345M1652.1,1323.9V1345M1653.4,1323.1V1345M1654.7,1322.4V1345M1656,1323.1V1345M1657.3,1326V1345M1658.6,1326.7V1345M1659.9,1326.9V1345M1661.2,1327.4V1345M1662.5,1327.1V1345M1663.8,1326.2V1345M1665.1,1325.3V1345M1666.4,1322.7V1345M1667.7,1322.9V1345M1669,1325.2V1345M1670.3,1325.4V1345M1671.6,1324.9V1345M1672.9,1327V1345M1674.2,1325V1345M1675.5,1322.4V1345M1676.8,1320.8V1345M1678.1,1318.2V1345M1679.4,1318.3V1345M1680.7,1322V1345M1682,1324V1345M1683.3,1322.1V1345M1684.6,1322.1V1345M1685.9,1320.4V1345M1687.2,1320V1345M1688.5,1312.4V1345M1689.8,1311V1345M1691.1,1317.5V1345M1692.4,1321.1V1345M1693.7,1322.1V1345M1695,1317V1345M1696.3,1316.8V1345M1697.6,1321V1345M1698.9,1318.9V1345M1700.2,1319.9V1345M1701.5,1319.8V1345M1702.8,1322.3V1345M1704.1,1321.4V1345M1705.4,1315.9V1345M1706.7,1316.8V1345M1708,1318.1V1345M1709.3,1319.4V1345M1710.6,1319.4V1345M1711.9,1319.4V1345M1713.2,1319.4V1345M1714.5,1320.1V1345M1715.8,1323V1345M1717.1,1326.7V1345M1718.4,1325.4V1345M327.1,1314.1h0M591,1307.4h0M614,1306.6h0M688.4,1302.9h0M688.4,1307.4h0M694.6,1311.1h0M823.2,1311.6h0M823.7,1311.6h0M834.5,1293.4h0M834.5,1301.1h0M834.5,1306.1h0M834.5,1312.3h0M1043.4,1312.8h0M1069.2,1319.8h0M1117.1,1314.1h0M1198.3,1313.6h0M1233.3,1314.3h0M1238.8,1313.7h0M1262.1,1308.8h0M1484.9,1274.3h0M1484.9,1279.4h0M1491,1277.3h0M1491,1282.5h0M1491,1293.1h0M1491.6,1309.7h0M1516.2,1311.9h0M1528.9,1318.8h0M1678.3,1312.8h0M1689.5,1306.7h0M1695.6,1313.7h0M1705.6,1312.8h0M1463.7,1318.8h0M1476.4,1315.8h0" fill="none" stroke="#8c4f9d" stroke-width="4.2" stroke-linecap="round"/>
<path d="M326.7,1316.6V1345M328,1316.1V1345M329.3,1314.2V1345M330.6,1309.4V1345M331.9,1301.4V1345M333.2,1307.1V1345M334.5,1316.2V1345M335.8,1316.3V1345M337.1,1322.1V1345M338.4,1322.9V1345M339.7,1319.8V1345M341,1312.8V1345M342.3,1313.2V1345M343.6,1322.2V1345M344.9,1323.2V1345M346.2,1319.5V1345M347.5,1314.7V1345M348.8,1313.5V1345M350.1,1308.3V1345M351.4,1310.6V1345M352.7,1320.1V1345M354,1328.7V1345M355.3,1333.1V1345M356.6,1336.6V1345M357.9,1336.1V1345M359.2,1331.3V1345M360.5,1328.6V1345M361.8,1328.2V1345M363.1,1328.6V1345M364.4,1328.8V1345M365.7,1330.2V1345M367,1331V1345M368.3,1325.3V1345M369.6,1320.9V1345M370.9,1302.9V1345M372.2,1292.8V1345M373.5,1305.2V1345M374.8,1309V1345M376.1,1314.6V1345M377.4,1319.4V1345M378.7,1321V1345M380,1321.6V1345M381.3,1318.7V1345M382.6,1323.3V1345M383.9,1324.2V1345M385.2,1326.2V1345M386.5,1329.1V1345M387.8,1330.8V1345M389.1,1332V1345M390.4,1332.6V1345M391.7,1331.7V1345M393,1332.3V1345M394.3,1333V1345M395.6,1333V1345M396.9,1331.4V1345M398.2,1332V1345M399.5,1332.2V1345M400.8,1332.4V1345M402.1,1335.4V1345M403.4,1336V1345M404.7,1335.6V1345M406,1334.2V1345M407.3,1333.9V1345M408.6,1333.8V1345M409.9,1334V1345M411.2,1335.1V1345M412.5,1335.4V1345M413.8,1334.9V1345M415.1,1332.5V1345M416.4,1332.3V1345M417.7,1331.3V1345M419,1330.8V1345M420.3,1330.8V1345M421.6,1334V1345M422.9,1334.4V1345M424.2,1333.9V1345M425.5,1333.8V1345M426.8,1334.8V1345M428.1,1333.9V1345M429.4,1334.4V1345M400.9,1334.7V1345M402.2,1334.5V1345M403.5,1333.3V1345M404.8,1333.5V1345M406.1,1332.5V1345M407.4,1332.3V1345M408.7,1335.3V1345M410,1334.9V1345M411.3,1335.5V1345M412.6,1335.1V1345M413.9,1334.5V1345M415.2,1334.5V1345M416.5,1333.7V1345M417.8,1330.6V1345M419.1,1331V1345M420.4,1333.1V1345M421.7,1332.9V1345M423,1333.4V1345M424.3,1333.4V1345M425.6,1331.1V1345M426.9,1331.1V1345M428.2,1331.2V1345M429.5,1330.1V1345M430.8,1329.7V1345M432.1,1329.5V1345M433.4,1333.3V1345M434.7,1333.1V1345M436,1332.9V1345M437.3,1332.5V1345M438.6,1331.2V1345M439.9,1332.2V1345M441.2,1332.1V1345M442.5,1331.3V1345M443.8,1331.4V1345M445.1,1332.8V1345M446.4,1332.8V1345M447.7,1331.8V1345M449,1331.5V1345M450.3,1334.2V1345M451.6,1335V1345M452.9,1334.9V1345M454.2,1335.2V1345M455.5,1335.1V1345M456.8,1335.3V1345M458.1,1332.6V1345M459.4,1332.3V1345M460.7,1332V1345M462,1335.8V1345M463.3,1335.7V1345M464.6,1335.4V1345M465.9,1334.8V1345M467.2,1332.5V1345M468.5,1332.5V1345M469.8,1331.9V1345M471.1,1332V1345M472.4,1332V1345M473.7,1331.1V1345M475,1331.7V1345M476.3,1329.5V1345M477.6,1328.7V1345M478.9,1327.9V1345M480.2,1326.2V1345M481.5,1326.8V1345M482.8,1325.7V1345M484.1,1324.1V1345M485.4,1318.4V1345M486.7,1319.2V1345M488,1327.7V1345M489.3,1329.9V1345M490.6,1330.4V1345M491.9,1329.5V1345M493.2,1328.4V1345M494.5,1328V1345M495.8,1326V1345M497.1,1320V1345M498.4,1318V1345M499.7,1315.8V1345M501,1315.6V1345M502.3,1312V1345M503.6,1310.7V1345M504.9,1310.7V1345M506.2,1310.7V1345M507.5,1310.8V1345M508.8,1315.3V1345M510.1,1315.4V1345M511.4,1315.6V1345M512.7,1316V1345M514,1310.6V1345M515.3,1310.3V1345M516.6,1316V1345M517.9,1321.1V1345M519.2,1322.1V1345M520.5,1323.9V1345M521.8,1324.4V1345M523.1,1324.6V1345M524.4,1323.9V1345M525.7,1323.1V1345M527,1321.2V1345M528.3,1322.8V1345M529.6,1323.1V1345M530.9,1319.4V1345M532.2,1318.3V1345M533.5,1319V1345M534.8,1323.9V1345M536.1,1324.3V1345M537.4,1322.8V1345M538.7,1322.9V1345M540,1323.5V1345M541.3,1326.3V1345M542.6,1326.7V1345M543.9,1326.2V1345M545.2,1325V1345M546.5,1325.2V1345M547.8,1320.4V1345M549.1,1320.1V1345M550.4,1318.2V1345M551.7,1312.2V1345M553,1313.4V1345M554.3,1321.8V1345M555.6,1320.4V1345M556.9,1308.4V1345M558.2,1308.2V1345M559.5,1316.7V1345M560.8,1318.8V1345M562.1,1308.3V1345M563.4,1304.7V1345M564.7,1300.8V1345M566,1305.4V1345M567.3,1291.8V1345M568.6,1295.3V1345M569.9,1304.8V1345M571.2,1306.3V1345M572.5,1310.9V1345M573.8,1312.6V1345M575.1,1316.9V1345M576.4,1316.9V1345M577.7,1316.9V1345M579,1318.8V1345M580.3,1322.1V1345M581.6,1322.3V1345M582.9,1322.3V1345M584.2,1321.9V1345M585.5,1320.2V1345M586.8,1317.4V1345M588.1,1316.9V1345M837.9,1324.9V1345M839.2,1315.9V1345M840.5,1313.3V1345M841.8,1322.8V1345M843.1,1325.3V1345M844.4,1326.3V1345M845.7,1322.7V1345M847,1320.8V1345M848.3,1312.4V1345M849.6,1315.4V1345M850.9,1326.5V1345M852.2,1325.2V1345M853.5,1325.9V1345M854.8,1325.8V1345M856.1,1325.8V1345M857.4,1323V1345M858.7,1320.9V1345M860,1317.9V1345M861.3,1313.4V1345M862.6,1311.6V1345M863.9,1312.3V1345M865.2,1311.8V1345M866.5,1310.8V1345M867.8,1308.4V1345M869.1,1304.4V1345M870.4,1303.9V1345M871.7,1309.9V1345M873,1310.2V1345M874.3,1308.8V1345M875.6,1306.1V1345M876.9,1305.7V1345M878.2,1306.7V1345M879.5,1311V1345M880.8,1312.3V1345M882.1,1313.3V1345M883.4,1313V1345M884.7,1315.9V1345M886,1316.4V1345M887.3,1315V1345M888.6,1316.7V1345M889.9,1319.3V1345M891.2,1318.1V1345M892.5,1316.5V1345M893.8,1317.4V1345M895.1,1315.6V1345M896.4,1316.6V1345M897.7,1315.8V1345M899,1317.3V1345M900.3,1316.4V1345M901.6,1315.8V1345M902.9,1315.6V1345M904.2,1316.8V1345M905.5,1315.1V1345M906.8,1317V1345M908.1,1317.4V1345M909.4,1312.2V1345M910.7,1312.1V1345M912,1314.1V1345M913.3,1313.5V1345M914.6,1315.6V1345M915.9,1314.8V1345M917.2,1312.2V1345M918.5,1312.8V1345M919.8,1310.3V1345M921.1,1309.5V1345M922.4,1310.7V1345M923.7,1314.1V1345M925,1315.8V1345M926.3,1315.2V1345M927.6,1315V1345M928.9,1316.7V1345M930.2,1315.7V1345M931.5,1315.4V1345M932.8,1321V1345M934.1,1319.7V1345M935.4,1314.8V1345M936.7,1315V1345M938,1315.4V1345M939.3,1315.4V1345M940.6,1314.6V1345M941.9,1315.8V1345M943.2,1316.7V1345M944.5,1317.9V1345M945.8,1318.2V1345M947.1,1316V1345M948.4,1316.4V1345M949.7,1317V1345M951,1315V1345M952.3,1315V1345M953.6,1315.5V1345M954.9,1316.6V1345M956.2,1317.3V1345M957.5,1317.2V1345M958.8,1315.5V1345M960.1,1313.8V1345M961.4,1312.3V1345M962.7,1312V1345M964,1315.4V1345M965.3,1317.1V1345M966.6,1316.6V1345M967.9,1316.9V1345M969.2,1319.8V1345M970.5,1320V1345M971.8,1316V1345M973.1,1315.7V1345M974.4,1320.1V1345M975.7,1319V1345M977,1310.1V1345M978.3,1309.8V1345M979.6,1318.6V1345M980.9,1317.2V1345M982.2,1315.9V1345M983.5,1308.7V1345M984.8,1307V1345M986.1,1307.6V1345M987.4,1316.2V1345M988.7,1314.6V1345M990,1307V1345M991.3,1306.7V1345M992.6,1313.2V1345M993.9,1313.2V1345M995.2,1311V1345M996.5,1316.7V1345M997.8,1318V1345M999.1,1323.1V1345M1000.4,1326.3V1345M1001.7,1324.1V1345M1003,1325.3V1345M1004.3,1328.3V1345M1005.6,1329V1345M1006.9,1330.2V1345M1008.2,1328.3V1345M1009.5,1328.3V1345M1010.8,1328.5V1345M1012.1,1326V1345M1013.4,1324.7V1345M1014.7,1324.1V1345M1016,1324.7V1345M1017.3,1322.8V1345M1018.6,1324.6V1345M1019.9,1323V1345M1021.2,1321.4V1345M1022.5,1320V1345M1023.8,1320.2V1345M1025.1,1316V1345M1026.4,1311.8V1345M1027.7,1306.3V1345M1029,1301.1V1345M1030.3,1300.7V1345M1031.6,1306.9V1345M1032.9,1310.5V1345M1034.2,1317.1V1345M1035.5,1320.1V1345M1036.8,1320.4V1345M1038.1,1319.5V1345M1039.4,1315.3V1345M1270,1323.2V1345M1271.3,1321.7V1345M1272.6,1325.8V1345M1273.9,1320.4V1345M1275.2,1320.8V1345M1276.5,1322.1V1345M1277.8,1320.3V1345M1279.1,1312.3V1345M1280.4,1310.1V1345M1281.7,1315.5V1345M1283,1322.5V1345M1284.3,1324.6V1345M1285.6,1328.4V1345M1286.9,1329.2V1345M1288.2,1329.2V1345M1289.5,1330.3V1345M1290.8,1330V1345M1292.1,1329.5V1345M1293.4,1330.3V1345M1294.7,1330.3V1345M1296,1328.2V1345M1297.3,1328.1V1345M1298.6,1327.4V1345M1299.9,1327.7V1345M1301.2,1325.8V1345M1302.5,1327.5V1345M1303.8,1326.7V1345M1305.1,1327V1345M1306.4,1326.6V1345M1307.7,1323.6V1345M1309,1323.1V1345M1310.3,1324.9V1345M1311.6,1323.5V1345M1312.9,1323.6V1345M1314.2,1315.8V1345M1315.5,1315.2V1345M1316.8,1318.2V1345M1318.1,1322.6V1345M1319.4,1319.6V1345M1320.7,1319.2V1345M1322,1319.1V1345M1323.3,1318.1V1345M1324.6,1315.9V1345M1325.9,1314.6V1345M1327.2,1312.7V1345M1328.5,1308.6V1345M1329.8,1307.4V1345M1331.1,1309V1345M1332.4,1314V1345M1333.7,1315.8V1345M1335,1315.7V1345M1336.3,1317.6V1345M1337.6,1316.4V1345M1338.9,1317.3V1345M1340.2,1317.4V1345M1341.5,1315.7V1345M1342.8,1316.8V1345M1344.1,1318V1345M1345.4,1314.6V1345M1346.7,1314.1V1345M1348,1314.8V1345M1349.3,1311.7V1345M1350.6,1311.7V1345M1351.9,1311V1345M1353.2,1309.8V1345M1354.5,1309.7V1345M1355.8,1310V1345M1357.1,1315.4V1345M1358.4,1314.7V1345M1359.7,1314.9V1345M1361,1316.2V1345M1362.3,1313.4V1345M1363.6,1315.1V1345M1364.9,1314.9V1345M1366.2,1314.6V1345M1367.5,1315V1345M1368.8,1314.5V1345M1370.1,1315.5V1345M1371.4,1314.7V1345M1372.7,1315.4V1345M1374,1309V1345M1375.3,1309.8V1345M1376.6,1312.5V1345M1377.9,1312.4V1345M1379.2,1313.3V1345M1380.5,1313.3V1345M1381.8,1313.3V1345M1383.1,1313.3V1345M1384.4,1313.3V1345M1385.7,1314.2V1345M1387,1316.9V1345M1388.3,1318.5V1345M1389.6,1321.2V1345M1390.9,1326.4V1345M1392.2,1327.4V1345M1393.5,1327.3V1345M1394.8,1327.9V1345M1396.1,1327V1345M1397.4,1326.2V1345M1398.7,1326.2V1345M1400,1326V1345M1401.3,1324.5V1345M1402.6,1328.6V1345M1403.9,1329V1345M1405.2,1328V1345M1406.5,1326.8V1345M1407.8,1323.6V1345M1409.1,1321.5V1345M1410.4,1319.5V1345M1411.7,1312.1V1345M1413,1312V1345M1414.3,1313.4V1345M1415.6,1315.8V1345M1416.9,1317.7V1345M1418.2,1315.8V1345M1419.5,1314.3V1345M1420.8,1314.9V1345M1422.1,1313.2V1345M1423.4,1311.2V1345M1424.7,1307.5V1345M1426,1310V1345M1427.3,1319.3V1345M1428.6,1322.3V1345M1429.9,1324.6V1345M1431.2,1324.5V1345M1432.5,1323.2V1345M1433.8,1317.9V1345M1435.1,1316.6V1345M1436.4,1321.6V1345M1437.7,1322.5V1345M1439,1323.7V1345M1440.3,1328V1345M1441.6,1326.7V1345M1442.9,1327.6V1345M1444.2,1321.3V1345M1445.5,1320.9V1345M1446.8,1321.4V1345M1448.1,1323.1V1345M1449.4,1323.2V1345M1450.7,1323.1V1345M1452,1320.1V1345M1453.3,1317.9V1345M1454.6,1315.1V1345M1455.9,1310.1V1345M1457.2,1306.1V1345M1458.5,1304.3V1345M486.1,1314.1h0M551.8,1308.6h0M557.8,1303.6h0M563.5,1297.9h0M567.8,1279.9h0M567.8,1288.6h0M590.3,1272.9h0M590.3,1277.4h0M590.3,1284.9h0M590.3,1288.6h0M590.3,1292.9h0M577.8,1314.1h0M584.8,1316.6h0M870.4,1300.4h0M876.9,1302.9h0M977.8,1306.6h0M1329.7,1304h0M1374.3,1297.6h0M1374.3,1305.2h0M1460.1,1292.5h0M1460.1,1296.7h0M1460.1,1305.2h0M1445.5,1317.3h0" fill="none" stroke="#4343ff" stroke-width="4.2" stroke-linecap="round"/>
<path d="M130,1318H1720" stroke="#000" stroke-width="1.6" stroke-dasharray="7,7.6" fill="none"/>
<path d="M129.3,1213.5V1346.5H1719" stroke="#000" stroke-width="3.9" fill="none" stroke-linecap="round" stroke-linejoin="miter"/>
<path d="M224.8,894.5v12" stroke="#000" stroke-width="1.6"/>
<text x="224.8" y="943" font-size="31" text-anchor="middle" fill="#000" stroke="#000" stroke-width="0.35">1A</text>
<path d="M446.3,894.5v12" stroke="#000" stroke-width="1.6"/>
<text x="446.3" y="943" font-size="31" text-anchor="middle" fill="#000" stroke="#000" stroke-width="0.35">2A</text>
<path d="M693,894.5v12" stroke="#000" stroke-width="1.6"/>
<text x="693" y="943" font-size="31" text-anchor="middle" fill="#000" stroke="#000" stroke-width="0.35">3A</text>
<path d="M934.5,894.5v12" stroke="#000" stroke-width="1.6"/>
<text x="934.5" y="943" font-size="31" text-anchor="middle" fill="#000" stroke="#000" stroke-width="0.35">4A</text>
<path d="M1168.4,894.5v12" stroke="#000" stroke-width="1.6"/>
<text x="1168.4" y="943" font-size="31" text-anchor="middle" fill="#000" stroke="#000" stroke-width="0.35">5A</text>
<path d="M1382.6,894.5v12" stroke="#000" stroke-width="1.6"/>
<text x="1382.6" y="943" font-size="31" text-anchor="middle" fill="#000" stroke="#000" stroke-width="0.35">6A</text>
<path d="M1601.1,894.5v12" stroke="#000" stroke-width="1.6"/>
<text x="1601.1" y="943" font-size="31" text-anchor="middle" fill="#000" stroke="#000" stroke-width="0.35">7A</text>
<path d="M234.7,1121v12" stroke="#000" stroke-width="1.6"/>
<text x="234.7" y="1169.5" font-size="31" text-anchor="middle" fill="#000" stroke="#000" stroke-width="0.35">1B</text>
<path d="M464.2,1121v12" stroke="#000" stroke-width="1.6"/>
<text x="464.2" y="1169.5" font-size="31" text-anchor="middle" fill="#000" stroke="#000" stroke-width="0.35">2B</text>
<path d="M714.6,1121v12" stroke="#000" stroke-width="1.6"/>
<text x="714.6" y="1169.5" font-size="31" text-anchor="middle" fill="#000" stroke="#000" stroke-width="0.35">3B</text>
<path d="M945.6,1121v12" stroke="#000" stroke-width="1.6"/>
<text x="945.6" y="1169.5" font-size="31" text-anchor="middle" fill="#000" stroke="#000" stroke-width="0.35">4B</text>
<path d="M1158.3,1121v12" stroke="#000" stroke-width="1.6"/>
<text x="1158.3" y="1169.5" font-size="31" text-anchor="middle" fill="#000" stroke="#000" stroke-width="0.35">5B</text>
<path d="M1378.2,1121v12" stroke="#000" stroke-width="1.6"/>
<text x="1378.2" y="1169.5" font-size="31" text-anchor="middle" fill="#000" stroke="#000" stroke-width="0.35">6B</text>
<path d="M1604,1121v12" stroke="#000" stroke-width="1.6"/>
<text x="1604" y="1169.5" font-size="31" text-anchor="middle" fill="#000" stroke="#000" stroke-width="0.35">7B</text>
<path d="M229,1346.5v12" stroke="#000" stroke-width="1.6"/>
<text x="229" y="1395" font-size="31" text-anchor="middle" fill="#000" stroke="#000" stroke-width="0.35">1D</text>
<path d="M459.9,1346.5v12" stroke="#000" stroke-width="1.6"/>
<text x="459.9" y="1395" font-size="31" text-anchor="middle" fill="#000" stroke="#000" stroke-width="0.35">2D</text>
<path d="M714.9,1346.5v12" stroke="#000" stroke-width="1.6"/>
<text x="714.9" y="1395" font-size="31" text-anchor="middle" fill="#000" stroke="#000" stroke-width="0.35">3D</text>
<path d="M941.3,1346.5v12" stroke="#000" stroke-width="1.6"/>
<text x="941.3" y="1395" font-size="31" text-anchor="middle" fill="#000" stroke="#000" stroke-width="0.35">4D</text>
<path d="M1157.8,1346.5v12" stroke="#000" stroke-width="1.6"/>
<text x="1157.8" y="1395" font-size="31" text-anchor="middle" fill="#000" stroke="#000" stroke-width="0.35">5D</text>
<path d="M1367,1346.5v12" stroke="#000" stroke-width="1.6"/>
<text x="1367" y="1395" font-size="31" text-anchor="middle" fill="#000" stroke="#000" stroke-width="0.35">6D</text>
<path d="M1591,1346.5v12" stroke="#000" stroke-width="1.6"/>
<text x="1591" y="1395" font-size="31" text-anchor="middle" fill="#000" stroke="#000" stroke-width="0.35">7D</text>
<text x="116" y="772" font-size="31" text-anchor="end" fill="#000" stroke="#000" stroke-width="0.35">1</text>
<text x="116" y="838" font-size="31" text-anchor="end" fill="#000" stroke="#000" stroke-width="0.35">0.5</text>
<text x="116" y="903" font-size="31" text-anchor="end" fill="#000" stroke="#000" stroke-width="0.35">0</text>
<text x="116" y="998.5" font-size="31" text-anchor="end" fill="#000" stroke="#000" stroke-width="0.35">1</text>
<text x="116" y="1064" font-size="31" text-anchor="end" fill="#000" stroke="#000" stroke-width="0.35">0.5</text>
<text x="116" y="1129" font-size="31" text-anchor="end" fill="#000" stroke="#000" stroke-width="0.35">0</text>
<text x="116" y="1226.5" font-size="31" text-anchor="end" fill="#000" stroke="#000" stroke-width="0.35">1</text>
<text x="116" y="1292" font-size="31" text-anchor="end" fill="#000" stroke="#000" stroke-width="0.35">0.5</text>
<text x="116" y="1357" font-size="31" text-anchor="end" fill="#000" stroke="#000" stroke-width="0.35">0</text>
<text transform="translate(43.5,1055) rotate(-90)" font-size="35" text-anchor="middle" stroke="#000" stroke-width="0.35"><tspan font-style="italic">F</tspan><tspan font-size="24.5" dy="7">ST</tspan></text>
<text x="-1" y="720" font-size="44" text-anchor="start" fill="#000" stroke="#000" stroke-width="0" font-weight="bold">b</text>
<path d="M786.4,722h25M801.4,712.4l12.6,9.6l-12.6,9.6" stroke="#000" stroke-width="5.2" fill="none" stroke-linecap="round" stroke-linejoin="round"/>
<text x="835" y="733.3" font-size="34.5" text-anchor="start" fill="#000" stroke="#000" stroke-width="0.35">Photosynthesis</text>
<path d="M1089.5,721.3h25M1104.5,711.7l12.6,9.6l-12.6,9.6" stroke="#b3a40e" stroke-width="5.2" fill="none" stroke-linecap="round" stroke-linejoin="round"/>
<text x="1130.5" y="733.3" font-size="34.5" text-anchor="start" fill="#b3a40e" stroke="#b3a40e" stroke-width="0.35">Abiotic stress</text>
<path d="M1369.8,721.3h25M1384.8,711.7l12.6,9.6l-12.6,9.6" stroke="#cc44ff" stroke-width="5.2" fill="none" stroke-linecap="round" stroke-linejoin="round"/>
<text x="1413.5" y="733.3" font-size="34.5" text-anchor="start" fill="#cc44ff" stroke="#cc44ff" stroke-width="0.35">Flowering response</text>
<text x="66" y="721" font-size="25.2" text-anchor="start" fill="#b3a40e" stroke="#b3a40e" stroke-width="0.35" font-style="italic">TraesCS2A02G135000</text>
<text x="228" y="746" font-size="25.2" text-anchor="start" fill="#ff0000" stroke="#ff0000" stroke-width="0.35" font-style="italic">TaCHLH</text>
<text x="221" y="773" font-size="25.2" text-anchor="start" fill="#cc44ff" stroke="#cc44ff" stroke-width="0.35" font-style="italic">TaPPD1</text>
<text x="369" y="736" font-size="25.2" text-anchor="start" fill="#ff0000" stroke="#ff0000" stroke-width="0.35" font-style="italic">TaHY5-like</text>
<text x="383" y="762" font-size="25.2" text-anchor="start" fill="#000" stroke="#000" stroke-width="0.35" font-style="italic">TraesCS2A02G145300</text>
<path d="M312,766.5h22v9" stroke="#cc44ff" stroke-width="1.9" fill="none"/><path d="M330.5,773l3.5,4.5l3.5,-4.5" stroke="#cc44ff" stroke-width="1.9" fill="none"/>
<path d="M328,743L348,766" stroke="#000" stroke-width="2" fill="none"/>
<path d="M369,745L348,766" stroke="#ff0000" stroke-width="2" fill="none"/>
<path d="M369,756L349,768V777" stroke="#000" stroke-width="2" fill="none"/><path d="M346,773l3.5,5l3.5,-5" stroke="#000" stroke-width="1.8" fill="none"/>
<path d="M336,722L347,776" stroke="#b3a40e" stroke-width="2" fill="none"/><path d="M343.5,772l3.5,6l3,-6" stroke="#b3a40e" stroke-width="2.2" fill="none"/>
<text x="374" y="1004" font-size="25.2" text-anchor="start" fill="#ff0000" stroke="#ff0000" stroke-width="0.35" font-style="italic">TaTDP1</text>
<path d="M417.5,1013V1027M414,1022.5l3.5,4.5l3.5,-4.5" stroke="#ff0000" stroke-width="1.9" fill="none"/>
<text x="689" y="981" font-size="25.2" text-anchor="start" fill="#ff0000" stroke="#ff0000" stroke-width="0.35" font-style="italic">TaERF4</text>
<text x="785" y="981" font-size="25.2" text-anchor="start" fill="#b3a40e" stroke="#b3a40e" stroke-width="0.35" font-style="italic">Traes3B02G357900</text>
<path d="M761,986V1000" stroke="#ff0000" stroke-width="1.5" fill="none"/>
<path d="M777,987L762,993V1006M758,1001l3.7,5.5l3.7,-5.5" stroke="#b3a40e" stroke-width="1.8" fill="none"/>
<text x="1246" y="985" font-size="25.2" text-anchor="start" fill="#b3a40e" stroke="#b3a40e" stroke-width="0.35" font-style="italic">Traes6B02G366100</text>
<path d="M1463.5,991V1005M1460,1000.5l3.5,4.5l3.5,-4.5" stroke="#b3a40e" stroke-width="1.9" fill="none"/>
<text x="1497" y="985" font-size="25.2" text-anchor="start" fill="#000" stroke="#000" stroke-width="0.35" font-style="italic">Traes7B02G178700</text>
<path d="M1569,991V1005M1565.5,1000.5l3.5,4.5l3.5,-4.5" stroke="#000" stroke-width="1.9" fill="none"/>
<text x="260" y="1228" font-size="25.2" text-anchor="start" fill="#cc44ff" stroke="#cc44ff" stroke-width="0.35" font-style="italic">TaPPD1</text>
<path d="M342.5,1239V1252M339,1247.5l3.5,4.5l3.5,-4.5" stroke="#cc44ff" stroke-width="1.9" fill="none"/>
<text x="367" y="1228" font-size="25.2" text-anchor="start" fill="#ff0000" stroke="#ff0000" stroke-width="0.35" font-style="italic">TaPCO1</text>
<path d="M373,1239V1252M369.5,1247.5l3.5,4.5l3.5,-4.5" stroke="#ff0000" stroke-width="1.9" fill="none"/>
<clipPath id="cc"><rect x="112.0" y="1461.0" width="1604.5" height="521.8"/></clipPath>
<g clip-path="url(#cc)">
<rect x="112.0" y="1461.0" width="1604.5" height="521.8" fill="#aad3eb"/>
<path d="M112.0,1668.4H1716.5M112.0,1877H1716.5M356.5,1461.0V1982.8M785.7,1461.0V1982.8M1214.8,1461.0V1982.8M1644,1461.0V1982.8" stroke="#e6e6e6" stroke-width="2.6" fill="none"/>
<path d="M399.4,1407.7 399.4,1438.9 399.4,1449.4 401.1,1459.8 404.6,1470.2 413.1,1479.6 425.2,1479.6 438,1471.3 445.8,1468.1 447.5,1461.9 450.9,1470.2 453.5,1477.5 458.6,1483.8 464.6,1498.4 467.2,1505.7 468.1,1507.8 478.4,1507.8 480.1,1502.6 493,1500.5 497.3,1495.3 499,1482.7 502.4,1474.4 511.9,1467.1 518.7,1459.8 505,1452.5 504.1,1438.9 539.3,1438.9 540.2,1449.4 539.3,1453.5 549.6,1459.8 553.9,1460.8 571.1,1457.7 588.2,1454.6 601.1,1454.6 607.1,1459.8 596.8,1462.7 579.7,1465 568.5,1466.1 558.2,1468.1 558.2,1475.4 566.8,1477.5 565.1,1488 562.5,1491.1 550.5,1484.8 541,1486.9 536.7,1496.3 537.6,1504.6 528.2,1513 524.7,1518.2 516.1,1518.2 513.6,1514 498.1,1517.2 479.2,1523.4 472.4,1518.2 460.4,1521.3 450.9,1522.4 442.3,1518.2 441.5,1514 438.9,1506.7 444,1499.4 450.1,1497.3 444.9,1491.1 447.5,1483.8 438,1490 426.9,1493.2 426,1506.7 430.3,1513 432.9,1522.4 429.5,1526.6 416.6,1528.6 408,1528.6 397.7,1533.9 393.4,1543.2 386.5,1549.5 378,1552.6 370.2,1554.7 369.4,1563.1 358.2,1567.2 346.2,1570.4 342.8,1567.2 342.8,1578.7 330.8,1576.6 316.2,1580.8 319.6,1587 335,1592.3 339.3,1597.5 346.2,1605.8 346.2,1620.4 343.6,1631.9 341.1,1632.9 323.9,1631.9 306.7,1630.9 287.8,1629.8 277.5,1637.1 281,1647.5 281.8,1658 275.8,1680.9 281,1685.1 280.1,1699.7 293,1697.6 301.6,1701.8 308.4,1710.1 318.7,1702.8 337.6,1702.8 350.5,1693.4 358.2,1682 353.9,1673.6 364.2,1660.1 375.4,1653.8 384,1647.5 383.1,1642.3 382.2,1635 390.8,1631.9 399.4,1632.9 402.8,1635 413.1,1635 420,1629.8 432.9,1622.5 443.2,1626.7 446.6,1637.1 451.8,1643.4 462.1,1650.7 468.1,1654.8 478.4,1660.1 485.2,1666.3 490.4,1668.4 494.7,1678.8 491.3,1689.3 494.7,1690.3 499,1685.1 504.1,1678.8 499,1671.5 501.6,1664.2 510.1,1665.3 514.4,1670.5 515.3,1664.2 502.4,1658 493.8,1652.8 495.5,1648.6 486.1,1648.6 478.4,1642.3 472.4,1630.9 462.9,1624.6 462.1,1614.2 468.9,1608.9 474.9,1610 473.2,1616.2 476.7,1617.3 481,1613.1 485.2,1621.5 493,1630.9 506.7,1638.2 515.3,1643.4 523,1648.6 523.9,1654.8 523,1664.2 528.2,1671.5 534.2,1678.8 537.6,1686.1 542.8,1687.2 539.3,1691.3 541.9,1699.7 548.8,1704.9 554.8,1704.9 553.9,1695.5 558.2,1690.3 562.5,1692.4 562.5,1687.2 553.9,1679.9 553.1,1675.7 551.3,1665.3 553.1,1662.1 559.9,1668.4 565.9,1666.3 562.5,1661.1 571.1,1659 579.7,1660.1 581.4,1665.3 588.2,1661.1 596.8,1658 605.4,1657.4 606.3,1655.4 596.8,1649.6 596,1642.3 596,1635 602,1631.9 602,1624.6 611.4,1614.2 615.7,1605.8 620,1600.6 626.9,1599.6 631.2,1602.7 639.7,1604.8 635.4,1612.1 644,1620.4 648.3,1622.5 660.3,1616.2 670.6,1614.2 669.8,1611.6 659.5,1612.1 656.9,1604.8 659.5,1601.6 672.4,1598.5 678.4,1594.3 690.4,1593.3 693.8,1594.3 685.2,1598.5 684.4,1605.8 677.5,1612.6 672.4,1614.2 680.9,1619.4 692.1,1625.6 697.2,1630.9 708.4,1637.1 714.4,1646.5 713.6,1651.7 697.2,1658 682.7,1658 668.1,1654.8 657.8,1647.5 644,1647.5 629.4,1652.8 618.3,1655.9 607.1,1655.9 605.8,1658.5 613.1,1661.1 605.4,1664.2 592.5,1664.2 585.7,1665.3 581.4,1668.4 580.5,1673.6 587.4,1678.8 587.4,1685.1 582.2,1686.1 590,1692.4 591.7,1699.7 599.4,1701.8 606.3,1703.9 610.6,1708 618.3,1707 620,1700.7 631.2,1704.9 639.7,1709.1 648.3,1707 653.5,1701.8 662.1,1703.9 667.2,1702.8 664.6,1710.1 663.8,1715.3 664.6,1725.8 661.2,1732 657.8,1740.4 655.2,1750.8 650.9,1759.1 644.9,1761.2 633.7,1759.1 629.4,1757.1 621.7,1757.1 613.1,1760.2 601.1,1762.3 590,1758.1 572.8,1756 562.5,1751.8 554.8,1745.6 541.9,1742.5 529,1750.8 528.2,1764.4 521.3,1769.6 506.7,1763.3 499,1760.2 487,1748.7 469.8,1742.5 455.2,1740.4 449.2,1734.1 443.2,1732 449.2,1722.6 450.9,1714.3 447.5,1712.2 446.6,1705.9 451.8,1699.7 444.9,1701.8 441.5,1696.6 432,1700.7 423.4,1700.7 408,1700.7 400.3,1701.8 383.1,1701.8 365.1,1704.9 351.4,1713.2 339.3,1719.5 330.8,1717.4 322.2,1718.5 311,1711.2 305.9,1712.2 303.3,1720.5 298.1,1731 291.3,1735.2 282.7,1739.3 276.7,1746.6 272.4,1757.1 273.2,1767.5 269.8,1779 261.2,1785.2 245.8,1794.6 243.2,1802.9 232,1813.4 227.8,1829 220,1838.4 211.4,1856.1 209.7,1868.7 216.6,1874.9 214.9,1883.3 219.2,1896.8 214.9,1918.7 206.3,1932.3 212.3,1944.8 213.2,1956.3 223.5,1968.8 238.9,1986.5 243.2,1996.9 263.8,2019.9 290.4,2039.7 322.2,2030.3 338.5,2036.6 354.8,2028.2 366.8,2022 385.7,2018.8 408,2040.8 416.6,2039.7 429.5,2038.7 439.8,2044.9 440.6,2061.6 437.2,2081.4 431.2,2092.9 438,2106.5 457.8,2135.7 462.1,2148.2 469.8,2177.4 472.4,2213.9 460.4,2244.1 457.8,2266 463.8,2283.8 481,2324.4 486.1,2363 498.1,2383.9 505,2403.7 514.4,2439.2 528.2,2448.6 576.2,2440.2 596,2429.8 622.6,2397.5 634.6,2382.9 638.9,2367.2 636.3,2356.8 638.9,2349.5 652.6,2343.2 661.2,2335.9 661.2,2315.1 656,2292.1 673.2,2272.3 691.2,2260.8 699,2254.6 705.8,2242 704.1,2221.2 703.3,2195.1 698.1,2179.5 693.8,2156.5 689.5,2148.2 692.1,2138.8 697.2,2127.3 700.7,2119 708.4,2108.5 721.3,2089.8 734.2,2075.2 745.3,2064.7 764.2,2038.7 772.8,2029.3 783.9,2002.2 792.5,1986.5 795.9,1976.1 796.8,1962.5 789.9,1963.6 778.8,1967.7 759.9,1969.8 742.7,1977.1 729.9,1967.7 726.4,1964.6 728.1,1954.2 723,1950 710.1,1933.3 695.5,1922.9 687.8,1897.9 675.8,1881.2 674.1,1866.6 665.5,1845.7 661.2,1835.3 650.9,1813.4 646.6,1801.9 638.9,1785.2 635.4,1772.7 637.2,1776.9 641.5,1787.3 644.9,1791.5 650.9,1796.7 654.3,1788.3 656.5,1777.9 656,1792.5 662.9,1800.9 668.9,1812.3 676.6,1824.8 682.7,1834.2 693,1861.4 701.5,1874.9 709.3,1886.4 721.3,1909.3 724.7,1931.2 727.3,1946.9 729.9,1953.1 742.7,1952.1 759.9,1944.8 777.9,1934.4 804.5,1918.7 820.8,1908.3 832.9,1898.9 841.4,1889.5 851.7,1880.1 858.6,1872.8 869.8,1850.9 859.5,1839.5 843.2,1831.1 840.6,1823.8 840.6,1811.3 837.1,1816.5 831.1,1821.7 823.4,1830.1 808,1833.2 799.4,1832.2 799.4,1824.8 796.8,1813.4 792.5,1819.6 791.7,1825.9 787.4,1818.6 786.5,1810.2 783.1,1804 775.4,1795.6 768.5,1779 773.6,1772.7 777.1,1768.5 787.4,1772.7 792.5,1784.2 798.5,1795.6 808,1799.8 820,1807.1 827.7,1808.2 839.7,1801.9 845.7,1805 852.6,1818.6 876.6,1821.7 891.2,1823.8 901.5,1821.7 911,1822.8 926.4,1819.6 931.6,1826.9 935.9,1836.3 941.9,1839.5 944.4,1842.6 951.3,1847.8 959,1845.7 957.3,1850.9 948.7,1854.1 953.9,1860.3 960.7,1867.6 965.9,1869.7 975.3,1865.5 976.2,1858.2 978.8,1853 981.3,1865.5 981.3,1887.4 985.6,1908.3 989.9,1923.9 998.5,1951.1 1007.1,1967.7 1010.5,1981.3 1016.5,1996.9 1021.7,2001.1 1027.7,1993.8 1037.1,1988.6 1042.3,1978.2 1041.4,1961.5 1045.7,1949 1044,1934.4 1045.7,1923.9 1053.4,1916.6 1062.9,1908.3 1071.5,1901 1085.2,1884.3 1092.9,1879.1 1100.6,1873.9 1103.2,1862.4 1111.8,1860.3 1120.4,1859.3 1129,1857.2 1134.1,1852 1140.1,1849.9 1144.4,1853 1146.1,1862.4 1153.9,1876 1161.6,1884.3 1165.9,1892.6 1167.6,1905.2 1165.9,1918.7 1171.9,1920.8 1182.2,1914.5 1189.1,1908.3 1194.2,1913.5 1195.1,1926 1198.5,1939.6 1202.8,1956.3 1202.8,1981.3 1200.2,2002.2 1206.2,2007.4 1212.2,2013.6 1217.4,2029.3 1219.9,2041.8 1226.8,2054.3 1233.7,2062.7 1244.8,2072 1251.7,2071 1244.8,2057.4 1244,2046 1241.4,2030.3 1234.5,2020.9 1226,2013.6 1219.9,2010.5 1214.8,1996.9 1208.8,1989.6 1207.9,1976.1 1213.1,1962.5 1214.4,1954.2 1214.8,1945.8 1219.1,1944.8 1222.5,1951.1 1226,1953.1 1236.3,1958.4 1240.5,1967.7 1244.8,1975 1253.4,1977.1 1257.7,1983.4 1255.1,1995.9 1262,1991.7 1272.3,1978.2 1279.2,1976.1 1284.3,1971.9 1293.8,1961.5 1294.6,1951.1 1293.8,1941.7 1291.2,1927.1 1285.2,1917.7 1280,1913.5 1271.4,1903.1 1263.7,1890.6 1265.4,1879.1 1272.3,1868.7 1283.5,1861.4 1292.9,1861.4 1298.1,1861.4 1299.8,1873.9 1304.9,1873.9 1304.1,1864.5 1309.2,1861.4 1317.8,1858.2 1331.5,1854.1 1336.7,1853 1347.8,1847.8 1358.1,1842.6 1370.2,1830.1 1383,1814.4 1392.5,1793.6 1402.8,1781 1403.6,1772.7 1395,1769.6 1389,1769.6 1402.8,1763.3 1402.8,1755 1394.2,1745.6 1389,1727.9 1380.5,1722.6 1389,1709.1 1407.9,1700.7 1408.8,1695.5 1398.5,1694.5 1393.3,1691.3 1377.9,1697.6 1379.6,1691.3 1369.3,1686.1 1367.6,1678.8 1377.9,1675.7 1383,1669.4 1395.9,1660.1 1405.3,1662.1 1396.8,1680.9 1403.6,1677.8 1423.4,1669.4 1429.4,1672.6 1431.9,1682 1426.8,1688.2 1435.4,1690.3 1443.1,1694.5 1440.5,1702.8 1443.1,1710.1 1440.5,1722.6 1442.2,1727.9 1452.5,1723.7 1463.7,1719.5 1467.1,1710.1 1467.1,1699.7 1462.8,1691.3 1450.8,1676.7 1451.7,1670.5 1459.4,1665.3 1465.4,1661.1 1470.6,1649.6 1475.7,1644.4 1488.6,1636.1 1497.2,1639.2 1506.6,1631.9 1517.8,1629.8 1528.1,1616.2 1543.5,1600.6 1560.7,1574.5 1565,1548.5 1569.3,1530.7 1558.1,1522.4 1536.7,1522.4 1532.4,1522.4 1516.9,1515.1 1530.7,1506.7 1541,1491.1 1562.4,1475.4 1583.9,1467.1 1618.2,1467.1 1650.8,1464 1674,1468.1 1686.9,1468.1 1701.5,1444.2 1729.8,1442.1 1759.8,1433.7 1764.1,1449.4 1742.7,1454.6 1712.6,1477.5 1700.6,1491.1 1692,1511.9 1695.4,1538 1701.5,1554.7 1715.2,1534.9 1729.8,1517.2 1745.2,1509.9 1748.7,1499.4 1758.1,1482.7 1772.7,1459.8 1815.6,1407.7ZM307.6,1564.1 326.5,1561 339.3,1557.8 359.1,1555.8 368.5,1551.6 363.4,1548.5 371.1,1537 359.9,1533.9 357.4,1527.6 354.8,1519.3 343.6,1511.9 339.3,1502.6 329,1501.5 339.3,1484.8 322.2,1484.8 329.9,1474.4 313.6,1474.4 306.7,1485.9 308.4,1496.3 303.3,1498.4 309.3,1508.8 315.3,1505.7 313.6,1515.1 327.3,1513 330.8,1524.5 329.9,1529.7 318.7,1529.7 317,1534.9 321.3,1539.1 311.9,1544.3 329,1549.5 330.8,1551.6 319.6,1552.6 307.6,1564.1ZM305,1541.2 304.1,1529.7 309.3,1517.2 303.3,1509.9 293.8,1508.8 284.4,1515.1 270.7,1520.3 279.3,1529.7 268.1,1542.2 273.2,1548.5 287.8,1545.3 305,1541.2ZM451.8,1504.6 464.6,1500.5 463.8,1508.8 459.5,1515.1 451.8,1514 451.8,1509.9 442.3,1511.9 440.6,1506.7 448.3,1505.7ZM511.9,1491.1 519.6,1481.7 517.9,1488ZM430.3,1647.5 437.2,1637.1 438,1647.5 435.5,1653.8 430.3,1647.5ZM426.9,1659 435.5,1655.9 440.6,1663.2 438.9,1676.7 433.7,1678.8 428.6,1678.8 428.6,1668.4ZM462.9,1691.3 470.7,1687.2 490.4,1686.1 486.1,1696.6 486.1,1702.8 479.2,1699.7 462.9,1691.3ZM558.2,1717.4 566.8,1716.4 582.2,1718.5 581.4,1720.5 568.5,1721.6 558.2,1717.4ZM633.7,1720.5 639.7,1716.4 653.5,1713.2 648.3,1720.5 639.7,1724.7 633.7,1720.5ZM377.1,1672.6 383.1,1668.9 385.7,1671.5 382.2,1675.7 377.1,1672.6ZM555.6,1679.9 567.6,1689.3 564.2,1683ZM594.2,1708 598.5,1705.9 596.8,1711.2ZM578.8,1676.7 584.8,1675.7 583.1,1678.8ZM1042.3,1984.4 1050,1989.6 1058.6,2007.4 1056.9,2017.8 1048.3,2024.1 1043.1,2020.9 1041.4,2007.4 1042.3,1984.4ZM779.6,2210.8 789.1,2244.1 783.9,2262.9 777.1,2289 767.6,2325.5 759.9,2346.3 744.5,2352.6 731.6,2335.9 728.1,2315.1 736.7,2294.2 734.2,2268.1 742.7,2252.5 759.9,2244.1 768.5,2229.5 779.6,2210.8ZM814.8,1954.2 824.3,1954.2 820,1957.3ZM1289.5,1885.3 1296.3,1877 1306.6,1877 1309.2,1881.2 1303.2,1891.6 1296.3,1895.8 1289.5,1891.6ZM1399.3,1821.7 1403.6,1824.8 1399.3,1840.5 1394.2,1856.1 1387.3,1845.7 1388.2,1837.4 1395,1824.8ZM1480,1732 1486.9,1735.2 1488.6,1743.5 1484.3,1758.1 1478.3,1762.3 1474,1759.1 1474.9,1746.6 1469.7,1741.4 1472.3,1736.2ZM1493.7,1731 1506.6,1726.8 1512.6,1733.1 1508.3,1738.3 1498,1743.5 1492.9,1736.2ZM1480,1731 1480.9,1726.8 1493.7,1716.4 1506.6,1714.3 1523.8,1713.2 1529.8,1702.8 1534.9,1694.5 1532.4,1700.7 1545.2,1695.5 1553.8,1684 1558.1,1671.5 1558.1,1662.1 1560.7,1655.9 1566.7,1652.8 1571,1663.2 1575.3,1673.6 1571,1686.1 1566.7,1694.5 1565.8,1704.9 1565,1713.2 1558.1,1720.5 1556.4,1714.3 1554.7,1718.5 1547.8,1720.5 1542.7,1724.7 1532.4,1724.7 1531.5,1720.5 1528.1,1725.8 1523.8,1736.2 1516.9,1733.1 1516.9,1724.7 1506.6,1723.7 1493.7,1727.9 1485.2,1731 1480,1731ZM1558.1,1652.8 1560.7,1645.5 1557.3,1639.2 1562.4,1634 1569.3,1634 1572.7,1621.5 1572.7,1612.1 1579.6,1616.2 1590.7,1624.6 1603.6,1623.6 1605.3,1634 1592.5,1638.2 1586.4,1647.5 1575.3,1641.3 1566.7,1642.3 1562.4,1644.4 1567.6,1649.6 1558.1,1652.8ZM1575.3,1519.3 1583,1522.4 1586.4,1538 1585.6,1553.7 1592.5,1569.3 1583.9,1572.4 1581.3,1585 1588.2,1597.5 1587.3,1604.8 1580.4,1598.5 1575.3,1605.8 1574.4,1590.2 1577,1574.5 1573.6,1553.7 1571.9,1538 1573.6,1527.6 1575.3,1519.3ZM1391.6,1892.6 1405.3,1892.6 1407.1,1908.3 1400.2,1920.8 1401.9,1937.5 1412.2,1939.6 1420.8,1950 1421.7,1954.2 1414.8,1950 1407.9,1944.8 1399.3,1942.7 1392.5,1940.6 1391.6,1934.4 1385.6,1920.8 1389,1913.5 1389.9,1903.1ZM1389.9,1944.8 1396.8,1945.8 1399.3,1954.2 1395.9,1958.4 1391.6,1952.1ZM1362.4,1998 1373.6,1985.5 1382.2,1973 1383.9,1966.7 1379.6,1976.1 1369.3,1991.7ZM1403.6,1961.5 1413.1,1965.7 1408.8,1976.1 1403.6,1976.1ZM1412.2,1971.9 1416.5,1976.1 1413.9,1989.6 1407.9,1983.4ZM1418.2,1968.8 1420.8,1973 1415.6,1986.5ZM1423.4,1955.2 1431.9,1955.2 1435.4,1968.8 1429.4,1979.2 1427.7,1971.9 1425.1,1964.6ZM1423.4,1966.7 1429.4,1970.9 1431.1,1980.3 1427.7,1980.3ZM1432.8,1983.4 1439.7,1988.6 1442.2,2007.4 1438.8,2017.8 1432.8,2023 1429.4,2024.1 1422.5,2019.9 1420.8,2009.5 1415.6,2007.4 1405.3,2013.6 1403.6,2007.4 1410.5,2000.1 1417.4,1995.9 1426.8,1995.9 1432.8,1983.4ZM1292,2066.8 1300.6,2067.9 1311.8,2059.5 1326.4,2052.2 1335,2037.6 1347.8,2033.4 1358.1,2013.6 1366.7,2019.9 1379.6,2031.4 1369.3,2041.8 1365.9,2054.3 1369.3,2062.7 1377.9,2075.2 1367.6,2078.3 1365,2092.9 1356.4,2101.2 1354.7,2116.9 1352.1,2127.3 1341,2128.4 1326.4,2120 1316.1,2122.1 1302.3,2115.8 1300.6,2101.2 1293.8,2090.8 1292,2077.3ZM1174.5,2027.2 1193.3,2031.4 1203.6,2046 1218.2,2062.7 1227.7,2067.9 1240.5,2079.3 1247.4,2095 1253.4,2104.4 1266.3,2115.8 1265.4,2130.4 1264.6,2146.1 1254.3,2146.1 1247.4,2137.8 1234.5,2127.3 1226,2112.7 1218.2,2096 1210.5,2082.5 1203.6,2067.9 1195.1,2059.5 1184.8,2047 1175.3,2035.5ZM1259.4,2155.5 1267.2,2147.1 1274.9,2147.1 1287.8,2154.4 1304.9,2156.5 1309.2,2152.4 1323.8,2157.6 1339.3,2165.9 1338.4,2176.3 1323.8,2173.2 1300.6,2169 1283.5,2167 1270.6,2162.8 1259.4,2155.5ZM1339.3,2170.1 1349.6,2172.2 1345.3,2177.4ZM1351.3,2172.2 1358.1,2173.2 1353.8,2178.4ZM1359,2173.2 1371,2172.2 1378.7,2173.2 1376.2,2177.4 1360.7,2179.5ZM1385.6,2173.2 1399.3,2174.3 1412.2,2172.2 1410.5,2176.3 1390.8,2178.4ZM1377.9,2184.7 1388.2,2184.7 1393.3,2190.9 1386.5,2193ZM1416.5,2193 1425.1,2181.6 1438,2174.3 1449.1,2173.2 1442.2,2180.5 1429.4,2187.8 1420.8,2193ZM1384.7,2077.3 1394.2,2072 1412.2,2076.2 1429.4,2068.9 1423.4,2081.4 1412.2,2080.4 1395,2081.4 1387.3,2093.9 1397.6,2095 1414.8,2093.9 1410.5,2102.3 1401.9,2105.4 1407.9,2119 1413.9,2132.5 1408.8,2141.9 1402.8,2133.6 1395,2114.8 1389.9,2125.2 1389.9,2143 1382.2,2143 1382.2,2122.1 1376.2,2113.8 1380.5,2098.1 1384.7,2085.6ZM1450.8,2066.8 1455.1,2062.7 1461.1,2070 1455.1,2081.4 1458.6,2091.9 1453.4,2083.5 1451.7,2075.2ZM1455.1,2117.9 1468,2114.8 1479.2,2121.1 1468,2121.1 1455.1,2121.1ZM1438.8,2119 1448.3,2120 1444.8,2125.2 1438.8,2122.1ZM1480,2093.9 1492.9,2089.8 1506.6,2093.9 1508.3,2110.6 1515.2,2120 1523.8,2108.5 1539.2,2101.2 1553.8,2108.5 1566.7,2112.7 1583.9,2121.1 1596.7,2126.3 1607.9,2137.8 1618.2,2148.2 1625.1,2158.6 1635.4,2179.5 1648.2,2195.1 1635.4,2193 1619.9,2184.7 1609.6,2170.1 1596.7,2164.9 1586.4,2174.3 1579.6,2181.6 1566.7,2180.5 1553.8,2170.1 1541,2173.2 1547.8,2158.6 1541,2143 1523.8,2132.5 1506.6,2126.3 1498,2127.3 1495.5,2114.8 1504.9,2109.6 1489.5,2107.5 1480.9,2099.2ZM1629.4,2144 1644,2137.8 1656.8,2129.4 1663.7,2130.4 1661.1,2140.9 1648.2,2150.3 1635.4,2150.3ZM1332.4,2356.8 1330.7,2335.9 1333.2,2320.3 1336.7,2313 1347.8,2304.6 1360.7,2300.5 1377.9,2294.2 1395,2290 1405.3,2275.4 1405.3,2262.9 1417.4,2266 1417.4,2254.6 1425.1,2255.6 1431.1,2242 1444.8,2231.6 1455.1,2240 1468,2241 1468.9,2226.4 1476.6,2216 1480.9,2212.8 1493.7,2211.8 1494.6,2204.5 1515.2,2212.8 1530.7,2212.8 1528.1,2224.3 1522.1,2233.7 1519.5,2242 1532.4,2252.5 1549.5,2266 1562.4,2269.2 1569.3,2257.7 1571.9,2231.6 1572.7,2216 1577.9,2199.3 1585.6,2210.8 1589,2233.7 1603.6,2242 1605.3,2257.7 1611.3,2281.7 1626.8,2294.2 1637.9,2309.8 1649.1,2321.3 1654.2,2333.8 1669.7,2351.6 1672.3,2372.4 1674.8,2388.1 1674.8,2419.4 1326.4,2419.4ZM-845.1,1459.8 -785,1501.5 -759.3,1517.2 -742.1,1553.7 -716.4,1574.5 -713.8,1580.8 -707.8,1603.7 -711.2,1637.1 -709.5,1664.2 -699.2,1686.1 -694.9,1693.4 -689.8,1703.9 -678.6,1724.7 -666.6,1728.9 -659.7,1733.1 -649.4,1744.5 -644.3,1753.9 -637.4,1772.7 -623.7,1793.6 -631.4,1795.6 -617.7,1807.1 -607.4,1819.6 -604.8,1829 -592.8,1841.5 -586.8,1846.8 -583.3,1841.5 -590.2,1833.2 -598.8,1814.4 -607.4,1800.9 -617.7,1783.1 -628.8,1762.3 -628.8,1753.9 -617.7,1759.1 -606.5,1783.1 -595.4,1794.6 -582.5,1807.1 -582.5,1818.6 -570.5,1830.1 -556.7,1843.6 -549,1856.1 -547.3,1861.4 -547.3,1870.7 -550.7,1872.8 -538.7,1887.4 -520.7,1898.9 -500.9,1910.4 -476.9,1919.8 -460.6,1916.6 -448.6,1920.8 -435.7,1934.4 -424.6,1940.6 -407.4,1946.9 -396.2,1950 -390.2,1960.4 -381.6,1970.9 -362.8,1970.9 -360.2,1955.2 -359.3,1939.6 -357.6,1929.1 -364.5,1920.8 -373.1,1919.8 -394.5,1920.8 -403.1,1920.8 -406.5,1918.7 -401.4,1908.3 -399.7,1893.7 -396.2,1892.6 -393.7,1874.9 -388.5,1864.5 -398.8,1860.3 -418.5,1864.5 -420.3,1879.1 -431.4,1891.6 -453.7,1895.8 -468.3,1885.3 -478.6,1866.6 -482.9,1853 -482.1,1835.3 -477.8,1815.5 -477.8,1795.6 -467.5,1787.3 -457.2,1780 -448.6,1775.8 -433.1,1776.9 -420.3,1782.1 -410,1783.1 -412.5,1770.6 -398.8,1769.6 -391.9,1768.5 -377.3,1772.7 -373.1,1775.8 -364.5,1771.7 -355.9,1783.1 -353.3,1795.6 -347.3,1809.2 -339.6,1823.8 -333.6,1822.8 -331,1816.5 -330.1,1807.1 -334.4,1788.3 -342.2,1769.6 -338.7,1751.8 -329.3,1743.5 -313,1732 -300.1,1723.7 -291.5,1718.5 -295.8,1700.7 -298.4,1689.3 -288.1,1684 -286.4,1679.9 -278.6,1664.2 -261.5,1658 -244.3,1650.7 -244.3,1647.5 -252.9,1643.4 -246,1630.9 -231.4,1623.6 -218.6,1618.3 -210,1613.1 -197.1,1607.9 -210.8,1628.8 -206.5,1631.9 -189.4,1620.4 -167.1,1613.1 -158.5,1605.8 -161.9,1595.4 -171.4,1608.9 -184.2,1607.9 -192.8,1603.7 -201.4,1594.3 -197.1,1586 -214.3,1585 -195.4,1576.6 -210,1572.4 -231.4,1579.7 -246,1592.3 -254.6,1597.5 -247.7,1590.2 -241.7,1583.9 -228.9,1572.4 -213.4,1562 -184.2,1561 -158.5,1561 -145.6,1550.5 -124.1,1543.2 -121.6,1532.8 -132.7,1522.4 -141.3,1514 -154.2,1508.8 -162.8,1501.5 -167.1,1459.8ZM-152.5,1589.1 -141.3,1579.7 -144.7,1569.3 -132.7,1556.8 -119.9,1547.4 -124.1,1564.1 -115.6,1569.3 -102.7,1572.4 -98.4,1579.7 -95.8,1590.2 -100.1,1599.6 -107,1596.4 -119.9,1596.4 -124.1,1590.2 -152.5,1589.1ZM-197.1,1565.1 -179.9,1568.3 -173.1,1573.5 -188.5,1571.4ZM-196.2,1598.5 -184.2,1601.6 -175.6,1601.6 -182.5,1605.8 -192.8,1601.6ZM-372.2,1857.2 -364.5,1848.8 -355.9,1845.7 -350.7,1844.1 -343,1844.7 -330.1,1845.7 -321.6,1852 -308.7,1858.2 -293.2,1865.5 -282.9,1872.8 -279.5,1874.9 -288.9,1878 -294.1,1877.5 -310.4,1878.6 -305.2,1872.8 -313,1869.7 -317.3,1863.4 -329.3,1859.3 -334.4,1856.1 -343,1855.1 -354.2,1852 -363.6,1856.1 -372.2,1857.2ZM-282.1,1891.6 -274.4,1895.8 -265.8,1895.8 -258.9,1899.9 -252.9,1894.7 -243.5,1892.6 -230.6,1894.7 -237.4,1884.3 -250.3,1879.1 -259.8,1880.1 -263.2,1879.1 -273.5,1879.1 -267.5,1883.3 -264.9,1891.6 -282.1,1891.6ZM-315.5,1894.7 -304.4,1893.7 -297.5,1897.9 -306.1,1901 -315.5,1895.8ZM-220.3,1893.7 -206.5,1893.7 -207.4,1897.9 -220.3,1897.9ZM-314.7,1823.8 -310.4,1830.1 -312.1,1836.3 -315.5,1830.1ZM211.4,1789.4 218.3,1788.3 214.9,1793.6ZM220.9,1792.5 224.3,1792.5 223.5,1795.6ZM233.8,1787.3 238.1,1786.3 236.3,1792.5ZM238.1,1781 241.5,1781 240.6,1784.2ZM781.4,1600.6 768.5,1605.8 759.9,1618.3 764.2,1637.1 772.8,1647.5 781.4,1661.1 781.4,1666.3 788.2,1665.3 779.6,1675.7 776.2,1684 781.4,1694.5 794.2,1701.8 811.4,1700.7 820,1695.5 818.3,1678.8 811.4,1668.4 811.4,1660.1 824.3,1658 826,1649.6 815.7,1647.5 807.1,1652.8 806.2,1641.3 795.9,1631.9 788.2,1622.5 795.9,1620.4 813.1,1613.1 811.4,1597.5 798.5,1594.3ZM-352.5,1501.5 -349.9,1532.8 -338.7,1544.3 -331.9,1551.6 -324.1,1554.7 -319.8,1548.5 -321.6,1538 -318.1,1527.6 -324.1,1517.2 -317.3,1501.5Z" fill="#fff" stroke="#aad3eb" stroke-width="2.2" stroke-linejoin="round" fill-rule="evenodd"/>
<path d="M-701.8,1574.5 -460.2,1574.5 -460.2,1570.4 -455.5,1577.7 -441.7,1578.7 -428.8,1583.9 -411.7,1585 -402.2,1581.8 -372.2,1596.4 -368.8,1600.6 -361,1604.8 -351.6,1613.1 -348.2,1630.9 -351.6,1641.3 -356.7,1646.5 -350.7,1650.7 -338.7,1645.5 -321.6,1639.2 -322.4,1634 -319,1630.9 -302.7,1630.9 -299.2,1625.6 -289.8,1618.3 -284.7,1616.2 -257.2,1616.2 -251.2,1612.1 -246.9,1603.7 -244.3,1598.5 -237.4,1590.7 -234.9,1593.3 -225.4,1594.3 -225.4,1608.9 -222,1613.1 -218.6,1618.3M-648.6,1746.6 -628,1744.5 -628.8,1746.6 -597.1,1759.1 -572.2,1759.1 -572.2,1753.9 -557.6,1753.9 -544.7,1766.4 -539.6,1776.9 -529.3,1783.1 -522.4,1774.8 -513.8,1774.8 -506.1,1786.3 -497.5,1798.8 -494.1,1810.2 -480.3,1815.5 -477.8,1815.5M-434.9,1934.4 -430.6,1918.7 -419.4,1917.7 -424.6,1905.7 -424.6,1899.9 -408.7,1899.9 -401.4,1892.6M-408.7,1899.9 -409.1,1919.8 -406.5,1919.8M-400.5,1921.8 -409.1,1935.4 -416.8,1942.2M-410,1935.4 -403.1,1940.6 -396.2,1941.7 -397.1,1946.9M-392.8,1950 -387.6,1941.7 -379.1,1939.6 -371.3,1931.2 -357.6,1929.1M337.6,1719.5 341.1,1725.8 341.9,1741.4 346.2,1749.8 331.6,1750.8 325.6,1756 324.7,1763.3 313.6,1772.7 307.6,1776.9 295.6,1777.9 282.1,1786.3 282.1,1800.9 282.1,1814.4 253.5,1814.4 253.5,1841 244.9,1845.7 244.9,1863.1 211,1863.1M282.1,1797 243.2,1797M282.1,1800.9 315,1824.8 366.4,1865.5 371.9,1873.9 384,1880.1 384.8,1887.6 393,1885.9 405.9,1882.7 420.4,1868.1 459.2,1840.5M315,1824.8 300.7,1824.8 305.9,1866.6 309.3,1913.5 310.6,1923.9 276.7,1923.9 264.7,1925 257.8,1922.9 251.8,1931.2M214.9,1918.7 232,1912.5 244.9,1923.9 251.8,1931.2 258.7,1956.3 258.7,1960.4M213.2,1956.3 227.8,1954.2 238.9,1954.2 258.7,1956.3M212.3,1944.8 227.8,1941.7 238.1,1945.8 227.8,1947.9 212.3,1949M227.8,1971.9 238.9,1963.6 238.9,1954.2M258.7,1960.4 279.3,1956.3 285.3,1970.9 287.8,1979.2 303.3,1976.1 309.3,1977.1 311.9,1962.5 318.7,1953.1 329,1942.7 339.3,1937.5 350.5,1928.1 358.2,1929.1 367.7,1926 386.5,1925 392.5,1910.4 393,1885.9M309.3,1977.1 317.9,1984.4 332.5,1985.5 332.5,1970.9 352.2,1970.9 356.5,1969.8 364.2,1970.9 377.1,1960.4 364.2,1943.8 358.2,1929.1M364.2,1970.9 370.2,1991.7M377.1,1960.4 387.4,1963.6 390.8,1944.8 416.6,1950 433.7,1952.1 442.3,1946.9 463.8,1947.9 473.2,1942.7 477.5,1949 481,1955.2 478.4,1968.8 469.8,1981.3 466.4,1994.9M387.4,1963.6 388.3,1981.3 379.7,2002.2M481,1955.2 485.2,1970.9 489.5,1981.3 476.7,1982.3M473.2,1942.7 472.4,1934.4 489.5,1909.3 493,1897.9 489.5,1877 486.1,1863.4 485.2,1845.7M459.2,1840.5 478.4,1849.9 485.2,1845.7 562.5,1882.2 562.5,1921.8 553.1,1923.9 549.6,1937.5 545.3,1950 553.1,1970.9 558.2,1981.3M562.5,1882.2 562.5,1877 571.1,1877 571.1,1856.1 571.1,1781 568.5,1770.6 572.4,1755.5M571.1,1856.1 626,1856.1 673.2,1856.1M455.2,1740.4 455.2,1746.6 444.9,1755 443.2,1767.5 438,1770.6 441.5,1793.6 441.5,1809.2 437.2,1812.3 442.3,1826.9 459.2,1840.5M430.3,1700.7 427.7,1715.3 426.9,1724.7 420.9,1729.9 421.7,1738.3 427.7,1746.6 433.7,1750.8 438,1770.6M687.8,1897.9 674.1,1908.3 669.8,1929.1 668.9,1935.4 666.3,1953.1 657.8,1962.5 656,1973 650.9,1976.1 649.2,1986.5 648.3,1996.9 639.7,2003.2 652.6,2015.7 664.6,2037.6 648.3,2041.8 639.7,2044.9 622.6,2047 620.9,2049.1 625.1,2062.7 614,2077.3 610.6,2090.8 610.6,2100.2 605.4,2113.8 608.8,2131.5 610.6,2148.2 618.3,2171.1 622.6,2175.3 638.9,2183.6 648.3,2184.7 642.3,2198.2 641.5,2216 637.2,2227.4 641.5,2231.6 615.7,2242 617.4,2248.3 604.5,2252.5 588.2,2272.3 573.6,2271.3M668.9,1935.4 681.8,1930.2 691.2,1933.3 706.7,1938.5 720.4,1955.2 726.4,1953.1M720.4,1955.2 715.3,1970.9 723.9,1971.9 728.1,1965.7M723.9,1971.9 730.7,1987.6 742.7,1994.9 759.9,2002.2 768.5,2002.2 742.7,2033.4 725.6,2037.6 717,2042.8 708.4,2044.9 695.5,2050.1 682.7,2048.1 673.2,2039.7 664.6,2037.6M708.4,2044.9 708.4,2085.6 708.4,2095 713.6,2103.3M693,2134.6 679.2,2116.9 648.3,2096 647.5,2084.6 652.6,2074.1 656.9,2065.8 652.6,2052.2 648.3,2041.8M648.3,2096 618.3,2096 610.6,2100.2M618.3,2096 620.9,2110.6 618.3,2120 617.4,2131.5 608.8,2131.5M605.4,2113.8 618.3,2110.6M703.3,2195.1 682.7,2203.5 669.8,2207.6 656.9,2206.6 653.5,2205.5 656,2226.4 663.8,2237.9 664.6,2252.5 659.5,2264 653.5,2245.2 651.8,2235.8 641.5,2231.6M648.3,2184.7 653.5,2205.5M617.4,2248.3 625.1,2252.5 638.9,2259.8 639.7,2273.3 637.2,2283.8 639.7,2292.1 635.4,2307.8 625.1,2319.2 631.2,2341.1 630.3,2354.7 632,2365.1 638.9,2366.2M625.1,2319.2 608.8,2317.1 596.8,2310.9 594.2,2299.4 581.4,2291.1 573.6,2271.3M630.3,2354.7 622.6,2356.8 620.9,2365.1 625.1,2370.3 632,2365.1M602.8,2383.9 608.8,2392.2 600.3,2400.6 588.2,2394.3 602.8,2383.9M558.2,1981.3 566.8,1993.8 572.8,2007.4 583.9,2023 591.7,2033.4 600.3,2040.8 609.7,2038.7 620.9,2049.1M558.2,1981.3 571.1,1978.2 583.9,1986.5 596.8,1988.6 609.7,1981.3 618.3,1983.4 622.6,1983.4 633.7,1960.4 639.7,1958.4 641.5,1973 649.2,1986.5M281,1648.6 286.1,1646.5 299.9,1648.6 303.3,1651.7 297.3,1658 296.4,1671.5 292.1,1672.6 296.4,1687.2 293,1697.6M341.1,1632.9 362.5,1640.2 371.1,1642.3 383.1,1642.3M420.9,1628.8 416.6,1624.6 415.7,1615.2 416.6,1606.9 408.9,1603.7 408.9,1599.6 416.6,1591.2 421.7,1589.1 421.7,1583.9 426.9,1574.5 411.4,1569.3 406.3,1569.3 397.7,1564.1 392.5,1564.1 378,1552.6M385.7,1549.5 393.4,1549.5 399.4,1548.5 407.1,1553.7 408,1555.8 409.7,1548.5 414.9,1544.3 416.6,1540.1 418.3,1529.7M408,1555.8 411.4,1561 408.9,1563.1 411.4,1569.3M430.3,1513 441.5,1514M479.2,1523.4 480.1,1532.8 481.8,1537 482.7,1542.2 485.2,1553.7 483.5,1554.7 468.1,1559.9 460.4,1561 463.8,1567.2 474.9,1576.6 466.4,1582.9 468.1,1590.2 461.2,1589.1 446.6,1591.2 438.9,1590.2 430.3,1588.1 421.7,1589.1M416.6,1606.9 425.2,1605.8 429.5,1602.7 433.7,1607.9 438,1601.6 445.8,1599.6 450.9,1597.5 461.2,1595.4 462.9,1598.5 474.1,1600.6 471.5,1605.8 474.9,1610M438.9,1590.2 438,1594.3 445.8,1599.6M474.1,1600.6 485.2,1599.6 493.8,1597.5 494.7,1596.4 498.1,1590.2 503.3,1585 501.6,1577.7 485.2,1574.5 474.9,1576.6M483.5,1554.7 493.8,1557.8 501.6,1559.9 508.4,1561 517.9,1569.3 528.2,1572.4 536.7,1570.4 550.5,1573.5 553.9,1564.1 562.5,1558.9 559.1,1548.5 559.1,1543.2 561.6,1535.9 558.2,1523.4 558.2,1522.4M517.9,1569.3 511,1574.5 502.4,1578.7 501.6,1577.7M503.3,1585 517.9,1587 528.2,1582.9 541,1579.7 546.2,1580.8 550.5,1573.5M524.7,1518.2 552.2,1518.2 558.2,1522.4 575.4,1519.3 577.9,1513 586.5,1508.8 584.8,1504.6 598.5,1500.5 621.7,1505.7 620.9,1514 629.4,1521.3 637.2,1528.6 625.1,1531.8 629.4,1542.2M552.2,1518.2 551.3,1511.9 539.3,1508.8M537.2,1500.8 545.3,1497.3 570.2,1497.3 584.8,1504.6M598.5,1500.5 594.2,1488 591.7,1485.9 591.7,1473.4 596.8,1465M565.1,1481.7 576.2,1480.7 591.7,1485.9M559.1,1548.5 571.1,1544.3 588.2,1547.4 607.1,1547.4 619.1,1550.5 629.4,1542.2 646.6,1539.1 662.1,1559.9 682.7,1565.1 700.7,1568.3 697.2,1585 684.4,1594.3M546.2,1580.8 553.1,1585 570.2,1588.1 584.8,1581.8 598.5,1582.9 607.1,1586 614,1600.6 604.5,1605.8 598.5,1611 611.4,1614.2M584.8,1581.8 592.5,1590.2 597.7,1597.5 598.5,1611M553.1,1585 545.3,1590.2 538.5,1601.6 530.7,1603.7 519.6,1606.9 517.9,1606.9 506.7,1606.9 498.1,1600.6 494.7,1596.4M530.7,1603.7 536.7,1613.1 541,1618.3 549.6,1619.4 551.3,1624.6 553.9,1628.8 575.4,1630.9 588.2,1625.6 602,1629.8M551.3,1624.6 548.8,1637.1 553.1,1647.5 553.1,1654.8 566.8,1652.8 579.7,1654.8 583.1,1650.7 592.5,1647.5 596.8,1647.5M583.1,1650.7 584.8,1654.8 582.2,1659 579.7,1660.1M528.2,1671.5 535,1664.2 536.7,1659 553.1,1654.8M523,1648.6 528.2,1642.3 533.3,1648.6 532.5,1655.9 536.7,1659M528.2,1642.3 530.7,1639.2 521.3,1631.9 523.9,1624.6 519.6,1617.3 519.6,1606.9M515.3,1643.4 516.1,1637.1 507.6,1637.1 495.5,1624.6 492.1,1614.2 502.4,1614.2 511,1615.2 519.6,1617.3M473.2,1611 487.8,1611 491.3,1603.7 498.1,1600.6M533.3,1648.6 541,1644.4 548.8,1644.4M530.7,1639.2 541,1644.4M665.5,1710.1 670.6,1708 671.5,1701.8 682.7,1701.8 699.8,1701.8 720.4,1698.6 741,1697.6 734.2,1684 737.6,1674.7 741,1671.5 731.6,1667.4 729.9,1656.9 721.3,1652.8 712.7,1652.8M699.8,1632.9 717,1635 732.4,1641.3 742.7,1640.2 754.8,1648.6 762.5,1654.8 773.6,1649.6M729.9,1656.9 742.7,1654.8 754.8,1648.6M742.7,1654.8 747.9,1660.1 751.3,1666.3 755.6,1673.6 755.6,1679.9M741,1671.5 755.6,1679.9 768.5,1671.5 776.2,1685.1M819.1,1696.6 828.6,1690.3 845.7,1687.2 862.9,1694.5 881.8,1703.9 881.8,1714.3 876.6,1725.8 875.8,1741.4 879.2,1757.1 886.9,1762.3 886.1,1772.7 879.2,1774.8 892.9,1779 899.8,1801.9 895.5,1808.2 885.2,1822.8M741,1697.6 746.2,1710.1 751.3,1718.5 746.2,1731 753,1741.4 765.9,1751.8 765.9,1762.3 773.6,1772.7M720.4,1698.6 710.1,1710.1 708.4,1726.8 689.5,1737.2 693,1749.8 703.3,1752.9 717.8,1761.2 740.2,1781 754.8,1782.1 756.5,1782.1 763.3,1772.7 768.5,1772.7M756.5,1782.1 764.2,1788.3 771.9,1788.3M689.5,1737.2 672.4,1748.7 662.9,1744.5 662.1,1739.3 665.5,1736.2 669.8,1727.9 664.6,1724.7M662.1,1739.3 657.8,1740.4M662.9,1744.5 661.2,1757.1 656.9,1777.9M650.9,1759.1 656,1777.9M656.9,1779 665.5,1781 672.4,1773.7 678.4,1772.7 682.7,1767.5 674.1,1757.1 691.2,1751.8 693,1749.8M723.9,1914.5 728.1,1903.1 738.4,1904.1 757.3,1906.2 764.2,1908.3 770.2,1895.8 777.9,1891.6 802.8,1887.4 828.6,1877 834.6,1856.1 830.3,1848.8 808,1846.8 799.4,1834.2 799.4,1832.2M802.8,1887.4 812.3,1912.5M830.3,1848.8 835.4,1835.3 837.1,1825.9 840.6,1825.9M792.5,1828 795.9,1829M777.1,1602.7 772.8,1590.2 759.9,1585 755.6,1579.7 759.9,1572.4 764.2,1559.9 774.5,1565.1 776.2,1557.8 792.5,1546.4 807.1,1548.5 824.3,1553.7 834.6,1557.8 850,1553.7 859.5,1553.7 868,1557.8 883.5,1555.8 886.1,1550.5 871.5,1543.2 880.1,1540.1 877.5,1532.8 881.8,1526.6 880.1,1522.4 897.2,1520.3 914.4,1518.2 940.1,1511.9 948.7,1507.8 964.2,1508.8 965.9,1521.3 983.1,1522.4 987.4,1527.6 995.9,1525.5 1013.1,1520.3 1015.7,1523.4 1025.1,1529.7 1043.1,1555.8 1056,1555.8 1073.2,1553.7 1088.6,1568.3 1101.5,1566.2 1105.8,1573.5M1105.8,1573.5 1092.9,1580.8 1090.3,1594.3 1068.9,1593.3 1062.9,1611 1059.4,1616.2 1044,1616.2 1050,1635 1044.9,1639.2 1044.9,1645.5 1026,1658 1016.5,1658 1008.8,1664.2 998.5,1663.2 989.1,1673.6 999.4,1684 998.5,1696.6 999.4,1697.6 1007.1,1701.8 1015.7,1714.3 1024.3,1715.3 1032.8,1725.8 1034.6,1741.4 1030.3,1746.6 1032.8,1759.1 1038.8,1762.3 1051.7,1770.6 1060.3,1769.6 1077.5,1781 1090.3,1790.4 1098.9,1793.6 1112.7,1794.6 1118.7,1793.6 1127.3,1791.5 1137.6,1793.6 1146.1,1796.7 1159,1788.3 1171.9,1781 1182.2,1780 1191.6,1790.4 1198.5,1798.8 1203.6,1814.4 1194.2,1826.9 1195.9,1835.3 1204.5,1834.2 1206.2,1856.1 1214.8,1859.3 1225.1,1864.5 1232.8,1852 1244.8,1848.8 1260.3,1842.6 1272.3,1846.8 1272.3,1856.1 1283.5,1861.4M999.4,1697.6 991.6,1700.7 971,1705.9 966.8,1726.8 957.3,1739.3 951.3,1752.9 926.4,1763.3 925.6,1773.7 905.8,1777.9 892.9,1779M999.4,1697.6 985.6,1695.5 971,1702.8 970.2,1689.3 959,1693.4 948.7,1697.6 938.4,1697.6 927.3,1695.5 919.5,1696.6 912.7,1700.7 897.2,1712.2 881.8,1714.3M927.3,1695.5 928.1,1689.3 905.8,1678.8 892.9,1668.4 887.8,1656.9 872.3,1653.8 871.5,1645.5 859.5,1639.2 845.7,1654.8 837.1,1654.8 837.1,1616.2 859.5,1610 880.1,1623.6 888.6,1631.9 913.5,1629.8 923.8,1637.1 923,1647.5 939.3,1655.9 941,1660.1 948.7,1654.8 961.6,1646.5 965.9,1644.4 987.4,1638.2 995.9,1635 1007.1,1638.2 1036.3,1639.2 1044.9,1645.5M837.1,1654.8 820,1644.4 811.4,1646.5 806.2,1649.6M965.9,1644.4 959,1652.8 971.9,1652.8 983.9,1660.1 974.5,1666.3 961.6,1665.3 951.3,1673.6 961.6,1673.6 989.1,1673.6M938.4,1697.6 940.1,1684 944.4,1673.6 951.3,1673.6 957.3,1666.3 961.6,1665.3M1105.8,1573.5 1111.8,1569.3 1126.4,1566.2 1146.1,1555.8 1168.5,1564.1 1197.6,1564.1 1200.2,1548.5 1213.9,1543.2 1233.7,1550.5 1234.5,1557.8 1257.7,1559.9 1274.9,1565.1 1287.8,1571.4 1304.9,1572.4 1324.7,1569.3 1337.5,1561 1358.1,1566.2M1110.1,1572.4 1117,1582.9 1129,1586 1137.6,1605.8 1136.7,1614.2 1159,1616.2 1175.3,1623.6 1183.9,1640.2 1214.8,1641.3 1230.2,1642.3 1257.7,1651.7 1279.2,1643.4 1296.3,1642.3 1316.1,1629.8 1316.9,1616.2 1331.5,1618.3 1352.1,1608.9 1364.1,1599.6 1384.7,1598.5 1369.3,1586 1352.1,1585 1347.8,1588.1 1367.6,1569.3 1358.1,1566.2 1377.9,1565.1 1386.5,1537 1392.5,1529.7 1417.4,1527.6 1434.5,1532.8 1445.7,1550.5 1450.8,1566.2 1472.3,1575.6 1480.9,1588.1 1498,1583.9 1512.6,1581.8 1506.6,1595.4 1498.9,1615.2 1487.7,1614.2 1483.4,1631.9 1477.4,1643.4 1471.4,1637.1 1455.1,1647.5 1445.7,1649.6 1438,1659 1424.2,1668.4M1438.8,1692.4 1446.5,1686.1 1458.6,1683M1044,1770.6 1044,1785.2 1056,1793.6 1068.9,1799.8 1086.1,1807.1 1103.2,1810.2 1112.7,1810.2 1112.7,1794.6M1119.5,1801.9 1127.3,1807.1 1137.6,1806.1 1146.1,1805 1146.1,1796.7M1118.7,1793.6 1119.5,1801.9 1112.7,1810.2M1191.6,1790.4 1180.5,1800.9 1173.6,1808.2 1168.5,1822.8 1164.2,1836.3 1157.3,1835.3 1157.3,1854.1 1151.3,1861.4 1148.7,1868.7M1151.3,1861.4 1146.1,1839.5 1139.3,1839.5 1141,1834.2 1149.6,1824.8 1129,1822.8 1127.3,1814.4 1115.2,1809.2 1112.7,1816.5 1119.5,1822.8 1111.8,1829 1117.8,1835.3 1118.7,1849.9 1120.4,1858.2M941.9,1838.4 948.7,1832.2 965.9,1831.1 957.3,1809.2 961.6,1793.6 981.3,1783.1 990.8,1772.7 995.9,1762.3 996.8,1751.8 1002.8,1748.7 991.6,1741.4 990.8,1725.8 1004.5,1720.5 1017.4,1720.5 1024.3,1715.3M1225.1,1864.5 1215.7,1872.8 1206.2,1879.1 1195.9,1892.6 1195.1,1899.9 1201.9,1910.4 1202.8,1923.9 1199.4,1929.1 1207.9,1950 1210.5,1962.5 1204.5,1978.2 1202.8,1981.3M1215.7,1872.8 1219.1,1882.2 1226,1882.2 1223.4,1902 1232.8,1896.8 1242.3,1894.7 1255.1,1904.1 1256,1914.5 1262.9,1922.9 1262,1934.4 1259.4,1936.5 1240.5,1936.5 1236.3,1943.8 1236.3,1955.2 1239.7,1963.6M1259.4,1936.5 1266.3,1935.4 1279.2,1932.3 1279.2,1918.7 1271.4,1908.3 1257.7,1890.6 1249.1,1882.2 1256,1873.9 1240.5,1866.6 1232.8,1852M1279.2,1932.3 1279.2,1955.2 1266.3,1965.7 1266.3,1970.9 1257.7,1971.9 1253.4,1977.1M1215.7,2018.8 1223.4,2025.1 1232.8,2020.9M1297.2,2064.7 1304.9,2076.2 1317.8,2071 1332.4,2072 1339.3,2070 1343.5,2059.5 1348.7,2049.1 1351.3,2040.8 1365.9,2041.8M1566.7,2112.7 1566.7,2180.5M1420.8,2183.6 1428.5,2179.5 1430.2,2183.6" fill="none" stroke="#aad3eb" stroke-width="2.4" stroke-linejoin="round"/>
</g>
<path d="M326.8,1506.8L326.80,1489.40A17.4,17.4 0 0 1 333.21,1522.98Z" fill="#999999" stroke="#000" stroke-width="2.2" stroke-linejoin="round"/><path d="M326.8,1506.8L333.21,1522.98A17.4,17.4 0 1 1 326.80,1489.40Z" fill="#f47b1d" stroke="#000" stroke-width="2.2" stroke-linejoin="round"/>
<circle cx="438" cy="1497.4" r="18" fill="#999999" stroke="#000" stroke-width="2.2"/><path d="M438,1497.4v-18" stroke="#000" stroke-width="2.2" fill="none"/>
<path d="M487.1,1515.8L487.10,1491.40A24.4,24.4 0 1 1 479.56,1492.59Z" fill="#999999" stroke="#000" stroke-width="2.2" stroke-linejoin="round"/><path d="M487.1,1515.8L479.56,1492.59A24.4,24.4 0 0 1 487.10,1491.40Z" fill="#f47b1d" stroke="#000" stroke-width="2.2" stroke-linejoin="round"/>
<path d="M446,1551.4L446.00,1522.10A29.3,29.3 0 1 1 428.78,1575.10Z" fill="#999999" stroke="#000" stroke-width="2.2" stroke-linejoin="round"/><path d="M446,1551.4L428.78,1575.10A29.3,29.3 0 0 1 446.00,1522.10Z" fill="#f47b1d" stroke="#000" stroke-width="2.2" stroke-linejoin="round"/>
<path d="M403.5,1563.2L403.50,1553.80A9.4,9.4 0 0 1 403.50,1572.60Z" fill="#999999" stroke="#000" stroke-width="2.2" stroke-linejoin="round"/><path d="M403.5,1563.2L403.50,1572.60A9.4,9.4 0 0 1 403.50,1553.80Z" fill="#f47b1d" stroke="#000" stroke-width="2.2" stroke-linejoin="round"/>
<path d="M375.3,1602.9L375.30,1577.90A25,25 0 1 1 361.90,1581.79Z" fill="#999999" stroke="#000" stroke-width="2.2" stroke-linejoin="round"/><path d="M375.3,1602.9L361.90,1581.79A25,25 0 0 1 375.30,1577.90Z" fill="#f47b1d" stroke="#000" stroke-width="2.2" stroke-linejoin="round"/>
<path d="M481.5,1589.3L481.50,1562.50A26.8,26.8 0 1 1 458.01,1576.39Z" fill="#999999" stroke="#000" stroke-width="2.2" stroke-linejoin="round"/><path d="M481.5,1589.3L458.01,1576.39A26.8,26.8 0 0 1 481.50,1562.50Z" fill="#f47b1d" stroke="#000" stroke-width="2.2" stroke-linejoin="round"/>
<path d="M570.4,1605.7L570.40,1575.40A30.3,30.3 0 1 1 561.04,1576.88Z" fill="#999999" stroke="#000" stroke-width="2.2" stroke-linejoin="round"/><path d="M570.4,1605.7L561.04,1576.88A30.3,30.3 0 0 1 570.40,1575.40Z" fill="#f47b1d" stroke="#000" stroke-width="2.2" stroke-linejoin="round"/>
<circle cx="464.1" cy="1648.2" r="11.8" fill="#999999" stroke="#000" stroke-width="2.2"/><path d="M464.1,1648.2v-11.8" stroke="#000" stroke-width="2.2" fill="none"/>
<path d="M510.8,1636L510.80,1617.50A18.5,18.5 0 1 1 498.14,1622.51Z" fill="#999999" stroke="#000" stroke-width="2.2" stroke-linejoin="round"/><path d="M510.8,1636L498.14,1622.51A18.5,18.5 0 0 1 510.80,1617.50Z" fill="#f47b1d" stroke="#000" stroke-width="2.2" stroke-linejoin="round"/>
<path d="M285.7,1674.4L285.70,1642.70A31.7,31.7 0 1 1 258.93,1657.41Z" fill="#999999" stroke="#000" stroke-width="2.2" stroke-linejoin="round"/><path d="M285.7,1674.4L258.93,1657.41A31.7,31.7 0 0 1 285.70,1642.70Z" fill="#f47b1d" stroke="#000" stroke-width="2.2" stroke-linejoin="round"/>
<path d="M441.8,1701.2L441.80,1691.80A9.4,9.4 0 0 1 441.80,1710.60Z" fill="#999999" stroke="#000" stroke-width="2.2" stroke-linejoin="round"/><path d="M441.8,1701.2L441.80,1710.60A9.4,9.4 0 0 1 441.80,1691.80Z" fill="#f47b1d" stroke="#000" stroke-width="2.2" stroke-linejoin="round"/>
<path d="M408.4,1740.6L408.40,1725.30A15.3,15.3 0 1 1 401.03,1754.01Z" fill="#999999" stroke="#000" stroke-width="2.2" stroke-linejoin="round"/><path d="M408.4,1740.6L401.03,1754.01A15.3,15.3 0 0 1 408.40,1725.30Z" fill="#f47b1d" stroke="#000" stroke-width="2.2" stroke-linejoin="round"/>
<path d="M295.5,1754.1L295.50,1733.50A20.6,20.6 0 1 1 275.91,1747.73Z" fill="#999999" stroke="#000" stroke-width="2.2" stroke-linejoin="round"/><path d="M295.5,1754.1L275.91,1747.73A20.6,20.6 0 0 1 295.50,1733.50Z" fill="#f47b1d" stroke="#000" stroke-width="2.2" stroke-linejoin="round"/>
<circle cx="223.3" cy="1793.9" r="6.3" fill="#999999" stroke="#000" stroke-width="2.2"/><path d="M223.3,1793.9v-6.3" stroke="#000" stroke-width="2.2" fill="none"/>
<path d="M356.4,1790.7L356.40,1779.20A11.5,11.5 0 1 1 346.32,1796.24Z" fill="#999999" stroke="#000" stroke-width="2.2" stroke-linejoin="round"/><path d="M356.4,1790.7L346.32,1796.24A11.5,11.5 0 0 1 356.40,1779.20Z" fill="#f47b1d" stroke="#000" stroke-width="2.2" stroke-linejoin="round"/>
<circle cx="504.5" cy="1811.3" r="6.3" fill="#999999" stroke="#000" stroke-width="2.2"/><path d="M504.5,1811.3v-6.3" stroke="#000" stroke-width="2.2" fill="none"/>
<circle cx="596" cy="1524.3" r="5.5" fill="#999999" stroke="#000" stroke-width="2.2"/><path d="M596,1524.3v-5.5" stroke="#000" stroke-width="2.2" fill="none"/>
<circle cx="597.6" cy="1666" r="5.5" fill="#999999" stroke="#000" stroke-width="2.2"/><path d="M597.6,1666v-5.5" stroke="#000" stroke-width="2.2" fill="none"/>
<path d="M568.6,1717.9L568.60,1695.30A22.6,22.6 0 1 1 560.28,1696.89Z" fill="#999999" stroke="#000" stroke-width="2.2" stroke-linejoin="round"/><path d="M568.6,1717.9L560.28,1696.89A22.6,22.6 0 0 1 568.60,1695.30Z" fill="#f47b1d" stroke="#000" stroke-width="2.2" stroke-linejoin="round"/>
<circle cx="287.5" cy="1954.1" r="6.3" fill="#999999" stroke="#000" stroke-width="2.2"/><path d="M287.5,1954.1v-6.3" stroke="#000" stroke-width="2.2" fill="none"/>
<circle cx="482.6" cy="1945.8" r="9.4" fill="#f47b1d" stroke="#000" stroke-width="2.2"/><path d="M482.6,1945.8v-9.4" stroke="#000" stroke-width="2.2" fill="none"/>
<circle cx="565.9" cy="1952" r="13.2" fill="#999999" stroke="#000" stroke-width="2.2"/><path d="M565.9,1952v-13.2" stroke="#000" stroke-width="2.2" fill="none"/>
<circle cx="623.8" cy="1580.3" r="16.4" fill="#999999" stroke="#000" stroke-width="2.2"/><path d="M623.8,1580.3v-16.4" stroke="#000" stroke-width="2.2" fill="none"/>
<circle cx="699.7" cy="1563.2" r="11.8" fill="#999999" stroke="#000" stroke-width="2.2"/><path d="M699.7,1563.2v-11.8" stroke="#000" stroke-width="2.2" fill="none"/>
<path d="M728.6,1643.3L728.60,1602.90A40.4,40.4 0 1 1 713.73,1605.74Z" fill="#999999" stroke="#000" stroke-width="2.2" stroke-linejoin="round"/><path d="M728.6,1643.3L713.73,1605.74A40.4,40.4 0 0 1 728.60,1602.90Z" fill="#f47b1d" stroke="#000" stroke-width="2.2" stroke-linejoin="round"/>
<path d="M659,1678.9L659.00,1659.70A19.2,19.2 0 1 1 647.71,1663.37Z" fill="#999999" stroke="#000" stroke-width="2.2" stroke-linejoin="round"/><path d="M659,1678.9L647.71,1663.37A19.2,19.2 0 0 1 659.00,1659.70Z" fill="#f47b1d" stroke="#000" stroke-width="2.2" stroke-linejoin="round"/>
<circle cx="753.7" cy="1688.3" r="19.9" fill="#999999" stroke="#000" stroke-width="2.2"/><path d="M753.7,1688.3v-19.9" stroke="#000" stroke-width="2.2" fill="none"/>
<path d="M658.6,1752.8L658.60,1726.30A26.5,26.5 0 1 1 653.63,1726.77Z" fill="#999999" stroke="#000" stroke-width="2.2" stroke-linejoin="round"/><path d="M658.6,1752.8L653.63,1726.77A26.5,26.5 0 0 1 658.60,1726.30Z" fill="#f47b1d" stroke="#000" stroke-width="2.2" stroke-linejoin="round"/>
<path d="M733.9,1741.3L733.90,1723.90A17.4,17.4 0 1 1 721.22,1729.39Z" fill="#999999" stroke="#000" stroke-width="2.2" stroke-linejoin="round"/><path d="M733.9,1741.3L721.22,1729.39A17.4,17.4 0 0 1 733.90,1723.90Z" fill="#f47b1d" stroke="#000" stroke-width="2.2" stroke-linejoin="round"/>
<circle cx="787.9" cy="1736.7" r="13.6" fill="#999999" stroke="#000" stroke-width="2.2"/><path d="M787.9,1736.7v-13.6" stroke="#000" stroke-width="2.2" fill="none"/>
<circle cx="621" cy="1806.1" r="22" fill="#999999" stroke="#000" stroke-width="2.2"/><path d="M621,1806.1v-22" stroke="#000" stroke-width="2.2" fill="none"/>
<path d="M851.3,1844.4L851.30,1835.00A9.4,9.4 0 0 1 851.30,1853.80Z" fill="#999999" stroke="#000" stroke-width="2.2" stroke-linejoin="round"/><path d="M851.3,1844.4L851.30,1853.80A9.4,9.4 0 0 1 851.30,1835.00Z" fill="#f47b1d" stroke="#000" stroke-width="2.2" stroke-linejoin="round"/>
<path d="M764.2,1924.9L764.20,1908.50A16.4,16.4 0 1 1 749.83,1917.00Z" fill="#999999" stroke="#000" stroke-width="2.2" stroke-linejoin="round"/><path d="M764.2,1924.9L749.83,1917.00A16.4,16.4 0 0 1 764.20,1908.50Z" fill="#f47b1d" stroke="#000" stroke-width="2.2" stroke-linejoin="round"/>
<circle cx="691.4" cy="1929.4" r="17.4" fill="#999999" stroke="#000" stroke-width="2.2"/><path d="M691.4,1929.4v-17.4" stroke="#000" stroke-width="2.2" fill="none"/>
<path d="M930.7,1583.8L930.70,1572.00A11.8,11.8 0 1 1 920.36,1589.48Z" fill="#999999" stroke="#000" stroke-width="2.2" stroke-linejoin="round"/><path d="M930.7,1583.8L920.36,1589.48A11.8,11.8 0 0 1 930.70,1572.00Z" fill="#f47b1d" stroke="#000" stroke-width="2.2" stroke-linejoin="round"/>
<circle cx="910.5" cy="1653.4" r="9.4" fill="#999999" stroke="#000" stroke-width="2.2"/><path d="M910.5,1653.4v-9.4" stroke="#000" stroke-width="2.2" fill="none"/>
<circle cx="867.3" cy="1679.2" r="11.8" fill="#999999" stroke="#000" stroke-width="2.2"/><path d="M867.3,1679.2v-11.8" stroke="#000" stroke-width="2.2" fill="none"/>
<path d="M968,1679.9L968.00,1655.90A24,24 0 1 1 960.58,1657.07Z" fill="#999999" stroke="#000" stroke-width="2.2" stroke-linejoin="round"/><path d="M968,1679.9L960.58,1657.07A24,24 0 0 1 968.00,1655.90Z" fill="#f47b1d" stroke="#000" stroke-width="2.2" stroke-linejoin="round"/>
<path d="M937.4,1731.5L937.40,1709.50A22,22 0 1 1 928.03,1711.59Z" fill="#999999" stroke="#000" stroke-width="2.2" stroke-linejoin="round"/><path d="M937.4,1731.5L928.03,1711.59A22,22 0 0 1 937.40,1709.50Z" fill="#f47b1d" stroke="#000" stroke-width="2.2" stroke-linejoin="round"/>
<circle cx="999.7" cy="1728.7" r="9.4" fill="#999999" stroke="#000" stroke-width="2.2"/><path d="M999.7,1728.7v-9.4" stroke="#000" stroke-width="2.2" fill="none"/>
<path d="M1107.7,1641.6L1107.70,1623.10A18.5,18.5 0 1 1 1094.21,1628.94Z" fill="#999999" stroke="#000" stroke-width="2.2" stroke-linejoin="round"/><path d="M1107.7,1641.6L1094.21,1628.94A18.5,18.5 0 0 1 1107.70,1623.10Z" fill="#f47b1d" stroke="#000" stroke-width="2.2" stroke-linejoin="round"/>
<path d="M1078.1,1789.3L1078.10,1771.90A17.4,17.4 0 1 1 1072.72,1805.85Z" fill="#999999" stroke="#000" stroke-width="2.2" stroke-linejoin="round"/><path d="M1078.1,1789.3L1072.72,1805.85A17.4,17.4 0 0 1 1078.10,1771.90Z" fill="#f47b1d" stroke="#000" stroke-width="2.2" stroke-linejoin="round"/>
<path d="M1033.9,1871.9L1033.90,1844.40A27.5,27.5 0 1 1 1011.65,1855.74Z" fill="#999999" stroke="#000" stroke-width="2.2" stroke-linejoin="round"/><path d="M1033.9,1871.9L1011.65,1855.74A27.5,27.5 0 0 1 1033.90,1844.40Z" fill="#f47b1d" stroke="#000" stroke-width="2.2" stroke-linejoin="round"/>
<path d="M1153.4,1788.3L1153.40,1748.90A39.4,39.4 0 0 1 1183.76,1763.19Z" fill="#999999" stroke="#000" stroke-width="2.2" stroke-linejoin="round"/><path d="M1153.4,1788.3L1183.76,1763.19A39.4,39.4 0 1 1 1153.40,1748.90Z" fill="#f47b1d" stroke="#000" stroke-width="2.2" stroke-linejoin="round"/>
<path d="M1184,1713L1184.00,1696.60A16.4,16.4 0 1 1 1169.63,1705.10Z" fill="#999999" stroke="#000" stroke-width="2.2" stroke-linejoin="round"/><path d="M1184,1713L1169.63,1705.10A16.4,16.4 0 0 1 1184.00,1696.60Z" fill="#f47b1d" stroke="#000" stroke-width="2.2" stroke-linejoin="round"/>
<path d="M1251.3,1712.7L1251.30,1688.70A24,24 0 1 1 1227.49,1709.69Z" fill="#999999" stroke="#000" stroke-width="2.2" stroke-linejoin="round"/><path d="M1251.3,1712.7L1227.49,1709.69A24,24 0 0 1 1251.30,1688.70Z" fill="#f47b1d" stroke="#000" stroke-width="2.2" stroke-linejoin="round"/>
<path d="M1316.4,1697L1316.40,1671.20A25.8,25.8 0 1 1 1296.52,1680.55Z" fill="#999999" stroke="#000" stroke-width="2.2" stroke-linejoin="round"/><path d="M1316.4,1697L1296.52,1680.55A25.8,25.8 0 0 1 1316.40,1671.20Z" fill="#f47b1d" stroke="#000" stroke-width="2.2" stroke-linejoin="round"/>
<circle cx="1355.4" cy="1669.1" r="25.8" fill="#999999" stroke="#000" stroke-width="2.2"/><path d="M1355.4,1669.1v-25.8" stroke="#000" stroke-width="2.2" fill="none"/>
<circle cx="1238.7" cy="1770.2" r="23.7" fill="#999999" stroke="#000" stroke-width="2.2"/><path d="M1238.7,1770.2v-23.7" stroke="#000" stroke-width="2.2" fill="none"/>
<path d="M1319.6,1765.3L1319.60,1738.80A26.5,26.5 0 1 1 1300.28,1747.16Z" fill="#999999" stroke="#000" stroke-width="2.2" stroke-linejoin="round"/><path d="M1319.6,1765.3L1300.28,1747.16A26.5,26.5 0 0 1 1319.60,1738.80Z" fill="#f47b1d" stroke="#000" stroke-width="2.2" stroke-linejoin="round"/>
<path d="M1226.2,1830.8L1226.20,1810.90A19.9,19.9 0 1 1 1216.61,1848.24Z" fill="#999999" stroke="#000" stroke-width="2.2" stroke-linejoin="round"/><path d="M1226.2,1830.8L1216.61,1848.24A19.9,19.9 0 0 1 1226.20,1810.90Z" fill="#f47b1d" stroke="#000" stroke-width="2.2" stroke-linejoin="round"/>
<circle cx="1384.4" cy="1739.9" r="11.5" fill="#999999" stroke="#000" stroke-width="2.2"/><path d="M1384.4,1739.9v-11.5" stroke="#000" stroke-width="2.2" fill="none"/>
<path d="M1461.4,1593.2L1461.40,1574.70A18.5,18.5 0 1 1 1450.53,1578.23Z" fill="#999999" stroke="#000" stroke-width="2.2" stroke-linejoin="round"/><path d="M1461.4,1593.2L1450.53,1578.23A18.5,18.5 0 0 1 1461.40,1574.70Z" fill="#f47b1d" stroke="#000" stroke-width="2.2" stroke-linejoin="round"/>
<path d="M1441.2,1673.3L1441.20,1661.80A11.5,11.5 0 1 1 1431.12,1678.84Z" fill="#999999" stroke="#000" stroke-width="2.2" stroke-linejoin="round"/><path d="M1441.2,1673.3L1431.12,1678.84A11.5,11.5 0 0 1 1441.20,1661.80Z" fill="#f47b1d" stroke="#000" stroke-width="2.2" stroke-linejoin="round"/>
<circle cx="1542.9" cy="1707.8" r="20.9" fill="#999999" stroke="#000" stroke-width="2.2"/><path d="M1542.9,1707.8v-20.9" stroke="#000" stroke-width="2.2" fill="none"/>
<circle cx="1395.5" cy="1836.7" r="6" fill="#999999" stroke="#000" stroke-width="2.2"/><path d="M1395.5,1836.7v-6" stroke="#000" stroke-width="2.2" fill="none"/>
<circle cx="1397.6" cy="1916.2" r="9.4" fill="#999999" stroke="#000" stroke-width="2.2"/><path d="M1397.6,1916.2v-9.4" stroke="#000" stroke-width="2.2" fill="none"/>
<rect x="1463.5" y="1890" width="253" height="92.5" fill="#fff"/>
<text x="1487.5" y="1923.5" font-size="31" text-anchor="start" fill="#000" stroke="#000" stroke-width="0.35" font-style="italic">TaHY5-like</text>
<rect x="1486.5" y="1939" width="39" height="38.5" fill="#f47b1d"/>
<rect x="1614" y="1939" width="39.4" height="38.5" fill="#999999"/>
<text x="1537.5" y="1970" font-size="30" text-anchor="start" fill="#000" stroke="#000" stroke-width="0.35">HA</text>
<text x="1665.5" y="1970" font-size="30" text-anchor="start" fill="#000" stroke="#000" stroke-width="0.35">LA</text>
<path d="M103.2,1667.9h6.3" stroke="#000" stroke-width="2.1"/>
<text x="91.6" y="1678.4" font-size="31" text-anchor="end" fill="#000" stroke="#000" stroke-width="0.35">40</text>
<path d="M103.2,1876.5h6.3" stroke="#000" stroke-width="2.1"/>
<text x="91.6" y="1887" font-size="31" text-anchor="end" fill="#000" stroke="#000" stroke-width="0.35">20</text>
<path d="M354.5,1983.2v5.3" stroke="#000" stroke-width="2.6"/>
<text x="354.5" y="2022" font-size="31" text-anchor="middle" fill="#000" stroke="#000" stroke-width="0.35">0</text>
<path d="M785,1983.2v5.3" stroke="#000" stroke-width="2.6"/>
<text x="785" y="2022" font-size="31" text-anchor="middle" fill="#000" stroke="#000" stroke-width="0.35">50</text>
<path d="M1215.5,1983.2v5.3" stroke="#000" stroke-width="2.6"/>
<text x="1215.5" y="2022" font-size="31" text-anchor="middle" fill="#000" stroke="#000" stroke-width="0.35">100</text>
<text x="-1" y="1472.5" font-size="41" text-anchor="start" fill="#000" stroke="#000" stroke-width="0" font-weight="bold">c</text>
</svg>
</body></html>
